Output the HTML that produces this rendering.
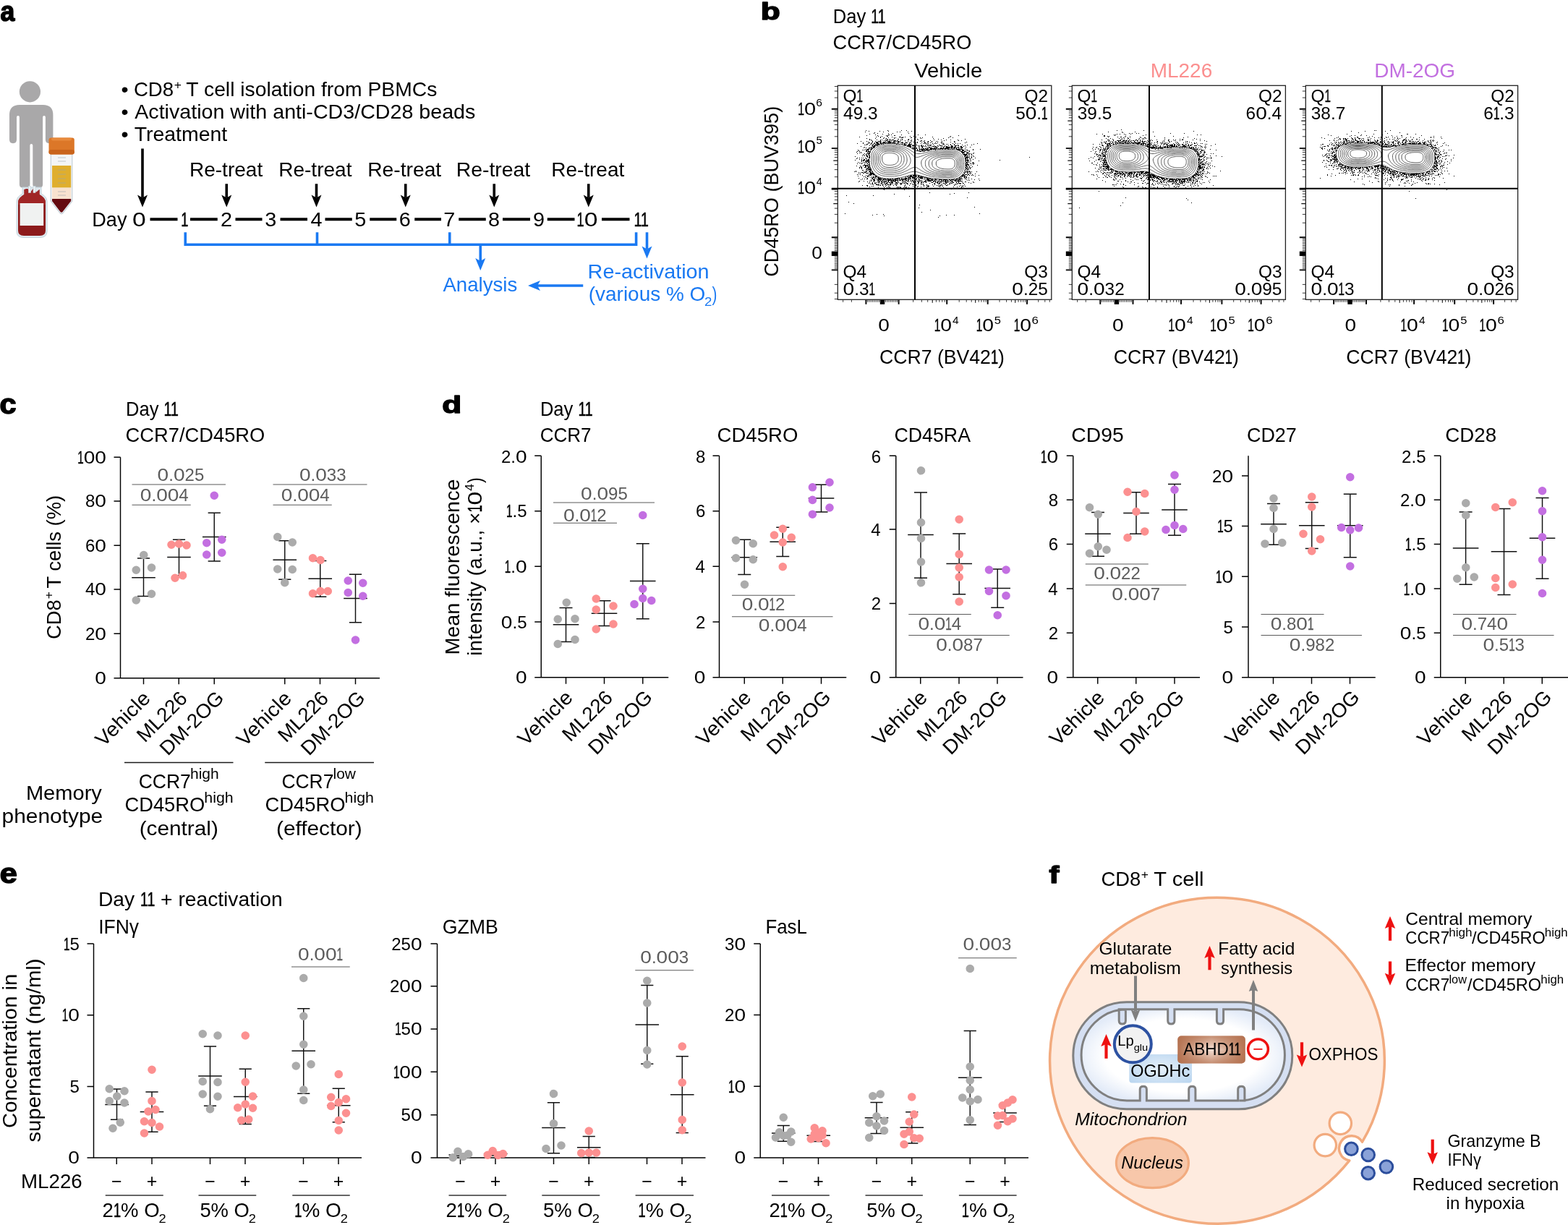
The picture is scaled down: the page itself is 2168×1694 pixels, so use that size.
<!DOCTYPE html>
<html lang="en"><head><meta charset="utf-8"><title>Figure</title>
<style>
html,body{margin:0;padding:0;background:#fff;}
body{width:2168px;height:1694px;overflow:hidden;}
svg{display:block;font-family:"Liberation Sans",sans-serif;}
text{white-space:pre;}
</style></head><body>
<svg width="2168" height="1694" viewBox="0 0 2168 1694">
<rect width="2168" height="1694" fill="#fff"/>
<g stroke="#000" stroke-width="1.5" stroke-linejoin="round">
<text font-size="38" x="0.56" y="28.8" font-weight="bold" textLength="19.82" lengthAdjust="spacingAndGlyphs">a</text>
<text font-size="34" x="1051.68" y="27.4" font-weight="bold" textLength="27.03" lengthAdjust="spacingAndGlyphs">b</text>
<text font-size="38" x="-0.42" y="572.3" font-weight="bold" textLength="23.03" lengthAdjust="spacingAndGlyphs">c</text>
<text font-size="34" x="611.39" y="571.4" font-weight="bold" textLength="26.91" lengthAdjust="spacingAndGlyphs">d</text>
<text font-size="38" x="-0.19" y="1221.4" font-weight="bold" textLength="24.07" lengthAdjust="spacingAndGlyphs">e</text>
<text font-size="34" x="1450.49" y="1221.4" font-weight="bold" textLength="13.83" lengthAdjust="spacingAndGlyphs">f</text>
</g>
<g>
<circle cx="41.4" cy="126.8" r="14.6" fill="#a9a8a9"/>
<path d="M13 159 Q13 145 27 145 L59.5 145 Q73.4 145 73.4 159 L73.4 193 Q73.4 198.2 68.2 198.2 Q62.9 198.2 62.9 193 L62.9 162 Q62.9 160 61 160 Q59.1 160 59.1 162 L59.1 255 Q59.1 259.6 54.5 259.6 L50 259.6 Q45.3 259.6 45.3 255 L45.3 201 Q45.3 199 43.3 199 Q41.4 199 41.4 201 L41.4 255 Q41.4 259.6 36.8 259.6 L31.5 259.6 Q26.9 259.6 26.9 255 L26.9 162 Q26.9 160 25 160 Q23 160 23 162 L23 193 Q23 198.2 18 198.2 Q13 198.2 13 193 Z" fill="#a9a8a9"/>
<path d="M31 259 L31 268 Q23 272 23 279 L23 320 Q23 328.5 33 328.5 L55 328.5 Q65 328.5 65 320 L65 279 Q65 272 57 268 L57 259 Z" fill="#dfe9ee" stroke="#c3d3dc" stroke-width="1"/>
<path d="M33.5 262 L33.5 269 Q25 273.5 25 280 L25 319 Q25 326 33 326 L55 326 Q63 326 63 319 L63 280 Q63 273.5 54.5 269 L54.5 262 L50 266 L46 261 L42 266 L38 261 Z" fill="#8c1a1b"/>
<path d="M33.5 262 L33.5 269 Q25 273.5 25 280 L25 283 L63 283 L63 280 Q63 273.5 54.5 269 L54.5 262 L50 266 L46 261 L42 266 L38 261 Z" fill="#a02626"/>
<rect x="39.5" y="257.5" width="3" height="9" fill="#eef3f5" stroke="#c3d3dc" stroke-width="0.7"/>
<rect x="46" y="257.5" width="3" height="9" fill="#eef3f5" stroke="#c3d3dc" stroke-width="0.7"/>
<rect x="27.6" y="281" width="32.6" height="31" fill="#f0f2f1"/>
<path d="M70.3 212 L70.3 278 L83 294.5 Q85 296.5 87 294.5 L99.8 278 L99.8 212 Z" fill="#f3f5f7" stroke="#c5d0d8" stroke-width="1.2"/>
<path d="M72 229 L98.2 229 L98.2 259.6 L72 259.6 Z" fill="#dfae2e"/>
<path d="M72 259.6 L98.2 259.6 L98.2 275 L72 275 Z" fill="#f8e2cf"/>
<path d="M72 275 L98.2 275 L98.2 278 L86.5 293 Q85 294.5 83.5 293 L72 278 Z" fill="#640a10"/>
<line x1="80" y1="218" x2="91" y2="218" stroke="#9aa6ad" stroke-width="0.6"/>
<line x1="80" y1="223" x2="91" y2="223" stroke="#9aa6ad" stroke-width="0.6"/>
<line x1="80" y1="235" x2="91" y2="235" stroke="#9aa6ad" stroke-width="0.6"/>
<line x1="80" y1="241" x2="91" y2="241" stroke="#9aa6ad" stroke-width="0.6"/>
<line x1="80" y1="247" x2="91" y2="247" stroke="#9aa6ad" stroke-width="0.6"/>
<line x1="80" y1="253" x2="91" y2="253" stroke="#9aa6ad" stroke-width="0.6"/>
<line x1="80" y1="265" x2="91" y2="265" stroke="#9aa6ad" stroke-width="0.6"/>
<line x1="80" y1="270" x2="91" y2="270" stroke="#9aa6ad" stroke-width="0.6"/>
<rect x="67.5" y="190.5" width="35.3" height="23" fill="#dc7728" rx="3"/>
<rect x="67.5" y="207" width="35.3" height="6.6" fill="#c9641c" rx="3"/>
<rect x="71" y="190.5" width="28" height="4" fill="#e88a3c" rx="2"/>
</g>
<text font-size="27.6" x="167.45" y="133" textLength="10.1" lengthAdjust="spacingAndGlyphs">•</text>
<text font-size="27.6" x="184.9" y="133" textLength="55.31" lengthAdjust="spacingAndGlyphs">CD8</text>
<text font-size="16" x="240.65" y="123" textLength="10.22" lengthAdjust="spacingAndGlyphs">+</text>
<text font-size="27.6" x="257.37" y="133" textLength="346.96" lengthAdjust="spacingAndGlyphs">T cell isolation from PBMCs</text>
<text font-size="27.6" x="167.45" y="163.75" textLength="10.1" lengthAdjust="spacingAndGlyphs">•</text>
<text font-size="27.6" x="186.24" y="163.75" textLength="471.09" lengthAdjust="spacingAndGlyphs">Activation with anti-CD3/CD28 beads</text>
<text font-size="27.6" x="167.45" y="194.5" textLength="10.1" lengthAdjust="spacingAndGlyphs">•</text>
<text font-size="27.6" x="185.67" y="194.5" textLength="128.54" lengthAdjust="spacingAndGlyphs">Treatment</text>
<text font-size="27.6" x="261.95" y="243.75" textLength="101.25" lengthAdjust="spacingAndGlyphs">Re-treat</text>
<text font-size="27.6" x="385.2" y="243.75" textLength="101.25" lengthAdjust="spacingAndGlyphs">Re-treat</text>
<text font-size="27.6" x="508.18" y="243.75" textLength="102.02" lengthAdjust="spacingAndGlyphs">Re-treat</text>
<text font-size="27.6" x="630.67" y="243.75" textLength="102.54" lengthAdjust="spacingAndGlyphs">Re-treat</text>
<text font-size="27.6" x="762.21" y="243.75" textLength="101" lengthAdjust="spacingAndGlyphs">Re-treat</text>
<line x1="197" y1="205.5" x2="197" y2="273.5" stroke="#000" stroke-width="3.6"/>
<path d="M197 286.5L190 269.5L197 273.5L204 269.5Z" fill="#000"/>
<line x1="313.25" y1="254.25" x2="313.25" y2="273.5" stroke="#000" stroke-width="3.6"/>
<path d="M313.25 286.5L306.25 269.5L313.25 273.5L320.25 269.5Z" fill="#000"/>
<line x1="437.5" y1="254.25" x2="437.5" y2="273.5" stroke="#000" stroke-width="3.6"/>
<path d="M437.5 286.5L430.5 269.5L437.5 273.5L444.5 269.5Z" fill="#000"/>
<line x1="560.75" y1="254.25" x2="560.75" y2="273.5" stroke="#000" stroke-width="3.6"/>
<path d="M560.75 286.5L553.75 269.5L560.75 273.5L567.75 269.5Z" fill="#000"/>
<line x1="683.25" y1="254.25" x2="683.25" y2="273.5" stroke="#000" stroke-width="3.6"/>
<path d="M683.25 286.5L676.25 269.5L683.25 273.5L690.25 269.5Z" fill="#000"/>
<line x1="813.75" y1="254.25" x2="813.75" y2="273.5" stroke="#000" stroke-width="3.6"/>
<path d="M813.75 286.5L806.75 269.5L813.75 273.5L820.75 269.5Z" fill="#000"/>
<text font-size="27.6" x="127.27" y="313.25"><tspan textLength="55.82" lengthAdjust="spacingAndGlyphs">Day </tspan><tspan textLength="18.73" lengthAdjust="spacingAndGlyphs">0</tspan></text>
<text font-size="27.6" x="250.19" y="313.25" textLength="10.13" lengthAdjust="spacingAndGlyphs" stroke="#000" stroke-width="0.58">1</text>
<text font-size="27.6" x="304.98" y="313.25" textLength="16.04" lengthAdjust="spacingAndGlyphs">2</text>
<text font-size="27.6" x="366.31" y="313.25" textLength="16.04" lengthAdjust="spacingAndGlyphs">3</text>
<text font-size="27.6" x="429.57" y="313.25" textLength="16.04" lengthAdjust="spacingAndGlyphs">4</text>
<text font-size="27.6" x="490.26" y="313.25" textLength="16.04" lengthAdjust="spacingAndGlyphs">5</text>
<text font-size="27.6" x="551.88" y="313.25" textLength="16.04" lengthAdjust="spacingAndGlyphs">6</text>
<text font-size="27.6" x="613.22" y="313.25" textLength="16.04" lengthAdjust="spacingAndGlyphs">7</text>
<text font-size="27.6" x="674.98" y="313.25" textLength="16.04" lengthAdjust="spacingAndGlyphs">8</text>
<text font-size="27.6" x="736.99" y="313.25" textLength="16.04" lengthAdjust="spacingAndGlyphs">9</text>
<text font-size="27.6" x="797.54" y="313.25"><tspan textLength="10.13" lengthAdjust="spacingAndGlyphs" stroke="#000" stroke-width="0.58">1</tspan><tspan textLength="18.73" lengthAdjust="spacingAndGlyphs">0</tspan></text>
<text font-size="27.6" x="876.62" y="313.25" textLength="20.26" lengthAdjust="spacingAndGlyphs" stroke="#000" stroke-width="0.58">11</text>
<line x1="207.5" y1="303.3" x2="245.5" y2="303.3" stroke="#000" stroke-width="4"/>
<line x1="263" y1="303.3" x2="300.75" y2="303.3" stroke="#000" stroke-width="4"/>
<line x1="325.5" y1="303.3" x2="362.5" y2="303.3" stroke="#000" stroke-width="4"/>
<line x1="387.5" y1="303.3" x2="425" y2="303.3" stroke="#000" stroke-width="4"/>
<line x1="449.5" y1="303.3" x2="486.75" y2="303.3" stroke="#000" stroke-width="4"/>
<line x1="511.25" y1="303.3" x2="548.25" y2="303.3" stroke="#000" stroke-width="4"/>
<line x1="573.25" y1="303.3" x2="610" y2="303.3" stroke="#000" stroke-width="4"/>
<line x1="634.25" y1="303.3" x2="671.75" y2="303.3" stroke="#000" stroke-width="4"/>
<line x1="695" y1="303.3" x2="733" y2="303.3" stroke="#000" stroke-width="4"/>
<line x1="756.75" y1="303.3" x2="794.5" y2="303.3" stroke="#000" stroke-width="4"/>
<line x1="832" y1="303.3" x2="870.5" y2="303.3" stroke="#000" stroke-width="4"/>
<path d="M256.25 321.25V338.3H879.6V321.25M438.5 321.25V338.3M621.75 321.25V338.3" fill="none" stroke="#1a79f2" stroke-width="3.6" stroke-linejoin="miter"/>
<line x1="664.25" y1="338" x2="664.25" y2="361" stroke="#1a79f2" stroke-width="3.6"/>
<path d="M664.25 374L657.25 357L664.25 361L671.25 357Z" fill="#1a79f2"/>
<line x1="894.5" y1="321.25" x2="894.5" y2="344.5" stroke="#1a79f2" stroke-width="3.6"/>
<path d="M894.5 357.5L887.5 340.5L894.5 344.5L901.5 340.5Z" fill="#1a79f2"/>
<line x1="806.25" y1="395" x2="743" y2="395" stroke="#1a79f2" stroke-width="3.6"/>
<path d="M730 395L747 388L743 395L747 402Z" fill="#1a79f2"/>
<text font-size="27.6" x="612.45" y="402.5" fill="#1a79f2" textLength="102.8" lengthAdjust="spacingAndGlyphs">Analysis</text>
<text font-size="27.6" x="812.64" y="385" fill="#1a79f2" textLength="167.98" lengthAdjust="spacingAndGlyphs">Re-activation</text>
<text font-size="27.6" x="813.77" y="416.25" fill="#1a79f2" textLength="161.57" lengthAdjust="spacingAndGlyphs">(various % O</text>
<text font-size="16" x="974.06" y="422.5" fill="#1a79f2" textLength="10.38" lengthAdjust="spacingAndGlyphs">2</text>
<text font-size="27.6" x="984.38" y="416.25" fill="#1a79f2" textLength="6.91" lengthAdjust="spacingAndGlyphs">)</text>
<text font-size="27.6" x="1151.7" y="32"><tspan textLength="52.63" lengthAdjust="spacingAndGlyphs">Day </tspan><tspan textLength="20.26" lengthAdjust="spacingAndGlyphs" stroke="#000" stroke-width="0.58">11</tspan></text>
<text font-size="27.6" x="1151.62" y="67.5" textLength="191.68" lengthAdjust="spacingAndGlyphs">CCR7/CD45RO</text>
<text font-size="27.6" x="-117.85" y="0" transform="translate(1076.3 265) rotate(-90)" textLength="236" lengthAdjust="spacingAndGlyphs">CD45RO (BUV395)</text>
<text font-size="27.6" x="1264.17" y="106.8" fill="#000" textLength="94.1" lengthAdjust="spacingAndGlyphs">Vehicle</text>
<path d="M1181 237h1M1182 216h1M1182 221h1M1183 236h1M1183 237h1M1184 210h1M1184 219h1M1184 229h1M1185 198h1M1185 209h1M1185 212h1M1185 218h1M1185 226h1M1185 241h1M1186 207h1M1186 224h1M1186 243h1M1187 208h1M1187 238h1M1187 240h1M1187 246h1M1187 251h1M1188 189h1M1188 209h1M1188 211h1M1188 218h1M1188 220h1M1188 225h1M1188 231h1M1188 232h1M1188 250h1M1189 229h1M1189 239h1M1189 241h1M1190 195h1M1190 202h1M1190 210h1M1190 211h1M1190 225h1M1190 230h1M1190 231h1M1190 248h1M1191 218h1M1191 220h1M1191 221h1M1191 222h1M1191 223h1M1191 226h1M1191 231h1M1191 232h1M1191 233h1M1191 238h1M1192 207h1M1192 215h1M1192 225h1M1192 235h1M1192 238h1M1192 242h1M1192 247h1M1192 256h1M1193 197h1M1193 198h1M1193 213h1M1193 218h1M1193 221h1M1193 222h1M1193 229h1M1193 235h1M1193 239h1M1194 204h1M1194 207h1M1194 214h1M1194 220h1M1194 221h1M1194 222h1M1194 224h1M1194 228h1M1194 237h1M1194 239h1M1194 244h1M1194 250h1M1195 200h1M1195 203h1M1195 212h1M1195 215h1M1195 220h1M1195 221h1M1195 225h1M1195 227h1M1195 228h1M1195 231h1M1195 238h1M1195 247h1M1196 182h1M1196 206h1M1196 218h1M1196 223h1M1196 228h1M1196 229h1M1196 230h1M1196 231h1M1196 237h1M1196 238h1M1196 244h1M1197 180h1M1197 200h1M1197 204h1M1197 208h1M1197 209h1M1197 213h1M1197 214h1M1197 219h1M1197 221h1M1197 222h1M1197 223h1M1197 224h1M1197 225h1M1197 228h1M1197 229h1M1197 230h1M1197 231h1M1197 233h1M1197 235h1M1197 237h1M1197 239h1M1197 242h1M1197 245h1M1198 187h1M1198 191h1M1198 195h1M1198 199h1M1198 206h1M1198 207h1M1198 208h1M1198 209h1M1198 212h1M1198 214h1M1198 215h1M1198 216h1M1198 219h1M1198 221h1M1198 223h1M1198 228h1M1198 233h1M1198 234h1M1198 236h1M1198 237h1M1198 239h1M1198 247h1M1198 256h1M1199 199h1M1199 206h1M1199 207h1M1199 210h1M1199 212h1M1199 215h1M1199 216h1M1199 217h1M1199 221h1M1199 222h1M1199 223h1M1199 225h1M1199 226h1M1199 228h1M1199 229h1M1199 230h1M1199 232h1M1199 233h1M1199 235h1M1199 239h1M1199 243h1M1199 244h1M1199 246h1M1199 247h1M1199 251h1M1199 256h1M1199 257h1M1200 196h1M1200 198h1M1200 206h1M1200 207h1M1200 208h1M1200 209h1M1200 210h1M1200 212h1M1200 213h1M1200 220h1M1200 221h1M1200 222h1M1200 223h1M1200 224h1M1200 227h1M1200 229h1M1200 231h1M1200 232h1M1200 234h1M1200 239h1M1200 242h1M1200 243h1M1201 181h1M1201 197h1M1201 204h1M1201 205h1M1201 206h1M1201 209h1M1201 211h1M1201 212h1M1201 214h1M1201 215h1M1201 217h1M1201 218h1M1201 220h1M1201 221h1M1201 222h1M1201 224h1M1201 225h1M1201 227h1M1201 229h1M1201 230h1M1201 231h1M1201 232h1M1201 233h1M1201 234h1M1201 235h1M1201 237h1M1201 241h1M1201 244h1M1201 253h1M1202 185h1M1202 192h1M1202 193h1M1202 197h1M1202 201h1M1202 204h1M1202 209h1M1202 210h1M1202 211h1M1202 212h1M1202 213h1M1202 215h1M1202 216h1M1202 217h1M1202 218h1M1202 223h1M1202 226h1M1202 227h1M1202 228h1M1202 229h1M1202 231h1M1202 233h1M1202 234h1M1202 236h1M1202 237h1M1202 239h1M1202 241h1M1202 242h1M1202 250h1M1202 252h1M1202 258h1M1203 199h1M1203 204h1M1203 206h1M1203 208h1M1203 210h1M1203 231h1M1203 232h1M1203 233h1M1203 234h1M1203 235h1M1203 236h1M1203 237h1M1203 238h1M1203 239h1M1203 240h1M1203 241h1M1203 242h1M1203 254h1M1204 193h1M1204 198h1M1204 203h1M1204 205h1M1204 206h1M1204 207h1M1204 233h1M1204 234h1M1204 235h1M1204 238h1M1204 239h1M1204 240h1M1204 241h1M1204 245h1M1204 248h1M1204 249h1M1204 250h1M1205 194h1M1205 197h1M1205 198h1M1205 200h1M1205 203h1M1205 204h1M1205 205h1M1205 206h1M1205 236h1M1205 237h1M1205 239h1M1205 240h1M1205 241h1M1205 243h1M1205 246h1M1205 254h1M1205 257h1M1205 260h1M1206 195h1M1206 196h1M1206 200h1M1206 201h1M1206 202h1M1206 205h1M1206 237h1M1206 238h1M1206 239h1M1206 240h1M1206 245h1M1206 246h1M1206 247h1M1206 252h1M1206 253h1M1206 254h1M1207 199h1M1207 202h1M1207 203h1M1207 204h1M1207 239h1M1207 240h1M1207 241h1M1207 244h1M1207 245h1M1207 247h1M1207 248h1M1207 250h1M1207 255h1M1207 257h1M1208 184h1M1208 198h1M1208 200h1M1208 201h1M1208 202h1M1208 203h1M1208 204h1M1208 240h1M1208 241h1M1208 242h1M1208 244h1M1208 245h1M1208 248h1M1208 249h1M1208 250h1M1209 183h1M1209 197h1M1209 198h1M1209 201h1M1209 202h1M1209 203h1M1209 241h1M1209 246h1M1209 247h1M1209 248h1M1209 249h1M1209 250h1M1209 252h1M1209 253h1M1210 186h1M1210 191h1M1210 195h1M1210 199h1M1210 200h1M1210 201h1M1210 242h1M1210 243h1M1210 244h1M1210 245h1M1210 253h1M1211 189h1M1211 196h1M1211 197h1M1211 199h1M1211 201h1M1211 243h1M1211 244h1M1211 246h1M1211 252h1M1211 254h1M1211 255h1M1212 193h1M1212 196h1M1212 197h1M1212 198h1M1212 199h1M1212 200h1M1212 201h1M1212 243h1M1212 244h1M1212 248h1M1212 255h1M1213 184h1M1213 187h1M1213 196h1M1213 197h1M1213 198h1M1213 199h1M1213 201h1M1213 245h1M1213 247h1M1213 249h1M1213 251h1M1213 255h1M1214 188h1M1214 195h1M1214 197h1M1214 198h1M1214 199h1M1214 200h1M1214 244h1M1214 245h1M1214 246h1M1214 247h1M1214 248h1M1214 249h1M1214 250h1M1214 252h1M1214 254h1M1214 255h1M1214 256h1M1214 259h1M1215 195h1M1215 199h1M1215 200h1M1215 245h1M1215 246h1M1215 247h1M1215 248h1M1215 250h1M1215 251h1M1215 252h1M1216 181h1M1216 195h1M1216 197h1M1216 199h1M1216 246h1M1216 247h1M1216 248h1M1216 249h1M1216 251h1M1216 254h1M1216 256h1M1217 189h1M1217 190h1M1217 193h1M1217 194h1M1217 195h1M1217 196h1M1217 197h1M1217 198h1M1217 245h1M1217 246h1M1217 247h1M1217 248h1M1217 249h1M1217 256h1M1218 196h1M1218 198h1M1218 199h1M1218 247h1M1218 250h1M1218 251h1M1218 253h1M1218 254h1M1219 188h1M1219 193h1M1219 198h1M1219 199h1M1219 246h1M1219 247h1M1219 248h1M1219 249h1M1219 251h1M1219 252h1M1219 253h1M1220 185h1M1220 197h1M1220 249h1M1220 251h1M1220 254h1M1220 255h1M1220 256h1M1221 182h1M1221 191h1M1221 196h1M1221 197h1M1221 198h1M1221 199h1M1221 247h1M1221 248h1M1221 249h1M1221 251h1M1221 257h1M1221 261h1M1222 190h1M1222 194h1M1222 196h1M1222 197h1M1222 247h1M1222 248h1M1222 251h1M1222 252h1M1222 254h1M1222 259h1M1222 261h1M1222 262h1M1223 196h1M1223 197h1M1223 198h1M1223 247h1M1223 249h1M1223 250h1M1223 251h1M1223 253h1M1223 260h1M1224 192h1M1224 194h1M1224 195h1M1224 197h1M1224 198h1M1224 247h1M1224 248h1M1224 251h1M1224 254h1M1224 255h1M1224 257h1M1225 187h1M1225 191h1M1225 194h1M1225 197h1M1225 248h1M1225 249h1M1225 250h1M1225 251h1M1225 253h1M1225 254h1M1225 256h1M1226 188h1M1226 192h1M1226 193h1M1226 194h1M1226 196h1M1226 198h1M1226 247h1M1226 252h1M1226 253h1M1226 259h1M1227 180h1M1227 187h1M1227 188h1M1227 193h1M1227 195h1M1227 197h1M1227 198h1M1227 247h1M1227 248h1M1227 249h1M1227 250h1M1227 252h1M1227 254h1M1227 255h1M1228 181h1M1228 184h1M1228 186h1M1228 190h1M1228 195h1M1228 196h1M1228 197h1M1228 198h1M1228 247h1M1228 248h1M1228 249h1M1228 250h1M1228 251h1M1228 255h1M1228 257h1M1228 259h1M1229 186h1M1229 193h1M1229 195h1M1229 196h1M1229 197h1M1229 198h1M1229 248h1M1229 249h1M1229 252h1M1229 258h1M1230 192h1M1230 194h1M1230 195h1M1230 196h1M1230 197h1M1230 198h1M1230 247h1M1230 248h1M1230 249h1M1230 252h1M1230 254h1M1230 255h1M1230 256h1M1230 259h1M1231 193h1M1231 196h1M1231 197h1M1231 198h1M1231 247h1M1231 248h1M1231 249h1M1231 251h1M1231 253h1M1231 254h1M1231 255h1M1231 260h1M1232 186h1M1232 194h1M1232 196h1M1232 198h1M1232 248h1M1232 249h1M1232 250h1M1232 251h1M1232 252h1M1232 254h1M1233 189h1M1233 193h1M1233 197h1M1233 198h1M1233 247h1M1233 249h1M1233 251h1M1233 252h1M1233 253h1M1234 184h1M1234 193h1M1234 197h1M1234 247h1M1234 248h1M1234 249h1M1234 250h1M1234 251h1M1234 252h1M1234 254h1M1234 260h1M1235 193h1M1235 195h1M1235 196h1M1235 197h1M1235 198h1M1235 248h1M1235 249h1M1235 250h1M1235 256h1M1235 260h1M1236 187h1M1236 190h1M1236 191h1M1236 194h1M1236 195h1M1236 197h1M1236 198h1M1236 248h1M1236 250h1M1237 187h1M1237 194h1M1237 195h1M1237 196h1M1237 197h1M1237 198h1M1237 247h1M1237 248h1M1237 249h1M1237 250h1M1237 251h1M1237 254h1M1238 190h1M1238 194h1M1238 198h1M1238 247h1M1238 248h1M1238 249h1M1238 250h1M1238 252h1M1238 253h1M1238 255h1M1239 195h1M1239 199h1M1239 247h1M1239 249h1M1239 252h1M1239 253h1M1239 255h1M1239 256h1M1240 182h1M1240 194h1M1240 197h1M1240 199h1M1240 246h1M1240 247h1M1240 248h1M1240 249h1M1240 252h1M1240 253h1M1240 254h1M1240 258h1M1240 259h1M1241 192h1M1241 194h1M1241 195h1M1241 196h1M1241 198h1M1241 246h1M1241 247h1M1241 249h1M1241 250h1M1241 251h1M1241 260h1M1241 261h1M1242 192h1M1242 195h1M1242 196h1M1242 197h1M1242 199h1M1242 246h1M1242 248h1M1242 252h1M1242 258h1M1242 259h1M1243 189h1M1243 196h1M1243 199h1M1243 246h1M1243 247h1M1243 249h1M1244 182h1M1244 189h1M1244 195h1M1244 199h1M1244 247h1M1244 248h1M1244 249h1M1244 253h1M1244 258h1M1244 259h1M1244 260h1M1245 189h1M1245 192h1M1245 194h1M1245 197h1M1245 249h1M1245 253h1M1245 254h1M1245 255h1M1245 259h1M1246 180h1M1246 186h1M1246 190h1M1246 197h1M1246 199h1M1246 246h1M1246 247h1M1246 248h1M1246 253h1M1246 254h1M1247 190h1M1247 192h1M1247 193h1M1247 196h1M1247 197h1M1247 199h1M1247 247h1M1247 248h1M1247 249h1M1247 251h1M1247 261h1M1248 189h1M1248 190h1M1248 197h1M1248 198h1M1248 200h1M1248 246h1M1248 248h1M1248 249h1M1248 250h1M1248 252h1M1248 253h1M1248 260h1M1249 200h1M1249 247h1M1249 248h1M1249 251h1M1249 259h1M1249 261h1M1250 198h1M1250 199h1M1250 200h1M1250 201h1M1250 246h1M1250 248h1M1250 250h1M1250 253h1M1250 257h1M1250 262h1M1251 189h1M1251 194h1M1251 198h1M1251 199h1M1251 200h1M1251 246h1M1251 247h1M1251 248h1M1251 251h1M1251 252h1M1251 253h1M1251 255h1M1251 256h1M1251 258h1M1251 259h1M1252 196h1M1252 197h1M1252 200h1M1252 201h1M1252 244h1M1252 245h1M1252 246h1M1252 247h1M1252 248h1M1252 249h1M1252 250h1M1253 180h1M1253 197h1M1253 199h1M1253 246h1M1253 247h1M1253 249h1M1253 252h1M1253 253h1M1253 258h1M1253 259h1M1253 260h1M1254 197h1M1254 201h1M1254 202h1M1254 244h1M1254 247h1M1254 250h1M1254 253h1M1254 254h1M1255 182h1M1255 193h1M1255 195h1M1255 200h1M1255 201h1M1255 202h1M1255 244h1M1255 245h1M1255 247h1M1255 249h1M1255 250h1M1255 254h1M1256 184h1M1256 192h1M1256 193h1M1256 199h1M1256 200h1M1256 201h1M1256 202h1M1256 243h1M1256 245h1M1256 246h1M1256 247h1M1256 248h1M1256 249h1M1256 251h1M1256 259h1M1256 261h1M1257 197h1M1257 198h1M1257 199h1M1257 200h1M1257 201h1M1257 202h1M1257 244h1M1257 245h1M1257 247h1M1257 256h1M1258 188h1M1258 196h1M1258 199h1M1258 200h1M1258 201h1M1258 202h1M1258 203h1M1258 242h1M1258 243h1M1258 244h1M1258 245h1M1258 246h1M1258 247h1M1258 254h1M1259 190h1M1259 194h1M1259 197h1M1259 199h1M1259 201h1M1259 202h1M1259 203h1M1259 242h1M1259 243h1M1259 244h1M1259 246h1M1259 248h1M1259 249h1M1259 250h1M1259 253h1M1260 181h1M1260 190h1M1260 193h1M1260 195h1M1260 199h1M1260 242h1M1260 243h1M1260 244h1M1260 251h1M1261 201h1M1261 204h1M1261 205h1M1261 244h1M1261 245h1M1261 246h1M1261 249h1M1261 254h1M1262 200h1M1262 201h1M1262 202h1M1262 204h1M1262 206h1M1262 242h1M1262 243h1M1262 244h1M1262 245h1M1262 246h1M1262 248h1M1262 249h1M1262 250h1M1262 251h1M1262 255h1M1262 257h1M1263 188h1M1263 196h1M1263 201h1M1263 204h1M1263 205h1M1263 242h1M1263 243h1M1263 245h1M1263 246h1M1263 251h1M1263 252h1M1263 254h1M1264 195h1M1264 199h1M1264 205h1M1264 206h1M1264 207h1M1264 243h1M1264 244h1M1264 245h1M1264 246h1M1264 248h1M1264 252h1M1264 254h1M1265 198h1M1265 200h1M1265 202h1M1265 206h1M1265 207h1M1265 242h1M1265 243h1M1265 244h1M1265 245h1M1265 246h1M1265 251h1M1265 256h1M1265 260h1M1266 189h1M1266 197h1M1266 199h1M1266 201h1M1266 203h1M1266 205h1M1266 242h1M1266 243h1M1266 244h1M1266 247h1M1266 248h1M1266 251h1M1266 255h1M1266 256h1M1267 200h1M1267 204h1M1267 205h1M1267 208h1M1267 242h1M1267 244h1M1267 246h1M1267 247h1M1267 249h1M1268 192h1M1268 196h1M1268 197h1M1268 206h1M1268 207h1M1268 208h1M1268 245h1M1268 250h1M1268 258h1M1269 186h1M1269 193h1M1269 201h1M1269 208h1M1269 242h1M1269 243h1M1269 244h1M1269 250h1M1269 251h1M1269 252h1M1269 253h1M1269 254h1M1269 257h1M1270 202h1M1270 204h1M1270 208h1M1270 242h1M1270 243h1M1270 244h1M1270 245h1M1270 246h1M1270 247h1M1270 248h1M1270 249h1M1270 251h1M1270 252h1M1271 201h1M1271 203h1M1271 205h1M1271 206h1M1271 207h1M1271 209h1M1271 243h1M1271 245h1M1271 248h1M1271 250h1M1272 190h1M1272 195h1M1272 206h1M1272 208h1M1272 209h1M1272 244h1M1272 245h1M1272 246h1M1272 249h1M1272 250h1M1273 191h1M1273 194h1M1273 198h1M1273 201h1M1273 206h1M1273 209h1M1273 243h1M1273 244h1M1273 245h1M1273 246h1M1273 247h1M1273 252h1M1273 253h1M1273 255h1M1273 258h1M1274 194h1M1274 196h1M1274 200h1M1274 201h1M1274 202h1M1274 203h1M1274 205h1M1274 206h1M1274 207h1M1274 208h1M1274 244h1M1274 245h1M1274 246h1M1274 249h1M1274 250h1M1274 251h1M1274 252h1M1274 254h1M1275 190h1M1275 202h1M1275 203h1M1275 204h1M1275 206h1M1275 207h1M1275 208h1M1275 244h1M1275 245h1M1275 246h1M1275 247h1M1275 260h1M1276 198h1M1276 201h1M1276 205h1M1276 206h1M1276 207h1M1276 208h1M1276 209h1M1276 244h1M1276 251h1M1276 252h1M1276 254h1M1276 255h1M1277 195h1M1277 202h1M1277 205h1M1277 206h1M1277 208h1M1277 245h1M1277 247h1M1277 256h1M1277 257h1M1278 194h1M1278 196h1M1278 197h1M1278 198h1M1278 206h1M1278 207h1M1278 208h1M1278 209h1M1278 245h1M1278 247h1M1278 250h1M1278 251h1M1279 186h1M1279 197h1M1279 201h1M1279 202h1M1279 205h1M1279 207h1M1279 245h1M1279 247h1M1279 249h1M1279 250h1M1279 251h1M1280 198h1M1280 199h1M1280 204h1M1280 205h1M1280 206h1M1280 207h1M1280 245h1M1280 249h1M1280 251h1M1280 252h1M1281 202h1M1281 206h1M1281 207h1M1281 245h1M1281 246h1M1281 247h1M1281 248h1M1281 250h1M1281 255h1M1281 256h1M1281 258h1M1281 259h1M1282 196h1M1282 198h1M1282 200h1M1282 204h1M1282 205h1M1282 206h1M1282 207h1M1282 208h1M1282 246h1M1282 247h1M1282 248h1M1282 249h1M1282 257h1M1283 195h1M1283 196h1M1283 198h1M1283 200h1M1283 203h1M1283 205h1M1283 206h1M1283 208h1M1283 246h1M1283 247h1M1283 248h1M1283 249h1M1283 250h1M1283 256h1M1283 257h1M1283 258h1M1283 260h1M1284 201h1M1284 203h1M1284 207h1M1284 208h1M1284 247h1M1284 248h1M1284 249h1M1284 250h1M1284 257h1M1284 261h1M1285 200h1M1285 203h1M1285 204h1M1285 206h1M1285 207h1M1285 246h1M1285 247h1M1285 249h1M1285 250h1M1285 253h1M1286 194h1M1286 197h1M1286 200h1M1286 201h1M1286 204h1M1286 205h1M1286 206h1M1286 247h1M1286 249h1M1286 250h1M1286 261h1M1287 200h1M1287 202h1M1287 204h1M1287 205h1M1287 206h1M1287 207h1M1287 247h1M1287 248h1M1287 249h1M1287 251h1M1288 195h1M1288 196h1M1288 204h1M1288 205h1M1288 206h1M1288 248h1M1288 249h1M1288 252h1M1289 189h1M1289 198h1M1289 202h1M1289 205h1M1289 247h1M1289 248h1M1289 249h1M1289 252h1M1289 255h1M1290 191h1M1290 199h1M1290 202h1M1290 205h1M1290 206h1M1290 248h1M1290 250h1M1290 251h1M1290 257h1M1291 193h1M1291 201h1M1291 203h1M1291 205h1M1291 206h1M1291 250h1M1291 253h1M1292 198h1M1292 202h1M1292 204h1M1292 205h1M1292 206h1M1292 247h1M1292 248h1M1292 249h1M1292 250h1M1292 253h1M1292 254h1M1292 255h1M1293 197h1M1293 202h1M1293 203h1M1293 205h1M1293 206h1M1293 207h1M1293 247h1M1293 248h1M1293 250h1M1293 251h1M1293 252h1M1294 195h1M1294 198h1M1294 203h1M1294 204h1M1294 205h1M1294 247h1M1294 248h1M1294 249h1M1295 202h1M1295 204h1M1295 206h1M1295 251h1M1295 252h1M1295 256h1M1296 195h1M1296 197h1M1296 201h1M1296 204h1M1296 206h1M1296 247h1M1296 249h1M1296 251h1M1296 252h1M1296 253h1M1297 192h1M1297 202h1M1297 205h1M1297 206h1M1297 250h1M1297 251h1M1297 253h1M1297 255h1M1297 257h1M1298 200h1M1298 206h1M1298 248h1M1298 249h1M1298 253h1M1299 200h1M1299 205h1M1299 206h1M1299 248h1M1299 250h1M1299 251h1M1299 252h1M1299 253h1M1299 254h1M1299 256h1M1299 257h1M1299 258h1M1300 201h1M1300 204h1M1300 205h1M1300 206h1M1300 248h1M1300 251h1M1300 256h1M1301 193h1M1301 196h1M1301 197h1M1301 201h1M1301 202h1M1301 204h1M1301 205h1M1301 248h1M1301 249h1M1301 250h1M1301 252h1M1301 255h1M1302 195h1M1302 198h1M1302 204h1M1302 205h1M1302 206h1M1302 248h1M1302 250h1M1302 251h1M1302 254h1M1302 256h1M1303 197h1M1303 200h1M1303 202h1M1303 205h1M1303 206h1M1303 249h1M1303 257h1M1304 191h1M1304 198h1M1304 199h1M1304 203h1M1304 204h1M1304 205h1M1304 248h1M1304 249h1M1304 250h1M1304 251h1M1304 253h1M1304 259h1M1305 194h1M1305 199h1M1305 203h1M1305 205h1M1305 248h1M1305 253h1M1306 201h1M1306 202h1M1306 205h1M1306 206h1M1306 248h1M1306 249h1M1306 250h1M1306 251h1M1306 254h1M1307 204h1M1307 205h1M1307 206h1M1307 248h1M1307 249h1M1307 250h1M1307 251h1M1307 252h1M1307 253h1M1307 255h1M1308 193h1M1308 199h1M1308 202h1M1308 203h1M1308 204h1M1308 205h1M1308 248h1M1308 250h1M1308 252h1M1308 253h1M1308 256h1M1309 202h1M1309 203h1M1309 204h1M1309 205h1M1309 248h1M1309 249h1M1309 250h1M1309 251h1M1309 252h1M1309 256h1M1310 199h1M1310 203h1M1310 204h1M1310 205h1M1310 206h1M1310 249h1M1310 251h1M1310 255h1M1311 190h1M1311 201h1M1311 203h1M1311 204h1M1311 205h1M1311 206h1M1311 249h1M1311 251h1M1312 203h1M1312 204h1M1312 206h1M1312 248h1M1312 251h1M1312 254h1M1312 260h1M1313 189h1M1313 203h1M1313 205h1M1313 248h1M1313 249h1M1313 253h1M1313 254h1M1314 188h1M1314 193h1M1314 196h1M1314 199h1M1314 200h1M1314 203h1M1314 206h1M1314 249h1M1314 250h1M1314 252h1M1315 201h1M1315 202h1M1315 203h1M1315 204h1M1315 205h1M1315 248h1M1315 249h1M1315 251h1M1315 253h1M1315 261h1M1316 201h1M1316 202h1M1316 203h1M1316 204h1M1316 206h1M1316 248h1M1316 250h1M1316 251h1M1316 253h1M1317 190h1M1317 198h1M1317 202h1M1317 203h1M1317 205h1M1317 206h1M1317 248h1M1317 249h1M1317 251h1M1317 252h1M1318 204h1M1318 206h1M1318 248h1M1318 252h1M1318 258h1M1319 195h1M1319 196h1M1319 199h1M1319 200h1M1319 203h1M1319 204h1M1319 205h1M1319 206h1M1319 247h1M1319 249h1M1319 255h1M1319 256h1M1320 196h1M1320 201h1M1320 202h1M1320 203h1M1320 204h1M1320 248h1M1320 249h1M1320 250h1M1321 198h1M1321 201h1M1321 202h1M1321 204h1M1321 248h1M1321 249h1M1321 250h1M1321 254h1M1321 255h1M1322 201h1M1322 204h1M1322 205h1M1322 206h1M1322 247h1M1322 248h1M1322 249h1M1322 251h1M1322 252h1M1323 204h1M1323 206h1M1323 207h1M1323 247h1M1323 250h1M1323 253h1M1323 254h1M1323 258h1M1324 193h1M1324 198h1M1324 200h1M1324 201h1M1324 203h1M1324 206h1M1324 207h1M1324 247h1M1324 248h1M1324 249h1M1324 250h1M1325 187h1M1325 194h1M1325 201h1M1325 203h1M1325 204h1M1325 205h1M1325 206h1M1325 207h1M1325 247h1M1325 249h1M1325 250h1M1325 251h1M1325 252h1M1325 253h1M1326 206h1M1326 207h1M1326 208h1M1326 245h1M1326 246h1M1326 247h1M1326 248h1M1326 250h1M1326 253h1M1326 257h1M1327 198h1M1327 203h1M1327 205h1M1327 206h1M1327 208h1M1327 245h1M1327 247h1M1327 248h1M1327 249h1M1327 250h1M1327 253h1M1327 254h1M1328 202h1M1328 203h1M1328 206h1M1328 208h1M1328 244h1M1328 246h1M1328 247h1M1328 250h1M1328 253h1M1328 256h1M1329 194h1M1329 202h1M1329 203h1M1329 204h1M1329 205h1M1329 206h1M1329 209h1M1329 210h1M1329 243h1M1329 245h1M1329 247h1M1329 250h1M1329 258h1M1329 259h1M1330 200h1M1330 203h1M1330 204h1M1330 206h1M1330 207h1M1330 208h1M1330 209h1M1330 210h1M1330 211h1M1330 242h1M1330 243h1M1330 244h1M1330 247h1M1330 250h1M1330 252h1M1330 257h1M1331 207h1M1331 208h1M1331 210h1M1331 211h1M1331 212h1M1331 213h1M1331 241h1M1331 242h1M1331 243h1M1331 253h1M1331 256h1M1331 258h1M1332 202h1M1332 207h1M1332 208h1M1332 210h1M1332 211h1M1332 213h1M1332 241h1M1332 242h1M1332 244h1M1332 253h1M1333 209h1M1333 210h1M1333 212h1M1333 213h1M1333 214h1M1333 216h1M1333 238h1M1333 239h1M1333 240h1M1333 242h1M1333 243h1M1333 244h1M1333 245h1M1333 255h1M1334 192h1M1334 197h1M1334 201h1M1334 205h1M1334 207h1M1334 209h1M1334 213h1M1334 214h1M1334 215h1M1334 216h1M1334 218h1M1334 219h1M1334 235h1M1334 237h1M1334 241h1M1334 243h1M1334 245h1M1334 246h1M1334 247h1M1334 251h1M1334 257h1M1335 203h1M1335 209h1M1335 213h1M1335 214h1M1335 215h1M1335 217h1M1335 218h1M1335 219h1M1335 220h1M1335 221h1M1335 222h1M1335 223h1M1335 225h1M1335 226h1M1335 227h1M1335 228h1M1335 229h1M1335 231h1M1335 232h1M1335 234h1M1335 237h1M1335 238h1M1335 241h1M1335 244h1M1335 251h1M1336 196h1M1336 207h1M1336 210h1M1336 212h1M1336 213h1M1336 214h1M1336 216h1M1336 217h1M1336 218h1M1336 221h1M1336 224h1M1336 225h1M1336 227h1M1336 228h1M1336 229h1M1336 230h1M1336 232h1M1336 233h1M1336 236h1M1336 241h1M1336 244h1M1336 245h1M1336 246h1M1336 248h1M1337 200h1M1337 207h1M1337 210h1M1337 211h1M1337 212h1M1337 214h1M1337 216h1M1337 217h1M1337 218h1M1337 219h1M1337 220h1M1337 221h1M1337 222h1M1337 223h1M1337 224h1M1337 225h1M1337 226h1M1337 227h1M1337 228h1M1337 230h1M1337 231h1M1337 233h1M1337 234h1M1337 236h1M1337 237h1M1337 238h1M1337 239h1M1337 242h1M1338 208h1M1338 211h1M1338 215h1M1338 217h1M1338 221h1M1338 222h1M1338 227h1M1338 232h1M1338 234h1M1338 236h1M1338 238h1M1338 240h1M1338 241h1M1338 249h1M1339 210h1M1339 212h1M1339 213h1M1339 217h1M1339 221h1M1339 223h1M1339 224h1M1339 227h1M1339 228h1M1339 229h1M1339 232h1M1339 234h1M1339 237h1M1339 241h1M1339 245h1M1339 247h1M1339 252h1M1340 208h1M1340 209h1M1340 212h1M1340 214h1M1340 216h1M1340 218h1M1340 230h1M1340 231h1M1340 236h1M1340 237h1M1340 239h1M1340 242h1M1340 249h1M1341 203h1M1341 219h1M1341 220h1M1341 222h1M1341 225h1M1341 232h1M1341 233h1M1341 237h1M1341 238h1M1341 240h1M1342 212h1M1342 222h1M1342 226h1M1342 228h1M1342 231h1M1342 239h1M1342 253h1M1343 200h1M1343 213h1M1343 214h1M1343 216h1M1343 217h1M1343 218h1M1343 237h1M1343 242h1M1343 247h1M1344 225h1M1344 230h1M1344 241h1M1345 206h1M1345 207h1M1345 212h1M1345 215h1M1345 220h1M1345 224h1M1345 225h1M1345 227h1M1345 242h1M1345 251h1M1346 199h1M1346 211h1M1346 216h1M1346 225h1M1346 226h1M1346 252h1M1347 248h1M1347 261h1M1348 218h1M1348 240h1M1348 243h1M1350 237h1M1351 198h1M1351 228h1M1353 222h1M1353 242h1M1353 247h1M1354 249h1M1355 206h1M1286 290h1M1319 297h1M1308 297h1M1173 279h1M1347 286h1M1339 266h1M1257 271h1M1271 283h1M1170 270h1M1221 296h1M1313 268h1M1319 267h1M1285 266h1M1168 295h1M1207 270h1M1354 295h1M1222 298h1M1270 287h1M1206 297h1M1299 298h1M1337 273h1M1236 268h1M1382 221h1M1423 217h1M1274 293h1M1297 300h1M1212 296h1M1180 281h1" fill="none" stroke="#000" stroke-width="1" shape-rendering="crispEdges"/>
<path d="M1224.9 198.5L1225.5 198.5L1226.5 198.4L1227.5 198.4L1228.5 198.4L1229.5 198.4L1230.5 198.4L1231.5 198.4L1232.5 198.5L1233.5 198.5L1234.4 198.5L1235.0 198.5L1236.0 198.6L1237.0 198.6L1238.0 198.7L1239.0 198.8L1240.0 198.9L1241.0 199.0L1241.5 199.0L1242.5 199.1L1243.5 199.3L1244.5 199.5L1245.0 199.5L1246.0 199.7L1247.0 199.9L1247.5 200.1L1248.5 200.3L1249.3 200.5L1250.0 200.7L1251.0 201.0L1251.5 201.2L1252.5 201.5L1253.0 201.7L1253.9 202.0L1254.5 202.3L1255.1 202.5L1256.0 202.9L1256.5 203.1L1257.3 203.5L1258.0 203.8L1258.5 204.1L1259.3 204.5L1260.0 204.9L1260.5 205.1L1261.2 205.5L1262.0 205.9L1262.5 206.2L1263.1 206.5L1264.0 206.9L1264.5 207.2L1265.3 207.5L1266.0 207.8L1266.6 208.0L1267.5 208.3L1268.3 208.5L1269.0 208.7L1270.0 208.8L1271.0 208.9L1272.0 209.0L1272.5 209.0L1273.5 209.0L1274.0 209.0L1275.0 208.9L1276.0 208.8L1277.0 208.7L1278.0 208.6L1278.9 208.5L1279.5 208.4L1280.5 208.3L1281.5 208.1L1282.3 208.0L1283.0 207.9L1284.0 207.8L1285.0 207.6L1285.9 207.5L1286.5 207.4L1287.5 207.3L1288.5 207.2L1289.5 207.0L1290.0 207.0L1291.0 206.9L1292.0 206.8L1293.0 206.7L1294.0 206.6L1295.0 206.5L1295.5 206.5L1296.5 206.4L1297.5 206.4L1298.5 206.3L1299.5 206.3L1300.5 206.2L1301.5 206.2L1302.5 206.2L1303.5 206.1L1304.5 206.1L1305.5 206.1L1306.5 206.1L1307.5 206.1L1308.5 206.1L1309.5 206.1L1310.5 206.1L1311.5 206.1L1312.5 206.1L1313.5 206.1L1314.5 206.1L1315.5 206.1L1316.5 206.2L1317.5 206.2L1318.5 206.4L1319.5 206.5L1320.0 206.6L1321.0 206.8L1322.0 207.0L1322.5 207.1L1323.5 207.4L1324.0 207.6L1325.0 208.0L1325.5 208.2L1326.2 208.5L1327.0 208.9L1327.5 209.2L1328.0 209.6L1328.6 210.0L1329.3 210.5L1329.8 211.0L1330.3 211.5L1330.8 212.0L1331.2 212.5L1331.6 213.0L1332.0 213.5L1332.5 214.3L1332.9 215.0L1333.1 215.5L1333.5 216.4L1333.7 217.0L1334.0 217.9L1334.2 218.5L1334.4 219.5L1334.5 220.1L1334.6 221.0L1334.7 222.0L1334.8 223.0L1334.9 224.0L1334.9 225.0L1334.9 226.0L1334.9 227.0L1334.9 228.0L1334.8 229.0L1334.8 230.0L1334.7 231.0L1334.6 232.0L1334.5 232.5L1334.3 233.5L1334.1 234.5L1334.0 235.0L1333.6 236.0L1333.5 236.5L1333.1 237.5L1332.8 238.0L1332.5 238.7L1332.0 239.5L1331.7 240.0L1331.4 240.5L1331.0 241.0L1330.5 241.6L1330.0 242.1L1329.5 242.6L1329.0 243.1L1328.5 243.5L1327.8 244.0L1327.1 244.5L1326.5 244.9L1326.0 245.1L1325.3 245.5L1324.5 245.8L1324.0 246.0L1323.0 246.4L1322.5 246.6L1321.5 246.8L1320.7 247.0L1320.0 247.1L1319.0 247.3L1318.0 247.4L1317.4 247.5L1316.5 247.6L1315.5 247.6L1314.5 247.7L1313.5 247.7L1312.5 247.7L1311.5 247.7L1310.5 247.7L1309.5 247.7L1308.5 247.7L1307.5 247.7L1306.5 247.7L1305.5 247.7L1304.5 247.6L1303.5 247.6L1302.5 247.6L1301.5 247.6L1300.5 247.5L1300.0 247.5L1299.0 247.4L1298.0 247.4L1297.0 247.3L1296.0 247.3L1295.0 247.2L1294.0 247.1L1293.1 247.0L1292.5 246.9L1291.5 246.8L1290.5 246.7L1289.5 246.6L1288.9 246.5L1288.0 246.4L1287.0 246.2L1286.0 246.1L1285.5 246.0L1284.5 245.8L1283.5 245.6L1283.0 245.5L1282.0 245.3L1281.0 245.1L1280.5 245.0L1279.5 244.7L1278.5 244.5L1278.0 244.4L1277.0 244.1L1276.5 244.0L1275.5 243.7L1274.6 243.5L1274.0 243.3L1273.0 243.1L1272.5 243.0L1271.5 242.7L1270.6 242.5L1270.0 242.4L1269.0 242.2L1268.2 242.0L1267.5 241.9L1266.5 241.8L1265.5 241.7L1264.5 241.6L1263.5 241.6L1262.5 241.7L1261.5 241.8L1260.5 241.9L1259.7 242.0L1259.0 242.1L1258.0 242.3L1257.3 242.5L1256.5 242.7L1255.5 243.0L1255.0 243.1L1254.0 243.4L1253.5 243.5L1252.5 243.8L1251.7 244.0L1251.0 244.2L1250.0 244.5L1249.5 244.6L1248.5 244.8L1247.9 245.0L1247.0 245.2L1246.0 245.4L1245.5 245.5L1244.5 245.7L1243.5 245.9L1242.8 246.0L1242.0 246.1L1241.0 246.3L1240.0 246.4L1239.0 246.5L1238.5 246.5L1237.5 246.6L1236.5 246.7L1235.5 246.7L1234.5 246.8L1233.5 246.8L1232.5 246.8L1231.5 246.9L1230.5 246.9L1229.5 246.9L1228.5 246.9L1227.5 246.8L1226.5 246.8L1225.5 246.8L1224.5 246.7L1223.5 246.6L1222.5 246.5L1222.0 246.5L1221.0 246.3L1220.0 246.1L1219.5 246.0L1218.5 245.8L1217.6 245.5L1217.0 245.3L1216.2 245.0L1215.5 244.7L1214.9 244.5L1214.0 244.1L1213.5 243.8L1212.9 243.5L1212.1 243.0L1211.5 242.6L1211.0 242.2L1210.5 241.9L1210.0 241.4L1209.5 241.0L1208.9 240.5L1208.4 240.0L1208.0 239.5L1207.5 238.9L1207.0 238.3L1206.5 237.6L1206.1 237.0L1205.8 236.5L1205.5 236.0L1205.0 235.2L1204.7 234.5L1204.4 234.0L1204.0 233.0L1203.8 232.5L1203.5 231.6L1203.3 231.0L1203.0 230.0L1202.9 229.5L1202.7 228.5L1202.5 227.6L1202.4 227.0L1202.2 226.0L1202.1 225.0L1202.0 224.0L1202.0 223.5L1201.9 222.5L1201.9 221.5L1201.9 220.5L1201.8 219.5L1201.8 218.5L1201.9 217.5L1201.9 216.5L1201.9 215.5L1202.0 214.9L1202.1 214.0L1202.3 213.0L1202.5 212.0L1202.6 211.5L1203.0 210.5L1203.2 210.0L1203.5 209.2L1203.9 208.5L1204.1 208.0L1204.5 207.4L1205.0 206.7L1205.5 206.1L1206.0 205.5L1206.4 205.0L1207.0 204.5L1207.5 204.0L1208.0 203.6L1208.5 203.2L1209.0 202.9L1209.6 202.5L1210.4 202.0L1211.0 201.7L1211.5 201.4L1212.5 201.0L1213.0 200.8L1213.7 200.5L1214.5 200.2L1215.2 200.0L1216.0 199.8L1217.0 199.5L1217.5 199.4L1218.5 199.2L1219.5 199.0L1220.0 198.9L1221.0 198.8L1222.0 198.7L1223.0 198.6L1224.0 198.5L1224.9 198.5ZM1221.3 201.0L1222.0 200.9L1223.0 200.8L1224.0 200.7L1225.0 200.7L1226.0 200.6L1227.0 200.6L1228.0 200.6L1229.0 200.6L1230.0 200.6L1231.0 200.6L1232.0 200.6L1233.0 200.6L1234.0 200.7L1235.0 200.7L1236.0 200.7L1237.0 200.8L1238.0 200.9L1239.0 201.0L1239.5 201.0L1240.5 201.1L1241.5 201.3L1242.5 201.4L1243.0 201.5L1244.0 201.7L1245.0 201.9L1245.5 202.0L1246.5 202.3L1247.4 202.5L1248.0 202.7L1249.0 203.0L1249.5 203.1L1250.5 203.5L1251.0 203.7L1251.8 204.0L1252.5 204.3L1253.0 204.5L1254.0 205.0L1254.5 205.3L1255.0 205.5L1255.9 206.0L1256.5 206.4L1257.0 206.6L1257.6 207.0L1258.4 207.5L1259.0 207.9L1259.5 208.2L1260.0 208.6L1260.7 209.0L1261.5 209.5L1262.0 209.8L1262.5 210.2L1263.1 210.5L1264.0 211.0L1264.5 211.3L1265.0 211.5L1266.0 211.9L1266.5 212.0L1267.5 212.3L1268.5 212.5L1269.0 212.6L1270.0 212.6L1271.0 212.6L1272.0 212.5L1272.5 212.5L1273.5 212.4L1274.5 212.2L1275.5 212.0L1276.0 211.9L1277.0 211.7L1278.0 211.5L1278.5 211.4L1279.5 211.2L1280.4 211.0L1281.0 210.9L1282.0 210.7L1282.8 210.5L1283.5 210.4L1284.5 210.2L1285.4 210.0L1286.0 209.9L1287.0 209.7L1288.0 209.6L1288.5 209.5L1289.5 209.3L1290.5 209.2L1291.5 209.1L1292.1 209.0L1293.0 208.9L1294.0 208.8L1295.0 208.7L1296.0 208.6L1297.0 208.5L1297.6 208.5L1298.5 208.4L1299.5 208.4L1300.5 208.3L1301.5 208.3L1302.5 208.2L1303.5 208.2L1304.5 208.2L1305.5 208.2L1306.5 208.2L1307.5 208.1L1308.5 208.1L1309.5 208.1L1310.5 208.1L1311.5 208.1L1312.5 208.1L1313.5 208.1L1314.5 208.2L1315.5 208.2L1316.5 208.3L1317.5 208.3L1318.5 208.5L1319.0 208.6L1320.0 208.7L1321.0 209.0L1321.5 209.1L1322.5 209.4L1323.0 209.6L1324.0 210.0L1324.5 210.2L1325.1 210.5L1325.9 211.0L1326.5 211.4L1327.0 211.7L1327.5 212.1L1328.0 212.6L1328.5 213.1L1329.0 213.6L1329.5 214.2L1330.0 214.9L1330.4 215.5L1330.6 216.0L1331.0 216.8L1331.3 217.5L1331.5 218.0L1331.8 219.0L1332.0 219.8L1332.1 220.5L1332.3 221.5L1332.4 222.5L1332.5 223.5L1332.5 224.5L1332.5 225.1L1332.5 226.0L1332.5 227.0L1332.5 227.5L1332.5 228.5L1332.4 229.5L1332.3 230.5L1332.2 231.5L1332.0 232.5L1331.9 233.0L1331.7 234.0L1331.5 234.7L1331.2 235.5L1331.0 236.1L1330.6 237.0L1330.3 237.5L1330.0 238.0L1329.5 238.8L1329.0 239.5L1328.6 240.0L1328.1 240.5L1327.6 241.0L1327.0 241.5L1326.5 241.9L1326.0 242.3L1325.5 242.6L1324.8 243.0L1324.0 243.4L1323.5 243.7L1322.7 244.0L1322.0 244.2L1321.1 244.5L1320.5 244.7L1319.5 244.9L1318.9 245.0L1318.0 245.1L1317.0 245.3L1316.0 245.3L1315.0 245.4L1314.0 245.4L1313.0 245.5L1312.0 245.5L1311.0 245.5L1310.0 245.5L1309.0 245.4L1308.0 245.4L1307.0 245.4L1306.0 245.4L1305.0 245.4L1304.0 245.4L1303.0 245.3L1302.0 245.3L1301.0 245.3L1300.0 245.2L1299.0 245.1L1298.0 245.1L1297.1 245.0L1296.5 245.0L1295.5 244.9L1294.5 244.8L1293.5 244.7L1292.5 244.5L1292.0 244.5L1291.0 244.3L1290.0 244.2L1289.0 244.0L1288.5 243.9L1287.5 243.8L1286.5 243.6L1286.0 243.5L1285.0 243.2L1284.0 243.0L1283.5 242.9L1282.5 242.6L1282.0 242.5L1281.0 242.2L1280.3 242.0L1279.5 241.7L1278.7 241.5L1278.0 241.3L1277.2 241.0L1276.5 240.7L1275.8 240.5L1275.0 240.2L1274.5 240.0L1273.5 239.6L1273.0 239.4L1272.0 239.1L1271.5 238.9L1270.5 238.5L1270.0 238.3L1269.0 238.0L1268.5 237.9L1267.5 237.6L1267.0 237.5L1266.0 237.3L1265.0 237.2L1264.0 237.2L1263.0 237.2L1262.0 237.3L1261.0 237.5L1260.5 237.6L1259.5 237.8L1258.8 238.0L1258.0 238.2L1257.2 238.5L1256.5 238.7L1255.7 239.0L1255.0 239.2L1254.3 239.5L1253.5 239.8L1252.9 240.0L1252.0 240.3L1251.4 240.5L1250.5 240.8L1249.9 241.0L1249.0 241.3L1248.3 241.5L1247.5 241.7L1246.5 242.0L1246.0 242.1L1245.0 242.4L1244.4 242.5L1243.5 242.7L1242.5 242.9L1241.8 243.0L1241.0 243.1L1240.0 243.3L1239.0 243.4L1238.0 243.5L1237.5 243.5L1236.5 243.6L1235.5 243.7L1234.5 243.7L1233.5 243.8L1232.5 243.8L1231.5 243.8L1230.5 243.8L1229.5 243.8L1228.5 243.8L1227.5 243.8L1226.5 243.8L1225.5 243.7L1224.5 243.7L1223.5 243.5L1223.0 243.5L1222.0 243.3L1221.0 243.1L1220.3 243.0L1219.5 242.8L1218.5 242.5L1218.0 242.3L1217.1 242.0L1216.5 241.7L1216.0 241.5L1215.0 241.0L1214.5 240.7L1214.0 240.4L1213.4 240.0L1212.7 239.5L1212.1 239.0L1211.5 238.5L1211.0 238.0L1210.5 237.5L1210.0 237.0L1209.6 236.5L1209.2 236.0L1208.9 235.5L1208.5 235.0L1208.0 234.1L1207.6 233.5L1207.4 233.0L1207.0 232.2L1206.7 231.5L1206.5 230.9L1206.2 230.0L1206.0 229.4L1205.7 228.5L1205.5 227.5L1205.4 227.0L1205.2 226.0L1205.1 225.0L1205.0 224.2L1204.9 223.5L1204.9 222.5L1204.8 221.5L1204.8 220.5L1204.8 219.5L1204.8 218.5L1204.8 217.5L1204.8 216.5L1204.9 215.5L1205.0 214.5L1205.1 214.0L1205.3 213.0L1205.5 212.2L1205.7 211.5L1206.0 210.8L1206.3 210.0L1206.6 209.5L1207.0 208.8L1207.5 208.1L1207.9 207.5L1208.4 207.0L1208.8 206.5L1209.3 206.0L1209.9 205.5L1210.5 205.0L1211.0 204.7L1211.5 204.3L1212.0 204.0L1212.9 203.5L1213.5 203.2L1214.0 203.0L1215.0 202.6L1215.5 202.4L1216.5 202.0L1217.0 201.9L1218.0 201.6L1218.5 201.5L1219.5 201.3L1220.5 201.1L1221.3 201.0ZM1225.6 202.5L1226.5 202.5L1227.5 202.4L1228.5 202.4L1229.5 202.4L1230.5 202.4L1231.5 202.4L1232.5 202.5L1233.5 202.5L1234.0 202.5L1235.0 202.6L1236.0 202.6L1237.0 202.7L1238.0 202.8L1239.0 202.9L1239.8 203.0L1240.5 203.1L1241.5 203.3L1242.5 203.4L1243.0 203.5L1244.0 203.8L1245.0 204.0L1245.5 204.1L1246.5 204.4L1247.0 204.6L1248.0 204.9L1248.5 205.1L1249.5 205.5L1250.0 205.7L1250.6 206.0L1251.5 206.4L1252.0 206.7L1252.5 207.0L1253.4 207.5L1254.0 207.9L1254.5 208.2L1255.0 208.6L1255.6 209.0L1256.3 209.5L1256.9 210.0L1257.5 210.5L1258.0 210.9L1258.5 211.4L1259.0 211.8L1259.5 212.3L1260.0 212.8L1260.5 213.2L1261.0 213.7L1261.5 214.2L1262.0 214.6L1262.5 215.1L1263.0 215.5L1263.7 216.0L1264.4 216.5L1265.0 216.8L1265.5 217.1L1266.5 217.4L1267.4 217.5L1268.0 217.5L1268.5 217.5L1269.5 217.3L1270.5 217.1L1271.0 216.9L1272.0 216.6L1272.5 216.4L1273.5 216.1L1274.0 215.9L1275.0 215.5L1275.5 215.3L1276.4 215.0L1277.0 214.8L1277.7 214.5L1278.5 214.2L1279.2 214.0L1280.0 213.7L1280.7 213.5L1281.5 213.3L1282.4 213.0L1283.0 212.8L1284.0 212.6L1284.5 212.4L1285.5 212.2L1286.3 212.0L1287.0 211.9L1288.0 211.7L1288.8 211.5L1289.5 211.4L1290.5 211.2L1291.5 211.0L1292.0 211.0L1293.0 210.8L1294.0 210.7L1295.0 210.6L1295.9 210.5L1296.5 210.4L1297.5 210.4L1298.5 210.3L1299.5 210.2L1300.5 210.2L1301.5 210.1L1302.5 210.1L1303.5 210.0L1304.0 210.0L1305.0 210.0L1306.0 209.9L1307.0 209.9L1308.0 209.9L1309.0 209.9L1310.0 209.9L1311.0 209.9L1312.0 209.9L1313.0 209.9L1314.0 209.9L1315.0 210.0L1315.7 210.0L1316.5 210.1L1317.5 210.2L1318.5 210.3L1319.4 210.5L1320.0 210.6L1321.0 210.9L1321.5 211.1L1322.5 211.4L1323.0 211.7L1323.7 212.0L1324.5 212.5L1325.0 212.8L1325.5 213.2L1326.0 213.5L1326.5 214.0L1327.0 214.5L1327.5 215.1L1328.0 215.7L1328.5 216.5L1328.8 217.0L1329.0 217.5L1329.4 218.5L1329.6 219.0L1329.9 220.0L1330.0 220.5L1330.2 221.5L1330.3 222.5L1330.4 223.5L1330.4 224.5L1330.5 225.5L1330.5 226.5L1330.5 227.5L1330.4 228.5L1330.4 229.5L1330.3 230.5L1330.1 231.5L1330.0 232.1L1329.8 233.0L1329.5 234.0L1329.3 234.5L1329.0 235.3L1328.7 236.0L1328.4 236.5L1328.0 237.2L1327.5 237.9L1327.0 238.5L1326.6 239.0L1326.1 239.5L1325.5 240.0L1325.0 240.4L1324.5 240.7L1324.0 241.0L1323.2 241.5L1322.5 241.8L1322.0 242.1L1321.0 242.4L1320.5 242.6L1319.5 242.8L1318.8 243.0L1318.0 243.1L1317.0 243.3L1316.0 243.4L1315.0 243.5L1314.0 243.5L1313.5 243.5L1312.5 243.5L1311.5 243.5L1310.5 243.5L1309.5 243.5L1308.5 243.5L1308.0 243.5L1307.0 243.5L1306.0 243.5L1305.0 243.4L1304.0 243.4L1303.0 243.4L1302.0 243.3L1301.0 243.3L1300.0 243.2L1299.0 243.1L1298.0 243.1L1297.3 243.0L1296.5 242.9L1295.5 242.8L1294.5 242.7L1293.5 242.6L1293.0 242.5L1292.0 242.3L1291.0 242.2L1290.1 242.0L1289.5 241.9L1288.5 241.7L1287.7 241.5L1287.0 241.3L1286.0 241.1L1285.5 240.9L1284.5 240.6L1284.0 240.5L1283.0 240.2L1282.5 240.0L1281.5 239.6L1281.0 239.4L1280.0 239.0L1279.5 238.8L1278.8 238.5L1278.0 238.1L1277.5 237.9L1276.7 237.5L1276.0 237.1L1275.5 236.8L1274.9 236.5L1274.1 236.0L1273.5 235.6L1273.0 235.3L1272.5 235.0L1271.8 234.5L1271.0 234.0L1270.5 233.6L1270.0 233.3L1269.5 233.0L1268.7 232.5L1268.0 232.1L1267.5 231.9L1266.5 231.5L1266.0 231.4L1265.0 231.3L1264.0 231.3L1263.2 231.5L1262.5 231.7L1261.7 232.0L1261.0 232.3L1260.5 232.5L1259.5 233.0L1259.0 233.3L1258.5 233.5L1257.6 234.0L1257.0 234.3L1256.5 234.6L1255.8 235.0L1255.0 235.4L1254.5 235.7L1253.8 236.0L1253.0 236.4L1252.5 236.6L1251.7 237.0L1251.0 237.3L1250.5 237.5L1249.5 237.9L1249.0 238.1L1248.0 238.5L1247.5 238.7L1246.6 239.0L1246.0 239.2L1245.0 239.5L1244.5 239.6L1243.5 239.9L1242.9 240.0L1242.0 240.2L1241.0 240.4L1240.4 240.5L1239.5 240.6L1238.5 240.8L1237.5 240.9L1236.5 241.0L1236.0 241.0L1235.0 241.1L1234.0 241.1L1233.0 241.2L1232.0 241.2L1231.0 241.2L1230.0 241.2L1229.0 241.2L1228.0 241.2L1227.0 241.2L1226.0 241.1L1225.0 241.1L1224.4 241.0L1223.5 240.9L1222.5 240.7L1221.5 240.5L1221.0 240.4L1220.0 240.1L1219.5 240.0L1218.5 239.6L1218.0 239.4L1217.1 239.0L1216.5 238.7L1216.0 238.4L1215.3 238.0L1214.6 237.5L1214.0 237.0L1213.5 236.6L1213.0 236.2L1212.5 235.7L1212.0 235.1L1211.5 234.5L1211.1 234.0L1210.8 233.5L1210.5 233.0L1210.0 232.2L1209.6 231.5L1209.4 231.0L1209.0 230.1L1208.8 229.5L1208.5 228.7L1208.3 228.0L1208.0 227.0L1207.9 226.5L1207.7 225.5L1207.6 224.5L1207.5 223.8L1207.4 223.0L1207.4 222.0L1207.3 221.0L1207.3 220.0L1207.3 219.0L1207.3 218.0L1207.3 217.0L1207.4 216.0L1207.5 215.0L1207.5 214.5L1207.7 213.5L1208.0 212.6L1208.2 212.0L1208.5 211.3L1208.9 210.5L1209.2 210.0L1209.5 209.5L1210.0 208.8L1210.5 208.2L1211.0 207.6L1211.5 207.2L1212.0 206.7L1212.5 206.4L1213.0 206.0L1213.8 205.5L1214.5 205.1L1215.0 204.8L1215.7 204.5L1216.5 204.2L1217.0 204.0L1218.0 203.7L1218.6 203.5L1219.5 203.3L1220.5 203.1L1221.0 203.0L1222.0 202.8L1223.0 202.7L1224.0 202.6L1225.0 202.5L1225.6 202.5ZM1222.7 204.5L1223.5 204.4L1224.5 204.3L1225.5 204.2L1226.5 204.2L1227.5 204.2L1228.5 204.2L1229.5 204.1L1230.5 204.2L1231.5 204.2L1232.5 204.2L1233.5 204.2L1234.5 204.3L1235.5 204.3L1236.5 204.4L1237.4 204.5L1238.0 204.6L1239.0 204.7L1240.0 204.8L1240.9 205.0L1241.5 205.1L1242.5 205.3L1243.1 205.5L1244.0 205.7L1244.9 206.0L1245.5 206.2L1246.3 206.5L1247.0 206.8L1247.6 207.0L1248.5 207.4L1249.0 207.7L1249.6 208.0L1250.5 208.5L1251.0 208.8L1251.5 209.2L1252.0 209.5L1252.6 210.0L1253.2 210.5L1253.8 211.0L1254.3 211.5L1254.8 212.0L1255.2 212.5L1255.6 213.0L1256.0 213.5L1256.5 214.2L1257.0 215.0L1257.2 215.5L1257.5 216.0L1257.9 217.0L1258.1 217.5L1258.5 218.5L1258.6 219.0L1258.9 220.0L1259.0 220.9L1259.1 221.5L1259.1 222.5L1259.0 223.4L1258.9 224.0L1258.6 225.0L1258.5 225.5L1258.0 226.5L1257.8 227.0L1257.5 227.5L1257.0 228.3L1256.5 229.0L1256.1 229.5L1255.7 230.0L1255.2 230.5L1254.7 231.0L1254.1 231.5L1253.5 232.0L1253.0 232.4L1252.5 232.8L1252.0 233.2L1251.5 233.5L1250.7 234.0L1250.0 234.4L1249.5 234.7L1248.9 235.0L1248.0 235.5L1247.5 235.7L1246.8 236.0L1246.0 236.3L1245.5 236.5L1244.5 236.9L1244.0 237.0L1243.0 237.3L1242.3 237.5L1241.5 237.7L1240.5 237.9L1240.0 238.0L1239.0 238.2L1238.0 238.3L1237.0 238.5L1236.5 238.5L1235.5 238.6L1234.5 238.7L1233.5 238.7L1232.5 238.8L1231.5 238.8L1230.5 238.8L1229.5 238.8L1228.5 238.8L1227.5 238.8L1226.5 238.7L1225.5 238.7L1224.5 238.6L1224.0 238.5L1223.0 238.3L1222.0 238.1L1221.5 238.0L1220.5 237.7L1220.0 237.5L1219.0 237.1L1218.5 236.9L1217.8 236.5L1217.0 236.1L1216.5 235.7L1216.0 235.4L1215.5 235.0L1215.0 234.5L1214.4 234.0L1214.0 233.5L1213.5 232.9L1213.0 232.3L1212.5 231.6L1212.2 231.0L1211.9 230.5L1211.5 229.7L1211.2 229.0L1211.0 228.5L1210.7 227.5L1210.5 227.0L1210.3 226.0L1210.1 225.0L1210.0 224.5L1209.8 223.5L1209.7 222.5L1209.7 221.5L1209.6 220.5L1209.6 219.5L1209.6 218.5L1209.6 217.5L1209.6 216.5L1209.7 215.5L1209.9 214.5L1210.0 214.0L1210.3 213.0L1210.5 212.5L1211.0 211.5L1211.2 211.0L1211.5 210.5L1212.0 209.9L1212.5 209.3L1213.0 208.7L1213.5 208.3L1214.0 207.9L1214.5 207.5L1215.2 207.0L1216.0 206.6L1216.5 206.3L1217.2 206.0L1218.0 205.7L1218.5 205.5L1219.5 205.2L1220.1 205.0L1221.0 204.8L1222.0 204.6L1222.7 204.5ZM1298.7 212.0L1299.5 211.9L1300.5 211.9L1301.5 211.8L1302.5 211.7L1303.5 211.7L1304.5 211.7L1305.5 211.6L1306.5 211.6L1307.5 211.6L1308.5 211.6L1309.5 211.6L1310.5 211.6L1311.5 211.6L1312.5 211.6L1313.5 211.6L1314.5 211.6L1315.5 211.7L1316.5 211.8L1317.5 211.9L1318.2 212.0L1319.0 212.2L1320.0 212.4L1320.5 212.6L1321.5 213.0L1322.0 213.2L1322.6 213.5L1323.4 214.0L1324.0 214.4L1324.5 214.8L1325.0 215.2L1325.5 215.7L1326.0 216.3L1326.5 217.0L1326.8 217.5L1327.1 218.0L1327.5 218.9L1327.7 219.5L1328.0 220.4L1328.1 221.0L1328.3 222.0L1328.5 223.0L1328.5 223.6L1328.5 224.5L1328.6 225.5L1328.6 226.5L1328.5 227.5L1328.5 228.5L1328.5 229.0L1328.4 230.0L1328.2 231.0L1328.0 232.0L1327.9 232.5L1327.6 233.5L1327.4 234.0L1327.0 234.9L1326.7 235.5L1326.4 236.0L1326.0 236.5L1325.5 237.2L1325.0 237.7L1324.5 238.2L1324.0 238.6L1323.5 239.0L1322.8 239.5L1322.0 239.9L1321.5 240.2L1320.7 240.5L1320.0 240.8L1319.2 241.0L1318.5 241.2L1317.5 241.4L1316.5 241.5L1316.0 241.6L1315.0 241.6L1314.0 241.7L1313.0 241.7L1312.0 241.7L1311.0 241.7L1310.0 241.7L1309.0 241.7L1308.0 241.7L1307.0 241.7L1306.0 241.7L1305.0 241.6L1304.0 241.6L1303.0 241.5L1302.2 241.5L1301.5 241.5L1300.5 241.4L1299.5 241.3L1298.5 241.2L1297.5 241.1L1296.5 241.0L1296.0 240.9L1295.0 240.8L1294.0 240.6L1293.2 240.5L1292.5 240.4L1291.5 240.2L1290.7 240.0L1290.0 239.8L1289.0 239.6L1288.5 239.5L1287.5 239.2L1287.0 239.0L1286.0 238.7L1285.5 238.5L1284.5 238.1L1284.0 237.9L1283.1 237.5L1282.5 237.2L1282.0 236.9L1281.2 236.5L1280.5 236.1L1280.0 235.8L1279.5 235.4L1278.9 235.0L1278.3 234.5L1277.7 234.0L1277.2 233.5L1276.7 233.0L1276.3 232.5L1275.9 232.0L1275.5 231.4L1275.0 230.6L1274.7 230.0L1274.5 229.4L1274.2 228.5L1274.0 227.6L1273.9 227.0L1273.8 226.0L1273.8 225.0L1273.8 224.0L1274.0 223.0L1274.1 222.5L1274.5 221.7L1274.9 221.0L1275.3 220.5L1275.7 220.0L1276.1 219.5L1276.7 219.0L1277.3 218.5L1278.0 218.0L1278.5 217.6L1279.0 217.3L1279.5 217.0L1280.5 216.5L1281.0 216.2L1281.5 216.0L1282.5 215.5L1283.0 215.3L1283.9 215.0L1284.5 214.8L1285.3 214.5L1286.0 214.3L1287.0 214.0L1287.5 213.9L1288.5 213.6L1289.0 213.5L1290.0 213.3L1291.0 213.0L1291.5 213.0L1292.5 212.8L1293.5 212.6L1294.3 212.5L1295.0 212.4L1296.0 212.3L1297.0 212.2L1298.0 212.1L1298.7 212.0ZM1224.7 206.0L1225.5 205.9L1226.5 205.9L1227.5 205.9L1228.5 205.8L1229.5 205.8L1230.5 205.8L1231.5 205.9L1232.5 205.9L1233.5 205.9L1234.5 206.0L1235.0 206.0L1236.0 206.1L1237.0 206.2L1238.0 206.3L1239.0 206.5L1239.5 206.6L1240.5 206.8L1241.4 207.0L1242.0 207.1L1243.0 207.4L1243.5 207.6L1244.5 208.0L1245.0 208.2L1245.8 208.5L1246.5 208.9L1247.0 209.1L1247.7 209.5L1248.4 210.0L1249.0 210.4L1249.5 210.8L1250.0 211.2L1250.5 211.7L1251.0 212.2L1251.5 212.8L1252.0 213.4L1252.4 214.0L1252.7 214.5L1253.0 215.2L1253.3 216.0L1253.5 216.5L1253.8 217.5L1253.9 218.5L1254.0 219.0L1254.1 220.0L1254.1 221.0L1254.1 222.0L1254.0 223.0L1253.9 223.5L1253.7 224.5L1253.5 225.1L1253.1 226.0L1252.9 226.5L1252.5 227.3L1252.1 228.0L1251.7 228.5L1251.3 229.0L1250.9 229.5L1250.4 230.0L1249.9 230.5L1249.4 231.0L1248.7 231.5L1248.0 232.0L1247.5 232.4L1247.0 232.7L1246.5 233.0L1245.5 233.5L1245.0 233.7L1244.4 234.0L1243.5 234.4L1243.0 234.6L1242.0 234.9L1241.5 235.1L1240.5 235.3L1239.9 235.5L1239.0 235.7L1238.0 235.9L1237.2 236.0L1236.5 236.1L1235.5 236.2L1234.5 236.3L1233.5 236.4L1232.5 236.4L1231.5 236.4L1230.5 236.4L1229.5 236.4L1228.5 236.4L1227.5 236.4L1226.5 236.3L1225.5 236.3L1224.5 236.1L1223.7 236.0L1223.0 235.9L1222.0 235.6L1221.5 235.4L1220.5 235.1L1220.0 234.8L1219.3 234.5L1218.5 234.0L1218.0 233.7L1217.5 233.4L1217.0 233.0L1216.5 232.5L1216.0 232.0L1215.5 231.5L1215.0 230.8L1214.5 230.1L1214.1 229.5L1213.9 229.0L1213.5 228.3L1213.2 227.5L1213.0 227.0L1212.7 226.0L1212.5 225.3L1212.3 224.5L1212.2 223.5L1212.0 222.5L1212.0 222.0L1211.9 221.0L1211.9 220.0L1211.9 219.0L1211.9 218.0L1211.9 217.0L1212.0 216.0L1212.1 215.5L1212.3 214.5L1212.5 213.7L1212.8 213.0L1213.0 212.5L1213.5 211.6L1213.9 211.0L1214.3 210.5L1214.8 210.0L1215.3 209.5L1215.9 209.0L1216.5 208.6L1217.0 208.3L1217.5 208.0L1218.5 207.5L1219.0 207.3L1219.8 207.0L1220.5 206.8L1221.5 206.5L1222.0 206.4L1223.0 206.2L1224.0 206.1L1224.7 206.0ZM1301.3 213.5L1302.0 213.5L1303.0 213.4L1304.0 213.3L1305.0 213.3L1306.0 213.3L1307.0 213.2L1308.0 213.2L1309.0 213.2L1310.0 213.2L1311.0 213.2L1312.0 213.2L1313.0 213.2L1314.0 213.2L1315.0 213.3L1316.0 213.4L1317.0 213.5L1317.5 213.6L1318.5 213.8L1319.1 214.0L1320.0 214.3L1320.5 214.5L1321.5 215.0L1322.0 215.3L1322.5 215.6L1323.0 216.0L1323.6 216.5L1324.1 217.0L1324.5 217.5L1325.0 218.3L1325.4 219.0L1325.7 219.5L1326.0 220.4L1326.2 221.0L1326.4 222.0L1326.5 222.6L1326.6 223.5L1326.7 224.5L1326.7 225.5L1326.7 226.5L1326.7 227.5L1326.6 228.5L1326.5 229.5L1326.5 230.0L1326.3 231.0L1326.0 232.0L1325.9 232.5L1325.5 233.4L1325.2 234.0L1325.0 234.5L1324.5 235.2L1324.0 235.9L1323.5 236.4L1323.0 236.9L1322.5 237.3L1322.0 237.7L1321.5 238.0L1320.5 238.5L1320.0 238.7L1319.3 239.0L1318.5 239.3L1317.5 239.5L1317.0 239.6L1316.0 239.7L1315.0 239.8L1314.0 239.9L1313.0 239.9L1312.0 239.9L1311.0 239.9L1310.0 239.9L1309.0 239.9L1308.0 239.9L1307.0 239.9L1306.0 239.9L1305.0 239.8L1304.0 239.8L1303.0 239.7L1302.0 239.7L1301.0 239.6L1300.1 239.5L1299.5 239.4L1298.5 239.3L1297.5 239.2L1296.5 239.0L1296.0 239.0L1295.0 238.8L1294.0 238.6L1293.5 238.5L1292.5 238.3L1291.5 238.0L1291.0 237.9L1290.0 237.6L1289.5 237.4L1288.5 237.0L1288.0 236.8L1287.2 236.5L1286.5 236.2L1286.0 235.9L1285.2 235.5L1284.5 235.1L1284.0 234.7L1283.5 234.3L1283.0 234.0L1282.5 233.5L1282.0 233.0L1281.5 232.5L1281.0 231.8L1280.5 231.0L1280.3 230.5L1280.0 229.9L1279.7 229.0L1279.5 228.0L1279.5 227.5L1279.4 226.5L1279.4 225.5L1279.4 224.5L1279.5 223.7L1279.7 223.0L1280.0 222.0L1280.3 221.5L1280.6 221.0L1281.0 220.4L1281.5 219.9L1282.0 219.4L1282.5 218.9L1283.1 218.5L1283.8 218.0L1284.5 217.6L1285.0 217.3L1285.6 217.0L1286.5 216.6L1287.0 216.4L1288.0 216.0L1288.5 215.8L1289.5 215.5L1290.0 215.4L1291.0 215.1L1291.5 215.0L1292.5 214.7L1293.5 214.5L1294.0 214.4L1295.0 214.2L1296.0 214.1L1296.5 214.0L1297.5 213.9L1298.5 213.8L1299.5 213.7L1300.5 213.6L1301.3 213.5ZM1223.4 208.0L1224.0 207.9L1225.0 207.8L1226.0 207.7L1227.0 207.6L1228.0 207.6L1229.0 207.6L1230.0 207.6L1231.0 207.6L1232.0 207.6L1233.0 207.7L1234.0 207.7L1235.0 207.8L1236.0 207.9L1236.7 208.0L1237.5 208.1L1238.5 208.3L1239.4 208.5L1240.0 208.7L1241.0 208.9L1241.5 209.1L1242.5 209.5L1243.0 209.7L1243.7 210.0L1244.5 210.4L1245.0 210.7L1245.5 211.0L1246.2 211.5L1246.8 212.0L1247.3 212.5L1247.8 213.0L1248.2 213.5L1248.6 214.0L1249.0 214.7L1249.4 215.5L1249.5 216.0L1249.8 217.0L1250.0 218.0L1250.0 218.5L1250.1 219.5L1250.1 220.5L1250.1 221.5L1250.0 222.2L1249.9 223.0L1249.6 224.0L1249.5 224.5L1249.0 225.5L1248.8 226.0L1248.5 226.5L1248.0 227.3L1247.5 228.0L1247.0 228.5L1246.5 229.0L1246.0 229.5L1245.5 229.9L1245.0 230.3L1244.5 230.6L1243.9 231.0L1243.0 231.5L1242.5 231.7L1241.9 232.0L1241.0 232.4L1240.5 232.5L1239.5 232.9L1239.0 233.0L1238.0 233.2L1237.0 233.4L1236.5 233.5L1235.5 233.7L1234.5 233.8L1233.5 233.9L1232.5 233.9L1231.5 233.9L1230.5 234.0L1229.5 233.9L1228.5 233.9L1227.5 233.9L1226.5 233.8L1225.5 233.7L1224.5 233.6L1224.0 233.5L1223.0 233.2L1222.3 233.0L1221.5 232.7L1221.0 232.5L1220.2 232.0L1219.5 231.6L1219.0 231.2L1218.5 230.8L1218.0 230.3L1217.5 229.8L1217.0 229.2L1216.5 228.5L1216.2 228.0L1215.9 227.5L1215.5 226.5L1215.3 226.0L1215.0 225.1L1214.8 224.5L1214.6 223.5L1214.5 222.7L1214.4 222.0L1214.3 221.0L1214.3 220.0L1214.3 219.0L1214.3 218.0L1214.3 217.0L1214.4 216.0L1214.5 215.5L1214.8 214.5L1215.0 213.8L1215.4 213.0L1215.7 212.5L1216.0 212.0L1216.5 211.4L1217.0 210.9L1217.5 210.5L1218.2 210.0L1219.0 209.5L1219.5 209.2L1220.0 209.0L1221.0 208.6L1221.5 208.5L1222.5 208.2L1223.4 208.0ZM1306.1 215.0L1307.0 215.0L1308.0 215.0L1309.0 214.9L1310.0 214.9L1311.0 214.9L1312.0 214.9L1313.0 214.9L1314.0 215.0L1314.7 215.0L1315.5 215.1L1316.5 215.2L1317.5 215.4L1318.0 215.6L1319.0 215.9L1319.5 216.1L1320.3 216.5L1321.0 216.9L1321.5 217.3L1322.0 217.8L1322.5 218.3L1323.0 218.9L1323.4 219.5L1323.6 220.0L1324.0 220.8L1324.2 221.5L1324.5 222.5L1324.5 223.0L1324.6 224.0L1324.7 225.0L1324.7 226.0L1324.7 227.0L1324.7 228.0L1324.6 229.0L1324.5 229.6L1324.3 230.5L1324.0 231.5L1323.9 232.0L1323.5 232.8L1323.1 233.5L1322.8 234.0L1322.4 234.5L1322.0 235.0L1321.4 235.5L1320.8 236.0L1320.0 236.5L1319.5 236.8L1319.0 237.0L1318.0 237.4L1317.5 237.5L1316.5 237.7L1315.5 237.9L1314.5 238.0L1314.0 238.0L1313.0 238.0L1312.0 238.1L1311.0 238.1L1310.0 238.1L1309.0 238.0L1308.0 238.0L1307.0 238.0L1306.5 238.0L1305.5 237.9L1304.5 237.9L1303.5 237.8L1302.5 237.8L1301.5 237.7L1300.5 237.6L1300.0 237.5L1299.0 237.4L1298.0 237.2L1297.0 237.0L1296.5 236.9L1295.5 236.7L1294.7 236.5L1294.0 236.3L1293.0 236.0L1292.5 235.8L1291.6 235.5L1291.0 235.3L1290.4 235.0L1289.5 234.5L1289.0 234.3L1288.5 234.0L1287.8 233.5L1287.2 233.0L1286.7 232.5L1286.2 232.0L1285.8 231.5L1285.4 231.0L1285.0 230.2L1284.7 229.5L1284.5 228.8L1284.3 228.0L1284.2 227.0L1284.2 226.0L1284.2 225.0L1284.3 224.0L1284.5 223.2L1284.8 222.5L1285.0 222.0L1285.5 221.2L1286.0 220.6L1286.5 220.1L1287.0 219.7L1287.5 219.3L1288.0 219.0L1288.8 218.5L1289.5 218.1L1290.0 217.9L1290.9 217.5L1291.5 217.3L1292.3 217.0L1293.0 216.8L1294.0 216.5L1294.5 216.4L1295.5 216.2L1296.3 216.0L1297.0 215.9L1298.0 215.7L1299.0 215.6L1299.5 215.5L1300.5 215.4L1301.5 215.3L1302.5 215.2L1303.5 215.1L1304.5 215.1L1305.5 215.0L1306.1 215.0ZM1225.8 209.5L1226.5 209.4L1227.5 209.4L1228.5 209.4L1229.5 209.4L1230.5 209.4L1231.5 209.4L1232.5 209.4L1233.5 209.5L1234.0 209.5L1235.0 209.6L1236.0 209.8L1237.0 209.9L1237.5 210.0L1238.5 210.3L1239.2 210.5L1240.0 210.8L1240.6 211.0L1241.5 211.4L1242.0 211.7L1242.6 212.0L1243.3 212.5L1243.9 213.0L1244.4 213.5L1244.8 214.0L1245.2 214.5L1245.5 215.0L1246.0 216.0L1246.1 216.5L1246.3 217.5L1246.4 218.5L1246.5 219.5L1246.5 220.5L1246.4 221.5L1246.2 222.5L1246.0 223.3L1245.8 224.0L1245.5 224.6L1245.0 225.5L1244.7 226.0L1244.3 226.5L1243.9 227.0L1243.4 227.5L1242.8 228.0L1242.2 228.5L1241.5 229.0L1241.0 229.2L1240.5 229.5L1239.5 230.0L1239.0 230.2L1238.0 230.5L1237.5 230.6L1236.5 230.9L1236.0 231.0L1235.0 231.2L1234.0 231.3L1233.0 231.4L1232.0 231.4L1231.0 231.5L1230.0 231.5L1229.0 231.5L1228.0 231.4L1227.0 231.4L1226.0 231.3L1225.0 231.1L1224.5 231.0L1223.5 230.7L1223.0 230.5L1222.0 230.0L1221.5 229.8L1221.0 229.4L1220.4 229.0L1219.9 228.5L1219.4 228.0L1219.0 227.5L1218.5 226.8L1218.0 226.0L1217.8 225.5L1217.5 224.7L1217.3 224.0L1217.0 223.0L1216.9 222.5L1216.8 221.5L1216.7 220.5L1216.7 219.5L1216.7 218.5L1216.7 217.5L1216.8 216.5L1217.0 215.5L1217.1 215.0L1217.5 214.1L1217.8 213.5L1218.2 213.0L1218.6 212.5L1219.1 212.0L1219.8 211.5L1220.5 211.0L1221.0 210.8L1221.6 210.5L1222.5 210.2L1223.0 210.0L1224.0 209.8L1225.0 209.6L1225.8 209.5ZM1302.8 217.0L1303.5 216.9L1304.5 216.9L1305.5 216.8L1306.5 216.8L1307.5 216.7L1308.5 216.7L1309.5 216.7L1310.5 216.7L1311.5 216.7L1312.5 216.7L1313.5 216.7L1314.5 216.7L1315.5 216.9L1316.3 217.0L1317.0 217.2L1318.0 217.5L1318.5 217.7L1319.0 218.0L1319.8 218.5L1320.4 219.0L1320.9 219.5L1321.3 220.0L1321.6 220.5L1322.0 221.3L1322.2 222.0L1322.5 223.0L1322.6 223.5L1322.7 224.5L1322.7 225.5L1322.7 226.5L1322.7 227.5L1322.6 228.5L1322.5 229.2L1322.3 230.0L1322.0 231.0L1321.8 231.5L1321.5 232.1L1321.0 232.9L1320.5 233.5L1320.0 234.0L1319.5 234.4L1319.0 234.7L1318.5 235.0L1317.5 235.4L1317.0 235.6L1316.0 235.9L1315.1 236.0L1314.5 236.1L1313.5 236.1L1312.5 236.2L1311.5 236.2L1310.5 236.2L1309.5 236.1L1308.5 236.1L1307.5 236.1L1306.5 236.1L1305.5 236.0L1305.0 236.0L1304.0 235.9L1303.0 235.8L1302.0 235.7L1301.0 235.6L1300.5 235.5L1299.5 235.3L1298.5 235.1L1298.0 235.0L1297.0 234.7L1296.2 234.5L1295.5 234.3L1294.8 234.0L1294.0 233.7L1293.5 233.4L1292.7 233.0L1292.0 232.5L1291.5 232.2L1291.0 231.7L1290.5 231.2L1290.0 230.6L1289.6 230.0L1289.3 229.5L1289.0 228.5L1288.9 228.0L1288.8 227.0L1288.7 226.0L1288.8 225.0L1288.9 224.0L1289.0 223.5L1289.5 222.5L1289.8 222.0L1290.2 221.5L1290.7 221.0L1291.2 220.5L1292.0 220.0L1292.5 219.7L1293.0 219.4L1293.9 219.0L1294.5 218.8L1295.2 218.5L1296.0 218.2L1296.9 218.0L1297.5 217.8L1298.5 217.6L1299.1 217.5L1300.0 217.4L1301.0 217.2L1302.0 217.1L1302.8 217.0ZM1224.6 212.0L1225.5 211.8L1226.5 211.7L1227.5 211.6L1228.5 211.6L1229.5 211.5L1230.5 211.6L1231.5 211.6L1232.5 211.6L1233.5 211.7L1234.5 211.9L1235.3 212.0L1236.0 212.2L1237.0 212.4L1237.5 212.6L1238.4 213.0L1239.0 213.3L1239.5 213.6L1240.0 214.0L1240.6 214.5L1241.1 215.0L1241.5 215.7L1241.9 216.5L1242.0 217.0L1242.2 218.0L1242.2 219.0L1242.2 220.0L1242.1 221.0L1242.0 221.8L1241.8 222.5L1241.5 223.2L1241.1 224.0L1240.7 224.5L1240.3 225.0L1239.8 225.5L1239.2 226.0L1238.5 226.5L1238.0 226.8L1237.5 227.1L1236.5 227.5L1236.0 227.6L1235.0 227.9L1234.5 228.0L1233.5 228.2L1232.5 228.3L1231.5 228.4L1230.5 228.4L1229.5 228.4L1228.5 228.4L1227.5 228.3L1226.5 228.2L1225.6 228.0L1225.0 227.8L1224.2 227.5L1223.5 227.2L1223.0 226.9L1222.5 226.5L1222.0 226.0L1221.5 225.5L1221.0 224.7L1220.6 224.0L1220.4 223.5L1220.0 222.5L1219.9 222.0L1219.8 221.0L1219.7 220.0L1219.6 219.0L1219.6 218.0L1219.7 217.0L1219.9 216.0L1220.1 215.5L1220.5 214.8L1221.0 214.1L1221.5 213.6L1222.0 213.2L1222.5 212.9L1223.2 212.5L1224.0 212.2L1224.6 212.0ZM1306.2 219.0L1307.0 219.0L1308.0 218.9L1309.0 218.9L1310.0 218.9L1311.0 218.9L1312.0 218.9L1313.0 218.9L1314.0 218.9L1314.7 219.0L1315.5 219.2L1316.5 219.5L1317.0 219.7L1317.6 220.0L1318.3 220.5L1318.8 221.0L1319.2 221.5L1319.5 222.1L1319.9 223.0L1320.0 223.5L1320.1 224.5L1320.2 225.5L1320.2 226.5L1320.2 227.5L1320.0 228.5L1319.9 229.0L1319.6 230.0L1319.4 230.5L1319.0 231.1L1318.5 231.7L1318.0 232.2L1317.5 232.6L1316.7 233.0L1316.0 233.3L1315.3 233.5L1314.5 233.6L1313.5 233.7L1312.5 233.8L1311.5 233.8L1310.5 233.8L1309.5 233.8L1308.5 233.7L1307.5 233.7L1306.5 233.6L1305.5 233.6L1304.9 233.5L1304.0 233.4L1303.0 233.2L1302.0 233.1L1301.5 232.9L1300.5 232.7L1299.9 232.5L1299.0 232.2L1298.5 232.0L1297.5 231.5L1297.0 231.2L1296.5 230.9L1296.0 230.4L1295.5 229.9L1295.0 229.2L1294.6 228.5L1294.5 228.0L1294.3 227.0L1294.3 226.0L1294.3 225.0L1294.5 224.0L1294.7 223.5L1295.0 223.0L1295.5 222.4L1296.0 221.9L1296.5 221.5L1297.4 221.0L1298.0 220.7L1298.5 220.5L1299.5 220.1L1300.0 220.0L1301.0 219.7L1302.0 219.5L1302.5 219.4L1303.5 219.3L1304.5 219.2L1305.5 219.1L1306.2 219.0Z" fill="none" stroke="#454545" stroke-width="0.9"/>
<path d="M1262.6 414.3v3.5M1158.3 308.2h-4.5M1274.4 414.3v3.5M1158.3 296.4h-4.5M1282.7 414.3v3.5M1158.3 288.1h-4.5M1294.4 414.3v3.5M1158.3 276.4h-4.5M1298.9 414.3v3.5M1158.3 271.9h-4.5M1302.7 414.3v3.5M1158.3 268.1h-4.5M1306.2 414.3v3.5M1158.3 264.6h-4.5M1326.2 414.3v3.5M1158.3 244.6h-4.5M1336.2 414.3v3.5M1158.3 234.6h-4.5M1343.2 414.3v3.5M1158.3 227.6h-4.5M1353.2 414.3v3.5M1158.3 217.6h-4.5M1356.9 414.3v3.5M1158.3 213.9h-4.5M1360.2 414.3v3.5M1158.3 210.6h-4.5M1363.1 414.3v3.5M1158.3 207.7h-4.5M1382.0 414.3v3.5M1158.3 188.8h-4.5M1391.6 414.3v3.5M1158.3 179.2h-4.5M1398.4 414.3v3.5M1158.3 172.4h-4.5M1408.0 414.3v3.5M1158.3 162.8h-4.5M1411.6 414.3v3.5M1158.3 159.2h-4.5M1414.7 414.3v3.5M1158.3 156.1h-4.5M1417.5 414.3v3.5M1158.3 153.3h-4.5M1435.7 414.3v3.5M1158.3 135.1h-4.5M1444.8 414.3v3.5M1158.3 126.0h-4.5M1451.3 414.3v3.5M1158.3 119.5h-4.5M1177.4 414.3v3.5M1158.3 393.4h-4.5M1165.6 414.3v3.5M1158.3 405.2h-4.5M1158.3 413.5h-4.5M1199.7 414.3v3.5M1158.3 371.1h-4.5M1201.9 414.3v3.5M1158.3 368.9h-4.5M1204.2 414.3v3.5M1158.3 366.6h-4.5M1206.4 414.3v3.5M1158.3 364.4h-4.5M1208.7 414.3v3.5M1158.3 362.1h-4.5M1211.0 414.3v3.5M1158.3 359.8h-4.5M1213.2 414.3v3.5M1158.3 357.6h-4.5M1215.5 414.3v3.5M1158.3 355.3h-4.5M1217.7 414.3v3.5M1158.3 353.1h-4.5M1222.3 414.3v3.5M1158.3 348.5h-4.5M1224.5 414.3v3.5M1158.3 346.3h-4.5M1226.8 414.3v3.5M1158.3 344.0h-4.5M1229.0 414.3v3.5M1158.3 341.8h-4.5M1231.3 414.3v3.5M1158.3 339.5h-4.5M1233.6 414.3v3.5M1158.3 337.2h-4.5M1235.8 414.3v3.5M1158.3 335.0h-4.5M1238.1 414.3v3.5M1158.3 332.7h-4.5M1240.3 414.3v3.5M1158.3 330.5h-4.5" fill="none" stroke="#222" stroke-width="0.9"/>
<path d="M1289.2 414.3v4.5M1158.3 281.6h-6M1348.7 414.3v4.5M1158.3 222.1h-6M1403.7 414.3v4.5M1158.3 167.1h-6" fill="none" stroke="#111" stroke-width="1.1"/>
<path d="M1242.6 414.3v6.5M1158.3 328.2h-8.5M1309.2 414.3v6.5M1158.3 261.6h-8.5M1365.7 414.3v6.5M1158.3 205.1h-8.5M1420.0 414.3v6.5M1158.3 150.8h-8.5M1197.4 414.3v6.5M1158.3 373.4h-8.5" fill="none" stroke="#000" stroke-width="1.9"/>
<rect x="1216.8" y="414.3" width="6.4" height="6.5" fill="#000"/>
<rect x="1149.8" y="347.6" width="8.5" height="6.4" fill="#000"/>
<rect x="1158.3" y="118.3" width="295.5" height="296" fill="none" stroke="#222" stroke-width="1.3"/>
<line x1="1265" y1="118.3" x2="1265" y2="414.3" stroke="#000" stroke-width="2"/>
<line x1="1149.8" y1="260.7" x2="1453.8" y2="260.7" stroke="#000" stroke-width="2"/>
<text font-size="23" x="1165.55" y="140.9"><tspan textLength="18.96" lengthAdjust="spacingAndGlyphs">Q</tspan><tspan textLength="8.44" lengthAdjust="spacingAndGlyphs" stroke="#000" stroke-width="0.48">1</tspan></text>
<text font-size="23" x="1166.14" y="165.3" textLength="47.45" lengthAdjust="spacingAndGlyphs">49.3</text>
<text font-size="23" x="1416.5" y="140.9" textLength="32.52" lengthAdjust="spacingAndGlyphs">Q2</text>
<text font-size="23" x="1404.16" y="165.3"><tspan textLength="13.56" lengthAdjust="spacingAndGlyphs">5</tspan><tspan textLength="15.61" lengthAdjust="spacingAndGlyphs">0</tspan><tspan textLength="6.77" lengthAdjust="spacingAndGlyphs">.</tspan><tspan textLength="8.44" lengthAdjust="spacingAndGlyphs" stroke="#000" stroke-width="0.48">1</tspan></text>
<text font-size="23" x="1165.55" y="383.7" textLength="32.52" lengthAdjust="spacingAndGlyphs">Q4</text>
<text font-size="23" x="1165.6" y="407.9"><tspan textLength="15.61" lengthAdjust="spacingAndGlyphs">0</tspan><tspan textLength="20.33" lengthAdjust="spacingAndGlyphs">.3</tspan><tspan textLength="8.44" lengthAdjust="spacingAndGlyphs" stroke="#000" stroke-width="0.48">1</tspan></text>
<text font-size="23" x="1416.35" y="383.7" textLength="32.52" lengthAdjust="spacingAndGlyphs">Q3</text>
<text font-size="23" x="1399.33" y="407.9"><tspan textLength="15.61" lengthAdjust="spacingAndGlyphs">0</tspan><tspan textLength="33.89" lengthAdjust="spacingAndGlyphs">.25</tspan></text>
<text font-size="23" x="1214.2" y="457.5" textLength="15.61" lengthAdjust="spacingAndGlyphs">0</text>
<text font-size="23" x="1291.63" y="457.5"><tspan textLength="8.52" lengthAdjust="spacingAndGlyphs" stroke="#000" stroke-width="0.48">1</tspan><tspan textLength="15.75" lengthAdjust="spacingAndGlyphs">0</tspan></text>
<text font-size="15" x="1317.14" y="447.5" textLength="8.61" lengthAdjust="spacingAndGlyphs">4</text>
<text font-size="23" x="1349.63" y="457.5"><tspan textLength="8.52" lengthAdjust="spacingAndGlyphs" stroke="#000" stroke-width="0.48">1</tspan><tspan textLength="15.75" lengthAdjust="spacingAndGlyphs">0</tspan></text>
<text font-size="15" x="1374.84" y="447.5" textLength="9.15" lengthAdjust="spacingAndGlyphs">5</text>
<text font-size="23" x="1401.63" y="457.5"><tspan textLength="8.52" lengthAdjust="spacingAndGlyphs" stroke="#000" stroke-width="0.48">1</tspan><tspan textLength="15.75" lengthAdjust="spacingAndGlyphs">0</tspan></text>
<text font-size="15" x="1426.64" y="447.5" textLength="9.4" lengthAdjust="spacingAndGlyphs">6</text>
<text font-size="27.6" x="1215.95" y="503.25"><tspan textLength="154" lengthAdjust="spacingAndGlyphs">CCR7 (BV42</tspan><tspan textLength="10.13" lengthAdjust="spacingAndGlyphs" stroke="#000" stroke-width="0.58">1</tspan><tspan textLength="8.87" lengthAdjust="spacingAndGlyphs">)</tspan></text>
<text font-size="23" x="1103.21" y="158.7"><tspan textLength="8.72" lengthAdjust="spacingAndGlyphs" stroke="#000" stroke-width="0.48">1</tspan><tspan textLength="16.11" lengthAdjust="spacingAndGlyphs">0</tspan></text>
<text font-size="15" x="1128.31" y="146.5" textLength="8.68" lengthAdjust="spacingAndGlyphs">6</text>
<text font-size="23" x="1103.21" y="211.2"><tspan textLength="8.72" lengthAdjust="spacingAndGlyphs" stroke="#000" stroke-width="0.48">1</tspan><tspan textLength="16.11" lengthAdjust="spacingAndGlyphs">0</tspan></text>
<text font-size="15" x="1128.49" y="199" textLength="8.45" lengthAdjust="spacingAndGlyphs">5</text>
<text font-size="23" x="1103.21" y="268"><tspan textLength="8.72" lengthAdjust="spacingAndGlyphs" stroke="#000" stroke-width="0.48">1</tspan><tspan textLength="16.11" lengthAdjust="spacingAndGlyphs">0</tspan></text>
<text font-size="15" x="1128.77" y="255.8" textLength="7.95" lengthAdjust="spacingAndGlyphs">4</text>
<text font-size="23" x="1122.17" y="358.3" textLength="14.66" lengthAdjust="spacingAndGlyphs">0</text>
<text font-size="27.6" x="1590.71" y="106.8" fill="#fb8f8f" textLength="85.52" lengthAdjust="spacingAndGlyphs">ML226</text>
<path d="M1505 219h1M1505 237h1M1506 222h1M1508 209h1M1508 217h1M1509 225h1M1509 241h1M1510 205h1M1510 225h1M1511 199h1M1511 203h1M1511 207h1M1511 218h1M1511 241h1M1512 227h1M1512 242h1M1513 212h1M1513 216h1M1513 223h1M1514 206h1M1514 210h1M1514 232h1M1515 204h1M1515 209h1M1515 212h1M1515 221h1M1515 227h1M1515 237h1M1516 185h1M1516 203h1M1516 213h1M1516 214h1M1516 228h1M1516 241h1M1516 247h1M1517 213h1M1517 216h1M1517 225h1M1517 236h1M1517 243h1M1518 205h1M1518 215h1M1518 220h1M1518 237h1M1519 206h1M1519 213h1M1519 215h1M1519 217h1M1519 219h1M1519 220h1M1519 221h1M1519 233h1M1519 234h1M1519 245h1M1520 199h1M1520 202h1M1520 208h1M1520 210h1M1520 214h1M1520 218h1M1520 220h1M1520 227h1M1520 229h1M1520 231h1M1521 203h1M1521 206h1M1521 207h1M1521 208h1M1521 214h1M1521 215h1M1521 216h1M1521 218h1M1521 223h1M1521 232h1M1521 236h1M1522 196h1M1522 204h1M1522 206h1M1522 214h1M1522 220h1M1522 222h1M1522 230h1M1522 231h1M1522 238h1M1523 193h1M1523 197h1M1523 198h1M1523 200h1M1523 211h1M1523 212h1M1523 216h1M1523 218h1M1523 219h1M1523 227h1M1523 233h1M1523 235h1M1524 185h1M1524 200h1M1524 201h1M1524 207h1M1524 209h1M1524 210h1M1524 212h1M1524 213h1M1524 215h1M1524 218h1M1524 221h1M1524 224h1M1524 229h1M1524 240h1M1524 249h1M1525 201h1M1525 203h1M1525 205h1M1525 207h1M1525 211h1M1525 213h1M1525 215h1M1525 216h1M1525 221h1M1525 222h1M1525 225h1M1525 226h1M1525 227h1M1525 229h1M1525 230h1M1525 233h1M1525 236h1M1525 239h1M1525 240h1M1525 245h1M1526 187h1M1526 188h1M1526 196h1M1526 205h1M1526 206h1M1526 208h1M1526 210h1M1526 213h1M1526 214h1M1526 215h1M1526 216h1M1526 219h1M1526 220h1M1526 221h1M1526 223h1M1526 224h1M1526 225h1M1526 227h1M1526 228h1M1526 229h1M1526 230h1M1526 232h1M1526 233h1M1526 234h1M1526 238h1M1527 187h1M1527 188h1M1527 196h1M1527 206h1M1527 207h1M1527 208h1M1527 211h1M1527 214h1M1527 215h1M1527 216h1M1527 218h1M1527 219h1M1527 221h1M1527 222h1M1527 223h1M1527 224h1M1527 225h1M1527 227h1M1527 230h1M1527 235h1M1527 238h1M1527 242h1M1528 197h1M1528 198h1M1528 204h1M1528 205h1M1528 206h1M1528 209h1M1528 210h1M1528 212h1M1528 215h1M1528 216h1M1528 217h1M1528 220h1M1528 221h1M1528 222h1M1528 224h1M1528 226h1M1528 227h1M1528 228h1M1528 230h1M1528 231h1M1528 233h1M1528 235h1M1528 239h1M1528 244h1M1528 251h1M1529 191h1M1529 195h1M1529 196h1M1529 198h1M1529 202h1M1529 203h1M1529 207h1M1529 208h1M1529 210h1M1529 213h1M1529 218h1M1529 221h1M1529 222h1M1529 223h1M1529 224h1M1529 225h1M1529 227h1M1529 229h1M1529 230h1M1529 232h1M1529 233h1M1529 235h1M1529 243h1M1530 199h1M1530 201h1M1530 205h1M1530 206h1M1530 209h1M1530 224h1M1530 225h1M1530 226h1M1530 227h1M1530 229h1M1530 230h1M1530 231h1M1530 232h1M1530 233h1M1530 238h1M1530 240h1M1530 241h1M1530 245h1M1531 188h1M1531 193h1M1531 198h1M1531 199h1M1531 200h1M1531 201h1M1531 202h1M1531 203h1M1531 204h1M1531 206h1M1531 227h1M1531 228h1M1531 229h1M1531 230h1M1531 231h1M1531 232h1M1531 234h1M1531 238h1M1531 245h1M1532 182h1M1532 189h1M1532 193h1M1532 195h1M1532 198h1M1532 200h1M1532 201h1M1532 202h1M1532 204h1M1532 205h1M1532 228h1M1532 229h1M1532 230h1M1532 231h1M1532 232h1M1532 233h1M1532 234h1M1532 235h1M1532 242h1M1533 188h1M1533 193h1M1533 194h1M1533 198h1M1533 199h1M1533 204h1M1533 230h1M1533 231h1M1533 233h1M1533 235h1M1533 238h1M1533 239h1M1533 241h1M1533 243h1M1534 195h1M1534 197h1M1534 198h1M1534 199h1M1534 200h1M1534 201h1M1534 202h1M1534 234h1M1534 244h1M1535 191h1M1535 196h1M1535 199h1M1535 201h1M1535 202h1M1535 233h1M1535 234h1M1535 238h1M1535 239h1M1536 198h1M1536 201h1M1536 233h1M1536 234h1M1536 236h1M1536 237h1M1536 239h1M1536 245h1M1537 195h1M1537 198h1M1537 233h1M1537 234h1M1537 235h1M1537 236h1M1537 238h1M1537 242h1M1538 192h1M1538 196h1M1538 197h1M1538 200h1M1538 234h1M1538 237h1M1538 238h1M1538 255h1M1539 193h1M1539 194h1M1539 198h1M1539 199h1M1539 200h1M1539 234h1M1539 235h1M1539 236h1M1539 247h1M1539 248h1M1539 255h1M1540 186h1M1540 196h1M1540 199h1M1540 240h1M1540 242h1M1540 244h1M1540 249h1M1540 257h1M1541 187h1M1541 236h1M1541 239h1M1541 240h1M1541 241h1M1541 243h1M1541 245h1M1541 248h1M1541 255h1M1542 186h1M1542 195h1M1542 196h1M1542 197h1M1542 198h1M1542 199h1M1542 236h1M1542 237h1M1542 239h1M1542 240h1M1542 242h1M1542 246h1M1543 196h1M1543 199h1M1543 236h1M1543 237h1M1543 238h1M1543 240h1M1543 241h1M1543 243h1M1543 247h1M1543 255h1M1544 180h1M1544 185h1M1544 194h1M1544 197h1M1544 198h1M1544 236h1M1544 237h1M1544 240h1M1544 253h1M1545 189h1M1545 194h1M1545 197h1M1545 198h1M1545 237h1M1545 238h1M1545 239h1M1545 240h1M1545 242h1M1545 244h1M1545 250h1M1546 194h1M1546 195h1M1546 196h1M1546 198h1M1546 239h1M1546 242h1M1546 243h1M1546 250h1M1547 191h1M1547 194h1M1547 196h1M1547 198h1M1547 237h1M1547 238h1M1547 240h1M1547 242h1M1548 185h1M1548 194h1M1548 196h1M1548 197h1M1548 198h1M1548 238h1M1548 239h1M1548 240h1M1548 248h1M1549 189h1M1549 193h1M1549 194h1M1549 196h1M1549 198h1M1549 237h1M1549 239h1M1549 240h1M1549 241h1M1549 243h1M1549 244h1M1549 245h1M1549 254h1M1550 179h1M1550 189h1M1550 192h1M1550 196h1M1550 198h1M1550 237h1M1550 239h1M1550 240h1M1550 251h1M1551 182h1M1551 191h1M1551 195h1M1551 196h1M1551 198h1M1551 237h1M1551 238h1M1551 241h1M1551 242h1M1551 245h1M1552 183h1M1552 193h1M1552 195h1M1552 197h1M1552 198h1M1552 237h1M1552 238h1M1552 239h1M1552 240h1M1552 241h1M1552 247h1M1552 258h1M1553 190h1M1553 194h1M1553 195h1M1553 197h1M1553 198h1M1553 239h1M1553 240h1M1553 254h1M1553 255h1M1553 259h1M1554 185h1M1554 191h1M1554 193h1M1554 194h1M1554 195h1M1554 197h1M1554 240h1M1554 241h1M1554 242h1M1554 243h1M1554 244h1M1555 189h1M1555 196h1M1555 197h1M1555 238h1M1555 240h1M1555 242h1M1555 244h1M1556 186h1M1556 188h1M1556 194h1M1556 195h1M1556 196h1M1556 197h1M1556 198h1M1556 238h1M1556 240h1M1556 242h1M1556 246h1M1556 249h1M1556 250h1M1556 256h1M1557 194h1M1557 195h1M1557 197h1M1557 238h1M1557 239h1M1558 193h1M1558 197h1M1558 198h1M1558 239h1M1558 244h1M1559 190h1M1559 191h1M1559 195h1M1559 196h1M1559 198h1M1559 238h1M1559 240h1M1559 241h1M1559 242h1M1559 243h1M1559 251h1M1560 191h1M1560 194h1M1560 195h1M1560 197h1M1560 198h1M1560 239h1M1560 240h1M1560 242h1M1561 184h1M1561 193h1M1561 196h1M1561 238h1M1561 239h1M1561 240h1M1561 241h1M1561 243h1M1562 188h1M1562 190h1M1562 193h1M1562 195h1M1562 197h1M1562 198h1M1562 238h1M1562 239h1M1562 240h1M1562 241h1M1562 243h1M1562 253h1M1563 185h1M1563 195h1M1563 238h1M1563 239h1M1563 242h1M1563 244h1M1563 245h1M1563 248h1M1563 251h1M1564 194h1M1564 196h1M1564 197h1M1564 237h1M1564 238h1M1564 239h1M1564 240h1M1564 241h1M1564 243h1M1564 251h1M1565 184h1M1565 197h1M1565 238h1M1565 239h1M1565 240h1M1565 245h1M1566 194h1M1566 197h1M1566 198h1M1566 249h1M1567 194h1M1567 197h1M1567 198h1M1567 238h1M1567 240h1M1567 241h1M1567 242h1M1567 243h1M1567 244h1M1567 245h1M1568 195h1M1568 196h1M1568 198h1M1568 237h1M1568 238h1M1568 239h1M1568 240h1M1568 243h1M1568 252h1M1568 255h1M1569 182h1M1569 194h1M1569 196h1M1569 197h1M1569 238h1M1569 247h1M1570 193h1M1570 197h1M1570 198h1M1570 238h1M1570 242h1M1570 243h1M1571 184h1M1571 193h1M1571 197h1M1571 198h1M1571 240h1M1571 241h1M1571 242h1M1571 243h1M1571 244h1M1571 248h1M1572 194h1M1572 195h1M1572 197h1M1572 198h1M1572 199h1M1572 237h1M1572 238h1M1572 240h1M1572 241h1M1572 243h1M1572 245h1M1573 194h1M1573 197h1M1573 198h1M1573 199h1M1573 238h1M1573 240h1M1573 244h1M1573 248h1M1573 253h1M1573 258h1M1574 184h1M1574 192h1M1574 196h1M1574 197h1M1574 198h1M1574 199h1M1574 237h1M1574 238h1M1574 257h1M1575 191h1M1575 196h1M1575 197h1M1575 198h1M1575 238h1M1575 239h1M1575 240h1M1575 241h1M1575 242h1M1576 189h1M1576 193h1M1576 194h1M1576 196h1M1576 197h1M1576 237h1M1576 241h1M1576 242h1M1576 246h1M1577 190h1M1577 195h1M1577 198h1M1577 199h1M1577 200h1M1577 237h1M1577 238h1M1577 239h1M1577 240h1M1577 246h1M1578 198h1M1578 199h1M1578 200h1M1578 237h1M1578 238h1M1578 239h1M1578 240h1M1578 243h1M1578 246h1M1578 247h1M1578 249h1M1579 192h1M1579 194h1M1579 195h1M1579 196h1M1579 198h1M1579 200h1M1579 237h1M1579 238h1M1579 239h1M1579 245h1M1579 253h1M1579 258h1M1580 187h1M1580 191h1M1580 195h1M1580 196h1M1580 197h1M1580 198h1M1580 199h1M1580 200h1M1580 201h1M1580 237h1M1580 238h1M1580 240h1M1580 241h1M1580 250h1M1580 253h1M1580 259h1M1581 180h1M1581 192h1M1581 197h1M1581 198h1M1581 199h1M1581 237h1M1581 239h1M1581 242h1M1581 243h1M1581 244h1M1581 250h1M1582 190h1M1582 195h1M1582 196h1M1582 198h1M1582 239h1M1582 240h1M1582 242h1M1582 249h1M1583 190h1M1583 195h1M1583 198h1M1583 200h1M1583 202h1M1583 238h1M1583 239h1M1583 241h1M1583 252h1M1583 259h1M1584 186h1M1584 191h1M1584 198h1M1584 199h1M1584 200h1M1584 237h1M1584 238h1M1584 239h1M1584 240h1M1584 242h1M1584 243h1M1584 247h1M1584 259h1M1585 196h1M1585 201h1M1585 202h1M1585 237h1M1585 238h1M1585 239h1M1585 242h1M1585 245h1M1585 246h1M1585 254h1M1586 194h1M1586 197h1M1586 199h1M1586 200h1M1586 201h1M1586 202h1M1586 203h1M1586 237h1M1586 238h1M1586 239h1M1586 241h1M1586 242h1M1586 244h1M1586 248h1M1586 253h1M1587 195h1M1587 199h1M1587 200h1M1587 202h1M1587 203h1M1587 238h1M1587 239h1M1587 241h1M1587 242h1M1587 244h1M1587 245h1M1587 246h1M1587 247h1M1587 248h1M1587 253h1M1588 186h1M1588 202h1M1588 203h1M1588 239h1M1588 240h1M1589 192h1M1589 194h1M1589 196h1M1589 198h1M1589 199h1M1589 200h1M1589 202h1M1589 203h1M1589 239h1M1589 240h1M1589 241h1M1589 248h1M1589 256h1M1590 194h1M1590 196h1M1590 198h1M1590 199h1M1590 201h1M1590 203h1M1590 241h1M1590 242h1M1590 243h1M1590 244h1M1590 245h1M1590 248h1M1590 249h1M1591 193h1M1591 199h1M1591 201h1M1591 203h1M1591 204h1M1591 240h1M1591 241h1M1591 242h1M1591 243h1M1591 244h1M1591 245h1M1591 258h1M1592 197h1M1592 199h1M1592 203h1M1592 204h1M1592 205h1M1592 241h1M1592 243h1M1592 245h1M1592 246h1M1592 248h1M1592 255h1M1593 194h1M1593 201h1M1593 203h1M1593 204h1M1593 205h1M1593 240h1M1593 241h1M1593 242h1M1593 243h1M1593 245h1M1593 247h1M1593 248h1M1593 249h1M1593 253h1M1593 254h1M1594 182h1M1594 201h1M1594 202h1M1594 203h1M1594 204h1M1594 241h1M1594 242h1M1594 243h1M1594 244h1M1594 245h1M1594 248h1M1594 250h1M1594 255h1M1594 259h1M1595 199h1M1595 201h1M1595 203h1M1595 204h1M1595 241h1M1595 242h1M1595 243h1M1595 244h1M1595 245h1M1595 246h1M1595 249h1M1595 251h1M1595 256h1M1596 188h1M1596 197h1M1596 200h1M1596 203h1M1596 204h1M1596 242h1M1596 243h1M1596 244h1M1596 246h1M1596 249h1M1596 259h1M1597 200h1M1597 201h1M1597 203h1M1597 205h1M1597 206h1M1597 243h1M1597 244h1M1597 245h1M1597 254h1M1598 202h1M1598 203h1M1598 204h1M1598 205h1M1598 243h1M1598 245h1M1598 250h1M1598 251h1M1599 193h1M1599 196h1M1599 200h1M1599 202h1M1599 204h1M1599 244h1M1599 245h1M1599 246h1M1599 247h1M1600 195h1M1600 196h1M1600 198h1M1600 203h1M1600 205h1M1600 244h1M1600 245h1M1600 246h1M1600 249h1M1600 250h1M1600 251h1M1600 253h1M1600 258h1M1600 259h1M1601 201h1M1601 204h1M1601 205h1M1601 206h1M1601 243h1M1601 244h1M1601 246h1M1601 247h1M1601 254h1M1602 203h1M1602 204h1M1602 244h1M1602 246h1M1602 247h1M1602 248h1M1602 252h1M1603 203h1M1603 205h1M1603 244h1M1603 245h1M1603 248h1M1603 253h1M1604 197h1M1604 201h1M1604 202h1M1604 203h1M1604 204h1M1604 205h1M1604 245h1M1604 248h1M1604 250h1M1604 251h1M1605 199h1M1605 203h1M1605 204h1M1605 205h1M1605 245h1M1605 246h1M1605 249h1M1605 251h1M1605 252h1M1605 254h1M1606 197h1M1606 198h1M1606 204h1M1606 205h1M1606 245h1M1606 246h1M1606 247h1M1606 251h1M1606 252h1M1607 195h1M1607 197h1M1607 203h1M1607 204h1M1607 205h1M1607 246h1M1607 247h1M1607 248h1M1607 254h1M1608 200h1M1608 202h1M1608 204h1M1608 246h1M1608 247h1M1608 249h1M1608 250h1M1608 251h1M1608 257h1M1609 194h1M1609 195h1M1609 197h1M1609 198h1M1609 199h1M1609 203h1M1609 246h1M1609 247h1M1609 249h1M1609 252h1M1609 255h1M1610 190h1M1610 192h1M1610 199h1M1610 202h1M1610 203h1M1610 204h1M1610 247h1M1610 248h1M1610 249h1M1610 251h1M1610 259h1M1611 197h1M1611 198h1M1611 202h1M1611 203h1M1611 204h1M1611 248h1M1611 255h1M1612 199h1M1612 246h1M1612 247h1M1612 252h1M1612 256h1M1613 197h1M1613 199h1M1613 200h1M1613 201h1M1613 202h1M1613 203h1M1613 204h1M1613 247h1M1613 248h1M1613 250h1M1613 252h1M1613 254h1M1614 199h1M1614 201h1M1614 202h1M1614 203h1M1614 204h1M1614 247h1M1614 250h1M1615 193h1M1615 194h1M1615 198h1M1615 201h1M1615 203h1M1615 249h1M1615 251h1M1615 255h1M1616 193h1M1616 195h1M1616 196h1M1616 201h1M1616 203h1M1616 204h1M1616 248h1M1616 249h1M1616 250h1M1616 251h1M1616 256h1M1616 258h1M1617 196h1M1617 199h1M1617 201h1M1617 202h1M1617 247h1M1617 248h1M1617 249h1M1617 251h1M1618 184h1M1618 200h1M1618 201h1M1618 203h1M1618 204h1M1618 247h1M1618 248h1M1618 250h1M1618 251h1M1619 195h1M1619 200h1M1619 201h1M1619 202h1M1619 203h1M1619 204h1M1619 247h1M1619 248h1M1619 251h1M1620 199h1M1620 200h1M1620 201h1M1620 202h1M1620 247h1M1620 248h1M1620 249h1M1620 250h1M1620 251h1M1620 254h1M1621 200h1M1621 201h1M1621 202h1M1621 203h1M1621 247h1M1621 248h1M1621 249h1M1621 251h1M1621 253h1M1621 254h1M1622 188h1M1622 193h1M1622 198h1M1622 202h1M1622 203h1M1622 248h1M1622 249h1M1622 250h1M1622 251h1M1622 253h1M1623 199h1M1623 200h1M1623 201h1M1623 202h1M1623 247h1M1623 248h1M1623 251h1M1623 252h1M1623 257h1M1623 258h1M1624 194h1M1624 199h1M1624 200h1M1624 201h1M1624 202h1M1624 203h1M1624 248h1M1624 250h1M1624 253h1M1625 193h1M1625 196h1M1625 203h1M1625 248h1M1625 249h1M1625 250h1M1625 251h1M1625 253h1M1625 255h1M1625 259h1M1626 198h1M1626 201h1M1626 202h1M1626 203h1M1626 247h1M1626 248h1M1626 249h1M1626 251h1M1626 252h1M1626 253h1M1626 255h1M1626 258h1M1627 196h1M1627 200h1M1627 202h1M1627 203h1M1627 247h1M1627 249h1M1627 250h1M1628 197h1M1628 199h1M1628 203h1M1628 247h1M1628 249h1M1628 253h1M1628 254h1M1628 255h1M1628 257h1M1629 198h1M1629 200h1M1629 201h1M1629 203h1M1629 247h1M1629 248h1M1629 254h1M1629 258h1M1630 199h1M1630 201h1M1630 203h1M1630 247h1M1630 248h1M1630 249h1M1630 250h1M1630 251h1M1630 252h1M1630 255h1M1630 257h1M1631 192h1M1631 194h1M1631 200h1M1631 203h1M1631 204h1M1631 248h1M1631 249h1M1631 251h1M1631 253h1M1631 255h1M1632 202h1M1632 247h1M1632 248h1M1632 250h1M1632 252h1M1632 253h1M1633 203h1M1633 249h1M1633 250h1M1633 251h1M1633 253h1M1634 193h1M1634 199h1M1634 200h1M1634 202h1M1634 203h1M1634 204h1M1634 247h1M1634 248h1M1634 250h1M1634 251h1M1634 252h1M1634 253h1M1634 255h1M1635 192h1M1635 193h1M1635 199h1M1635 200h1M1635 202h1M1635 247h1M1635 248h1M1635 250h1M1635 252h1M1635 253h1M1636 190h1M1636 197h1M1636 200h1M1636 201h1M1636 202h1M1636 203h1M1636 247h1M1636 248h1M1636 250h1M1636 251h1M1636 256h1M1637 184h1M1637 201h1M1637 202h1M1637 204h1M1637 247h1M1637 248h1M1637 249h1M1637 250h1M1637 251h1M1637 252h1M1637 256h1M1638 200h1M1638 201h1M1638 202h1M1638 203h1M1638 247h1M1638 248h1M1638 249h1M1638 250h1M1638 251h1M1638 254h1M1639 195h1M1639 197h1M1639 199h1M1639 202h1M1639 203h1M1639 247h1M1639 259h1M1640 200h1M1640 202h1M1640 204h1M1640 246h1M1640 247h1M1640 251h1M1641 195h1M1641 196h1M1641 198h1M1641 204h1M1641 247h1M1641 248h1M1641 249h1M1641 252h1M1642 189h1M1642 201h1M1642 202h1M1642 204h1M1642 247h1M1642 249h1M1642 250h1M1642 257h1M1643 199h1M1643 200h1M1643 201h1M1643 204h1M1643 246h1M1643 248h1M1643 251h1M1643 252h1M1644 196h1M1644 202h1M1644 203h1M1644 204h1M1644 245h1M1644 246h1M1644 248h1M1644 249h1M1645 201h1M1645 204h1M1645 205h1M1645 246h1M1645 247h1M1645 248h1M1645 249h1M1645 251h1M1646 200h1M1646 201h1M1646 204h1M1646 205h1M1646 246h1M1646 248h1M1646 249h1M1646 253h1M1646 255h1M1646 256h1M1647 197h1M1647 200h1M1647 203h1M1647 204h1M1647 205h1M1647 245h1M1647 246h1M1647 248h1M1647 250h1M1647 258h1M1648 199h1M1648 203h1M1648 205h1M1648 243h1M1648 244h1M1648 252h1M1648 254h1M1648 260h1M1649 193h1M1649 204h1M1649 206h1M1649 243h1M1649 244h1M1649 245h1M1649 246h1M1649 248h1M1649 249h1M1649 251h1M1649 252h1M1649 253h1M1650 181h1M1650 203h1M1650 204h1M1650 205h1M1650 206h1M1650 242h1M1650 243h1M1650 244h1M1650 245h1M1650 247h1M1650 249h1M1650 250h1M1650 257h1M1651 191h1M1651 197h1M1651 198h1M1651 201h1M1651 205h1M1651 206h1M1651 207h1M1651 208h1M1651 241h1M1651 242h1M1651 245h1M1651 246h1M1651 254h1M1652 198h1M1652 201h1M1652 207h1M1652 209h1M1652 241h1M1652 242h1M1652 243h1M1652 245h1M1652 247h1M1652 249h1M1652 252h1M1652 253h1M1652 256h1M1653 201h1M1653 203h1M1653 204h1M1653 205h1M1653 206h1M1653 207h1M1653 208h1M1653 209h1M1653 239h1M1653 240h1M1653 241h1M1653 243h1M1653 247h1M1653 251h1M1654 192h1M1654 197h1M1654 201h1M1654 207h1M1654 209h1M1654 239h1M1654 240h1M1654 241h1M1654 243h1M1654 248h1M1654 250h1M1655 186h1M1655 199h1M1655 205h1M1655 206h1M1655 207h1M1655 209h1M1655 210h1M1655 211h1M1655 212h1M1655 213h1M1655 236h1M1655 237h1M1655 238h1M1655 240h1M1655 241h1M1655 247h1M1655 249h1M1655 250h1M1655 251h1M1655 254h1M1656 209h1M1656 211h1M1656 213h1M1656 214h1M1656 216h1M1656 231h1M1656 233h1M1656 234h1M1656 236h1M1656 237h1M1656 238h1M1656 239h1M1656 241h1M1656 242h1M1656 243h1M1656 245h1M1656 256h1M1656 257h1M1657 201h1M1657 204h1M1657 207h1M1657 211h1M1657 212h1M1657 213h1M1657 214h1M1657 215h1M1657 219h1M1657 220h1M1657 221h1M1657 222h1M1657 224h1M1657 225h1M1657 227h1M1657 229h1M1657 230h1M1657 231h1M1657 233h1M1657 235h1M1657 239h1M1657 241h1M1657 242h1M1657 246h1M1657 247h1M1658 206h1M1658 213h1M1658 215h1M1658 216h1M1658 217h1M1658 218h1M1658 219h1M1658 220h1M1658 221h1M1658 223h1M1658 225h1M1658 227h1M1658 228h1M1658 229h1M1658 230h1M1658 231h1M1658 232h1M1658 233h1M1658 234h1M1658 236h1M1658 238h1M1658 241h1M1658 245h1M1658 251h1M1658 260h1M1659 192h1M1659 194h1M1659 201h1M1659 209h1M1659 210h1M1659 212h1M1659 215h1M1659 216h1M1659 221h1M1659 223h1M1659 225h1M1659 226h1M1659 228h1M1659 229h1M1659 230h1M1659 231h1M1659 232h1M1659 233h1M1659 238h1M1659 240h1M1659 242h1M1659 243h1M1659 253h1M1660 186h1M1660 198h1M1660 202h1M1660 204h1M1660 206h1M1660 209h1M1660 211h1M1660 216h1M1660 217h1M1660 220h1M1660 221h1M1660 224h1M1660 225h1M1660 228h1M1660 230h1M1660 231h1M1660 232h1M1660 233h1M1660 236h1M1660 237h1M1660 238h1M1660 240h1M1660 245h1M1660 247h1M1661 202h1M1661 207h1M1661 208h1M1661 210h1M1661 215h1M1661 216h1M1661 220h1M1661 223h1M1661 225h1M1661 227h1M1661 231h1M1661 233h1M1661 241h1M1661 243h1M1661 244h1M1661 254h1M1662 198h1M1662 203h1M1662 207h1M1662 208h1M1662 213h1M1662 215h1M1662 216h1M1662 223h1M1662 224h1M1662 226h1M1662 227h1M1662 228h1M1662 230h1M1662 231h1M1662 232h1M1662 235h1M1662 236h1M1662 239h1M1662 240h1M1662 242h1M1662 245h1M1662 248h1M1663 214h1M1663 219h1M1663 222h1M1663 226h1M1663 227h1M1663 230h1M1663 233h1M1663 234h1M1663 235h1M1663 237h1M1663 239h1M1663 252h1M1664 207h1M1664 208h1M1664 210h1M1664 212h1M1664 213h1M1664 214h1M1664 215h1M1664 217h1M1664 220h1M1664 222h1M1664 225h1M1664 227h1M1664 228h1M1664 231h1M1664 233h1M1664 234h1M1664 235h1M1664 240h1M1665 194h1M1665 203h1M1665 209h1M1665 210h1M1665 211h1M1665 217h1M1665 221h1M1665 227h1M1665 230h1M1665 231h1M1665 237h1M1665 252h1M1666 199h1M1666 201h1M1666 203h1M1666 205h1M1666 210h1M1666 216h1M1666 225h1M1666 228h1M1666 243h1M1667 203h1M1667 224h1M1667 226h1M1667 240h1M1667 244h1M1668 195h1M1668 199h1M1668 213h1M1668 218h1M1668 220h1M1668 223h1M1668 232h1M1668 233h1M1668 259h1M1669 218h1M1669 226h1M1669 231h1M1669 237h1M1669 239h1M1669 245h1M1670 227h1M1670 229h1M1670 233h1M1670 238h1M1671 218h1M1671 225h1M1671 227h1M1671 250h1M1672 230h1M1672 239h1M1672 252h1M1673 206h1M1673 215h1M1673 225h1M1673 228h1M1673 232h1M1673 248h1M1674 201h1M1674 212h1M1674 217h1M1674 218h1M1674 219h1M1675 222h1M1676 229h1M1677 212h1M1677 243h1M1677 256h1M1679 230h1M1679 243h1M1680 199h1M1681 207h1M1681 215h1M1681 243h1M1689 216h1M1519 264h1M1549 284h1M1492 287h1M1556 273h1M1647 280h1M1552 280h1M1640 274h1M1642 276h1M1687 236h1" fill="none" stroke="#000" stroke-width="1" shape-rendering="crispEdges"/>
<path d="M1551.4 198.0L1552.0 198.0L1553.0 197.9L1554.0 197.9L1555.0 197.9L1556.0 197.9L1557.0 197.9L1558.0 197.9L1559.0 197.9L1560.0 197.9L1561.0 197.9L1562.0 197.9L1563.0 198.0L1563.8 198.0L1564.5 198.0L1565.5 198.1L1566.5 198.2L1567.5 198.2L1568.5 198.3L1569.5 198.5L1570.0 198.5L1571.0 198.7L1572.0 198.8L1573.0 199.0L1573.5 199.1L1574.5 199.3L1575.5 199.5L1576.0 199.6L1577.0 199.8L1577.6 200.0L1578.5 200.2L1579.4 200.5L1580.0 200.7L1580.9 201.0L1581.5 201.2L1582.3 201.5L1583.0 201.7L1583.7 202.0L1584.5 202.3L1585.0 202.5L1586.0 202.9L1586.5 203.2L1587.3 203.5L1588.0 203.8L1588.6 204.0L1589.5 204.3L1590.0 204.5L1591.0 204.8L1591.5 205.0L1592.5 205.3L1593.5 205.5L1594.0 205.6L1595.0 205.7L1596.0 205.8L1597.0 205.8L1598.0 205.8L1599.0 205.8L1600.0 205.7L1601.0 205.7L1602.0 205.6L1602.6 205.5L1603.5 205.4L1604.5 205.3L1605.5 205.1L1606.5 205.0L1607.0 204.9L1608.0 204.8L1609.0 204.7L1610.0 204.6L1610.7 204.5L1611.5 204.4L1612.5 204.3L1613.5 204.2L1614.5 204.1L1615.5 204.0L1616.0 204.0L1617.0 203.9L1618.0 203.9L1619.0 203.8L1620.0 203.8L1621.0 203.7L1622.0 203.7L1623.0 203.6L1624.0 203.6L1625.0 203.6L1626.0 203.6L1627.0 203.6L1628.0 203.6L1629.0 203.6L1630.0 203.6L1631.0 203.6L1632.0 203.6L1633.0 203.6L1634.0 203.6L1635.0 203.6L1636.0 203.7L1637.0 203.7L1638.0 203.8L1639.0 203.9L1639.5 204.0L1640.5 204.1L1641.5 204.3L1642.3 204.5L1643.0 204.7L1644.0 204.9L1644.5 205.1L1645.5 205.4L1646.0 205.6L1647.0 206.0L1647.5 206.2L1648.0 206.5L1648.9 207.0L1649.5 207.3L1650.0 207.7L1650.5 208.0L1651.1 208.5L1651.7 209.0L1652.2 209.5L1652.7 210.0L1653.1 210.5L1653.5 211.0L1654.0 211.6L1654.5 212.4L1654.8 213.0L1655.1 213.5L1655.5 214.5L1655.7 215.0L1656.0 216.0L1656.1 216.5L1656.4 217.5L1656.5 218.3L1656.6 219.0L1656.7 220.0L1656.8 221.0L1656.8 222.0L1656.8 223.0L1656.8 224.0L1656.8 225.0L1656.8 226.0L1656.7 227.0L1656.7 228.0L1656.6 229.0L1656.5 229.6L1656.4 230.5L1656.2 231.5L1656.0 232.3L1655.8 233.0L1655.5 234.0L1655.4 234.5L1655.0 235.4L1654.7 236.0L1654.5 236.5L1654.0 237.4L1653.7 238.0L1653.3 238.5L1653.0 239.0L1652.5 239.6L1652.0 240.2L1651.5 240.8L1651.0 241.3L1650.5 241.7L1650.0 242.1L1649.5 242.5L1648.8 243.0L1648.0 243.5L1647.5 243.8L1647.0 244.1L1646.1 244.5L1645.5 244.8L1645.0 245.0L1644.0 245.4L1643.5 245.5L1642.5 245.8L1641.8 246.0L1641.0 246.2L1640.0 246.4L1639.2 246.5L1638.5 246.6L1637.5 246.7L1636.5 246.8L1635.5 246.9L1634.5 246.9L1633.5 246.9L1632.5 247.0L1631.5 247.0L1630.5 247.0L1629.5 247.0L1628.5 247.0L1627.5 246.9L1626.5 246.9L1625.5 246.9L1624.5 246.9L1623.5 246.9L1622.5 246.8L1621.5 246.8L1620.5 246.8L1619.5 246.7L1618.5 246.6L1617.5 246.6L1616.9 246.5L1616.0 246.4L1615.0 246.3L1614.0 246.2L1613.0 246.1L1612.4 246.0L1611.5 245.9L1610.5 245.7L1609.5 245.5L1609.0 245.5L1608.0 245.3L1607.0 245.1L1606.5 244.9L1605.5 244.7L1604.7 244.5L1604.0 244.3L1603.0 244.0L1602.5 243.9L1601.5 243.6L1601.0 243.4L1600.0 243.1L1599.5 242.9L1598.5 242.5L1598.0 242.3L1597.3 242.0L1596.5 241.7L1596.0 241.4L1595.0 241.0L1594.5 240.8L1593.9 240.5L1593.0 240.1L1592.5 239.8L1591.8 239.5L1591.0 239.1L1590.5 238.9L1589.5 238.5L1589.0 238.3L1588.2 238.0L1587.5 237.7L1586.7 237.5L1586.0 237.3L1585.0 237.1L1584.5 237.0L1583.5 236.8L1582.5 236.7L1581.5 236.7L1580.5 236.6L1579.5 236.6L1578.5 236.6L1577.5 236.7L1576.5 236.7L1575.5 236.8L1574.5 236.9L1573.5 236.9L1572.7 237.0L1572.0 237.1L1571.0 237.1L1570.0 237.2L1569.0 237.3L1568.0 237.3L1567.0 237.4L1566.0 237.4L1565.0 237.5L1564.0 237.5L1563.0 237.5L1562.5 237.5L1561.5 237.5L1560.5 237.5L1559.5 237.5L1558.5 237.5L1557.6 237.5L1557.0 237.5L1556.0 237.5L1555.0 237.5L1554.0 237.4L1553.0 237.4L1552.0 237.3L1551.0 237.3L1550.0 237.2L1549.0 237.1L1548.5 237.0L1547.5 236.8L1546.5 236.7L1545.7 236.5L1545.0 236.4L1544.0 236.1L1543.5 236.0L1542.5 235.6L1542.0 235.5L1541.0 235.1L1540.5 234.9L1539.6 234.5L1539.0 234.2L1538.5 233.9L1537.7 233.5L1537.0 233.1L1536.5 232.7L1536.0 232.4L1535.5 232.0L1534.9 231.5L1534.4 231.0L1533.9 230.5L1533.4 230.0L1532.9 229.5L1532.5 228.9L1532.0 228.3L1531.5 227.5L1531.2 227.0L1530.9 226.5L1530.5 225.6L1530.2 225.0L1530.0 224.4L1529.7 223.5L1529.5 222.8L1529.3 222.0L1529.1 221.0L1529.0 220.4L1528.9 219.5L1528.8 218.5L1528.7 217.5L1528.7 216.5L1528.7 215.5L1528.7 214.5L1528.7 213.5L1528.8 212.5L1528.9 211.5L1529.0 210.9L1529.2 210.0L1529.5 209.0L1529.7 208.5L1530.0 207.8L1530.4 207.0L1530.7 206.5L1531.1 206.0L1531.5 205.5L1532.0 204.9L1532.5 204.4L1533.0 203.9L1533.5 203.5L1534.1 203.0L1534.8 202.5L1535.5 202.0L1536.0 201.8L1536.5 201.5L1537.5 201.0L1538.0 200.8L1538.6 200.5L1539.5 200.2L1540.0 200.0L1541.0 199.7L1541.5 199.5L1542.5 199.2L1543.5 199.0L1544.0 198.9L1545.0 198.7L1546.0 198.5L1546.5 198.5L1547.5 198.3L1548.5 198.2L1549.5 198.1L1550.5 198.1L1551.4 198.0ZM1549.7 200.0L1550.5 199.9L1551.5 199.9L1552.5 199.8L1553.5 199.8L1554.5 199.7L1555.5 199.7L1556.5 199.7L1557.5 199.7L1558.5 199.7L1559.5 199.7L1560.5 199.7L1561.5 199.8L1562.5 199.8L1563.5 199.8L1564.5 199.9L1565.5 200.0L1566.0 200.0L1567.0 200.1L1568.0 200.2L1569.0 200.3L1570.0 200.5L1570.5 200.6L1571.5 200.7L1572.5 200.9L1573.0 201.0L1574.0 201.2L1575.0 201.5L1575.5 201.6L1576.5 201.9L1577.0 202.1L1578.0 202.4L1578.5 202.6L1579.5 202.9L1580.0 203.1L1580.9 203.5L1581.5 203.8L1582.0 204.0L1583.0 204.5L1583.5 204.7L1584.1 205.0L1585.0 205.5L1585.5 205.7L1586.0 206.0L1587.0 206.5L1587.5 206.8L1588.0 207.0L1589.0 207.5L1589.5 207.7L1590.3 208.0L1591.0 208.3L1591.9 208.5L1592.5 208.7L1593.5 208.8L1594.5 208.9L1595.5 209.0L1596.5 209.0L1597.5 208.9L1598.5 208.8L1599.5 208.7L1600.5 208.5L1601.0 208.4L1602.0 208.3L1603.0 208.1L1603.5 208.0L1604.5 207.8L1605.5 207.6L1606.2 207.5L1607.0 207.4L1608.0 207.2L1609.0 207.0L1609.5 207.0L1610.5 206.8L1611.5 206.7L1612.5 206.5L1613.0 206.5L1614.0 206.4L1615.0 206.2L1616.0 206.2L1617.0 206.1L1617.9 206.0L1618.5 206.0L1619.5 205.9L1620.5 205.8L1621.5 205.8L1622.5 205.7L1623.5 205.7L1624.5 205.7L1625.5 205.7L1626.5 205.6L1627.5 205.6L1628.5 205.6L1629.5 205.6L1630.5 205.6L1631.5 205.6L1632.5 205.6L1633.5 205.6L1634.5 205.7L1635.5 205.7L1636.5 205.8L1637.5 205.9L1638.5 206.0L1639.0 206.1L1640.0 206.2L1641.0 206.4L1641.5 206.5L1642.5 206.8L1643.2 207.0L1644.0 207.3L1644.6 207.5L1645.5 207.9L1646.0 208.1L1646.7 208.5L1647.5 209.0L1648.0 209.3L1648.5 209.6L1649.0 210.0L1649.5 210.5L1650.1 211.0L1650.5 211.5L1651.0 212.0L1651.5 212.7L1652.0 213.5L1652.3 214.0L1652.6 214.5L1653.0 215.5L1653.2 216.0L1653.5 217.0L1653.6 217.5L1653.8 218.5L1654.0 219.5L1654.0 220.0L1654.1 221.0L1654.1 222.0L1654.1 223.0L1654.1 224.0L1654.1 225.0L1654.1 226.0L1654.0 227.0L1654.0 227.7L1653.9 228.5L1653.8 229.5L1653.6 230.5L1653.5 231.0L1653.3 232.0L1653.0 232.9L1652.8 233.5L1652.5 234.2L1652.1 235.0L1651.9 235.5L1651.5 236.2L1651.0 237.0L1650.6 237.5L1650.2 238.0L1649.8 238.5L1649.4 239.0L1648.8 239.5L1648.3 240.0L1647.6 240.5L1647.0 241.0L1646.5 241.3L1646.0 241.6L1645.2 242.0L1644.5 242.4L1644.0 242.6L1643.0 243.0L1642.5 243.1L1641.5 243.4L1641.0 243.6L1640.0 243.8L1639.0 244.0L1638.5 244.1L1637.5 244.2L1636.5 244.3L1635.5 244.4L1634.5 244.5L1633.7 244.5L1633.0 244.5L1632.0 244.5L1631.0 244.5L1630.0 244.5L1629.0 244.5L1628.0 244.5L1627.0 244.5L1626.4 244.5L1625.5 244.5L1624.5 244.5L1623.5 244.4L1622.5 244.4L1621.5 244.3L1620.5 244.3L1619.5 244.2L1618.5 244.1L1617.5 244.0L1617.0 244.0L1616.0 243.9L1615.0 243.8L1614.0 243.6L1613.2 243.5L1612.5 243.4L1611.5 243.2L1610.5 243.0L1610.0 242.9L1609.0 242.7L1608.1 242.5L1607.5 242.3L1606.5 242.1L1606.0 241.9L1605.0 241.6L1604.5 241.5L1603.5 241.1L1603.0 240.9L1602.0 240.5L1601.5 240.3L1600.7 240.0L1600.0 239.7L1599.5 239.4L1598.6 239.0L1598.0 238.7L1597.5 238.4L1596.7 238.0L1596.0 237.6L1595.5 237.3L1595.0 237.0L1594.1 236.5L1593.5 236.1L1593.0 235.8L1592.4 235.5L1591.5 235.0L1591.0 234.8L1590.4 234.5L1589.5 234.1L1589.0 233.9L1588.0 233.6L1587.5 233.4L1586.5 233.2L1585.5 233.1L1584.5 233.0L1584.0 233.0L1583.0 233.0L1582.5 233.0L1581.5 233.1L1580.5 233.2L1579.5 233.3L1578.5 233.4L1578.0 233.5L1577.0 233.6L1576.0 233.8L1575.0 233.9L1574.5 234.0L1573.5 234.2L1572.5 234.3L1571.5 234.4L1570.7 234.5L1570.0 234.6L1569.0 234.7L1568.0 234.8L1567.0 234.9L1566.0 234.9L1565.0 235.0L1564.5 235.0L1563.5 235.0L1562.5 235.1L1561.5 235.1L1560.5 235.1L1559.5 235.1L1558.5 235.1L1557.5 235.1L1556.5 235.1L1555.5 235.1L1554.5 235.0L1553.7 235.0L1553.0 235.0L1552.0 234.9L1551.0 234.8L1550.0 234.7L1549.0 234.6L1548.5 234.5L1547.5 234.3L1546.5 234.1L1546.0 234.0L1545.0 233.7L1544.3 233.5L1543.5 233.2L1542.9 233.0L1542.0 232.6L1541.5 232.4L1540.7 232.0L1540.0 231.6L1539.5 231.3L1539.0 231.0L1538.3 230.5L1537.6 230.0L1537.0 229.5L1536.5 229.0L1536.0 228.5L1535.6 228.0L1535.2 227.5L1534.8 227.0L1534.5 226.5L1534.0 225.7L1533.6 225.0L1533.4 224.5L1533.0 223.6L1532.8 223.0L1532.5 222.1L1532.3 221.5L1532.1 220.5L1532.0 219.8L1531.9 219.0L1531.8 218.0L1531.7 217.0L1531.7 216.0L1531.7 215.0L1531.7 214.0L1531.8 213.0L1531.9 212.0L1532.0 211.4L1532.2 210.5L1532.5 209.6L1532.7 209.0L1533.0 208.4L1533.5 207.5L1533.9 207.0L1534.2 206.5L1534.7 206.0L1535.1 205.5L1535.7 205.0L1536.3 204.5L1536.9 204.0L1537.5 203.6L1538.0 203.3L1538.6 203.0L1539.5 202.5L1540.0 202.3L1540.7 202.0L1541.5 201.7L1542.1 201.5L1543.0 201.2L1543.8 201.0L1544.5 200.8L1545.5 200.6L1546.1 200.5L1547.0 200.3L1548.0 200.2L1549.0 200.1L1549.7 200.0ZM1551.0 201.5L1551.5 201.5L1552.5 201.4L1553.5 201.3L1554.5 201.3L1555.5 201.3L1556.5 201.3L1557.5 201.3L1558.5 201.3L1559.5 201.3L1560.5 201.3L1561.5 201.3L1562.5 201.4L1563.5 201.4L1564.4 201.5L1565.0 201.5L1566.0 201.6L1567.0 201.7L1568.0 201.9L1568.9 202.0L1569.5 202.1L1570.5 202.3L1571.5 202.5L1572.0 202.6L1573.0 202.8L1573.6 203.0L1574.5 203.3L1575.2 203.5L1576.0 203.8L1576.6 204.0L1577.5 204.3L1578.0 204.6L1579.0 205.0L1579.5 205.3L1580.0 205.5L1580.9 206.0L1581.5 206.3L1582.0 206.6L1582.6 207.0L1583.3 207.5L1584.0 208.0L1584.5 208.3L1585.0 208.7L1585.5 209.0L1586.2 209.5L1586.9 210.0L1587.5 210.4L1588.0 210.8L1588.5 211.1L1589.3 211.5L1590.0 211.9L1590.5 212.1L1591.5 212.4L1592.2 212.5L1593.0 212.6L1594.0 212.6L1595.0 212.5L1595.5 212.5L1596.5 212.3L1597.5 212.1L1598.0 212.0L1599.0 211.7L1599.7 211.5L1600.5 211.3L1601.5 211.0L1602.0 210.9L1603.0 210.6L1603.5 210.5L1604.5 210.2L1605.2 210.0L1606.0 209.8L1607.0 209.6L1607.5 209.5L1608.5 209.2L1609.5 209.0L1610.0 208.9L1611.0 208.8L1612.0 208.6L1612.5 208.5L1613.5 208.4L1614.5 208.2L1615.5 208.1L1616.3 208.0L1617.0 207.9L1618.0 207.8L1619.0 207.8L1620.0 207.7L1621.0 207.6L1622.0 207.6L1623.0 207.5L1623.7 207.5L1624.5 207.5L1625.5 207.4L1626.5 207.4L1627.5 207.4L1628.5 207.4L1629.5 207.4L1630.5 207.4L1631.5 207.4L1632.5 207.4L1633.5 207.4L1634.5 207.5L1635.2 207.5L1636.0 207.6L1637.0 207.6L1638.0 207.8L1639.0 207.9L1639.5 208.0L1640.5 208.2L1641.5 208.5L1642.0 208.7L1643.0 209.0L1643.5 209.2L1644.2 209.5L1645.0 209.9L1645.5 210.2L1646.0 210.5L1646.7 211.0L1647.4 211.5L1647.9 212.0L1648.4 212.5L1648.9 213.0L1649.3 213.5L1649.6 214.0L1650.0 214.6L1650.5 215.5L1650.7 216.0L1651.0 216.9L1651.2 217.5L1651.4 218.5L1651.5 219.0L1651.7 220.0L1651.8 221.0L1651.8 222.0L1651.8 223.0L1651.8 224.0L1651.8 225.0L1651.8 226.0L1651.7 227.0L1651.6 228.0L1651.5 229.0L1651.4 229.5L1651.2 230.5L1651.0 231.3L1650.8 232.0L1650.5 232.8L1650.2 233.5L1650.0 234.0L1649.5 234.9L1649.1 235.5L1648.8 236.0L1648.4 236.5L1647.9 237.0L1647.5 237.5L1647.0 238.0L1646.4 238.5L1645.7 239.0L1645.0 239.5L1644.5 239.8L1644.0 240.1L1643.1 240.5L1642.5 240.8L1641.9 241.0L1641.0 241.3L1640.3 241.5L1639.5 241.7L1638.5 241.9L1638.0 242.0L1637.0 242.1L1636.0 242.3L1635.0 242.3L1634.0 242.4L1633.0 242.4L1632.0 242.4L1631.0 242.4L1630.0 242.4L1629.0 242.4L1628.0 242.4L1627.0 242.4L1626.0 242.4L1625.0 242.4L1624.0 242.3L1623.0 242.3L1622.0 242.2L1621.0 242.2L1620.0 242.1L1619.0 242.0L1618.5 242.0L1617.5 241.9L1616.5 241.7L1615.5 241.6L1614.9 241.5L1614.0 241.4L1613.0 241.2L1612.1 241.0L1611.5 240.9L1610.5 240.6L1610.0 240.5L1609.0 240.2L1608.2 240.0L1607.5 239.8L1606.7 239.5L1606.0 239.3L1605.3 239.0L1604.5 238.6L1604.0 238.4L1603.1 238.0L1602.5 237.7L1602.0 237.5L1601.2 237.0L1600.5 236.6L1600.0 236.3L1599.5 236.0L1598.8 235.5L1598.1 235.0L1597.5 234.6L1597.0 234.2L1596.5 233.8L1596.0 233.4L1595.5 233.0L1594.9 232.5L1594.3 232.0L1593.6 231.5L1593.0 231.0L1592.5 230.7L1592.0 230.3L1591.5 230.0L1590.5 229.5L1590.0 229.3L1589.2 229.0L1588.5 228.8L1587.5 228.7L1586.5 228.7L1585.5 228.8L1584.5 229.0L1584.0 229.1L1583.0 229.3L1582.2 229.5L1581.5 229.7L1580.5 229.9L1580.0 230.1L1579.0 230.3L1578.4 230.5L1577.5 230.7L1576.5 231.0L1576.0 231.1L1575.0 231.4L1574.4 231.5L1573.5 231.7L1572.5 231.9L1571.9 232.0L1571.0 232.2L1570.0 232.3L1569.0 232.4L1568.5 232.5L1567.5 232.6L1566.5 232.7L1565.5 232.8L1564.5 232.9L1563.5 232.9L1562.5 233.0L1561.7 233.0L1561.0 233.0L1560.0 233.0L1559.0 233.0L1558.0 233.0L1557.0 233.0L1556.3 233.0L1555.5 233.0L1554.5 233.0L1553.5 232.9L1552.5 232.8L1551.5 232.8L1550.5 232.6L1549.5 232.5L1549.0 232.4L1548.0 232.2L1547.0 232.0L1546.5 231.9L1545.5 231.6L1545.0 231.4L1544.0 231.0L1543.5 230.8L1542.9 230.5L1542.0 230.1L1541.5 229.8L1541.0 229.5L1540.3 229.0L1539.7 228.5L1539.1 228.0L1538.6 227.5L1538.1 227.0L1537.7 226.5L1537.3 226.0L1536.9 225.5L1536.5 224.8L1536.0 224.0L1535.8 223.5L1535.5 222.8L1535.2 222.0L1535.0 221.3L1534.8 220.5L1534.6 219.5L1534.5 218.7L1534.4 218.0L1534.4 217.0L1534.3 216.0L1534.3 215.0L1534.3 214.0L1534.4 213.0L1534.5 212.2L1534.6 211.5L1534.9 210.5L1535.1 210.0L1535.5 209.1L1535.8 208.5L1536.1 208.0L1536.5 207.5L1537.0 206.9L1537.5 206.4L1538.0 205.9L1538.5 205.5L1539.2 205.0L1540.0 204.5L1540.5 204.2L1541.0 204.0L1542.0 203.5L1542.5 203.3L1543.3 203.0L1544.0 202.8L1545.0 202.5L1545.5 202.4L1546.5 202.1L1547.2 202.0L1548.0 201.9L1549.0 201.7L1550.0 201.6L1551.0 201.5ZM1551.0 203.0L1552.0 202.9L1553.0 202.8L1554.0 202.8L1555.0 202.8L1556.0 202.8L1557.0 202.8L1558.0 202.8L1559.0 202.8L1560.0 202.8L1561.0 202.8L1562.0 202.8L1563.0 202.9L1564.0 203.0L1564.5 203.0L1565.5 203.1L1566.5 203.2L1567.5 203.4L1568.3 203.5L1569.0 203.6L1570.0 203.8L1570.8 204.0L1571.5 204.2L1572.5 204.5L1573.0 204.6L1574.0 205.0L1574.5 205.2L1575.4 205.5L1576.0 205.8L1576.5 206.0L1577.4 206.5L1578.0 206.8L1578.5 207.1L1579.1 207.5L1579.8 208.0L1580.4 208.5L1581.0 209.0L1581.5 209.4L1582.0 209.9L1582.5 210.4L1583.0 211.0L1583.4 211.5L1583.8 212.0L1584.2 212.5L1584.5 213.0L1585.0 213.8L1585.4 214.5L1585.7 215.0L1586.0 215.6L1586.5 216.5L1586.7 217.0L1587.0 217.7L1587.2 218.5L1587.3 219.5L1587.0 220.5L1586.8 221.0L1586.4 221.5L1586.0 222.1L1585.5 222.6L1585.0 223.1L1584.5 223.6L1584.0 224.0L1583.4 224.5L1582.7 225.0L1582.0 225.5L1581.5 225.8L1581.0 226.1L1580.3 226.5L1579.5 226.9L1579.0 227.2L1578.3 227.5L1577.5 227.8L1577.0 228.1L1576.0 228.5L1575.5 228.6L1574.5 229.0L1574.0 229.1L1573.0 229.4L1572.5 229.6L1571.5 229.8L1570.7 230.0L1570.0 230.2L1569.0 230.3L1568.0 230.5L1567.5 230.6L1566.5 230.7L1565.5 230.8L1564.5 230.9L1563.5 231.0L1563.0 231.0L1562.0 231.1L1561.0 231.1L1560.0 231.1L1559.0 231.1L1558.0 231.1L1557.0 231.1L1556.0 231.1L1555.0 231.1L1554.0 231.0L1553.5 231.0L1552.5 230.9L1551.5 230.8L1550.5 230.7L1549.5 230.5L1549.0 230.4L1548.0 230.2L1547.4 230.0L1546.5 229.7L1545.9 229.5L1545.0 229.1L1544.5 228.9L1543.7 228.5L1543.0 228.1L1542.5 227.8L1542.0 227.4L1541.5 227.0L1540.9 226.5L1540.4 226.0L1539.9 225.5L1539.5 225.0L1539.0 224.3L1538.5 223.5L1538.3 223.0L1538.0 222.5L1537.6 221.5L1537.5 221.0L1537.2 220.0L1537.0 219.0L1536.9 218.5L1536.8 217.5L1536.8 216.5L1536.8 215.5L1536.8 214.5L1536.8 213.5L1536.9 212.5L1537.0 212.0L1537.3 211.0L1537.5 210.3L1537.9 209.5L1538.2 209.0L1538.5 208.5L1539.0 207.9L1539.5 207.4L1540.0 206.9L1540.5 206.5L1541.2 206.0L1542.0 205.5L1542.5 205.3L1543.0 205.0L1544.0 204.6L1544.5 204.4L1545.5 204.1L1546.0 203.9L1547.0 203.7L1547.7 203.5L1548.5 203.3L1549.5 203.2L1550.5 203.1L1551.0 203.0ZM1618.9 209.5L1619.5 209.4L1620.5 209.4L1621.5 209.3L1622.5 209.2L1623.5 209.2L1624.5 209.1L1625.5 209.1L1626.5 209.1L1627.5 209.1L1628.5 209.1L1629.5 209.1L1630.5 209.1L1631.5 209.1L1632.5 209.1L1633.5 209.1L1634.5 209.1L1635.5 209.2L1636.5 209.3L1637.5 209.4L1638.0 209.5L1639.0 209.7L1640.0 209.9L1640.5 210.1L1641.5 210.4L1642.0 210.6L1642.9 211.0L1643.5 211.3L1644.0 211.6L1644.7 212.0L1645.4 212.5L1646.0 213.0L1646.5 213.5L1647.0 214.0L1647.4 214.5L1647.7 215.0L1648.0 215.5L1648.5 216.4L1648.7 217.0L1649.0 217.7L1649.2 218.5L1649.4 219.5L1649.5 220.0L1649.6 221.0L1649.7 222.0L1649.7 223.0L1649.7 224.0L1649.7 225.0L1649.6 226.0L1649.6 227.0L1649.5 227.6L1649.4 228.5L1649.2 229.5L1649.0 230.3L1648.8 231.0L1648.5 231.8L1648.2 232.5L1648.0 233.0L1647.5 233.9L1647.1 234.5L1646.7 235.0L1646.3 235.5L1645.8 236.0L1645.3 236.5L1644.7 237.0L1644.1 237.5L1643.5 237.9L1643.0 238.2L1642.4 238.5L1641.5 238.9L1641.0 239.1L1640.0 239.5L1639.5 239.6L1638.5 239.9L1637.8 240.0L1637.0 240.1L1636.0 240.3L1635.0 240.4L1634.0 240.4L1633.0 240.5L1632.0 240.5L1631.0 240.5L1630.0 240.5L1629.0 240.5L1628.0 240.5L1627.0 240.5L1626.0 240.4L1625.0 240.4L1624.0 240.4L1623.0 240.3L1622.0 240.2L1621.0 240.2L1620.0 240.1L1619.2 240.0L1618.5 239.9L1617.5 239.8L1616.5 239.6L1615.7 239.5L1615.0 239.4L1614.0 239.2L1613.2 239.0L1612.5 238.8L1611.5 238.6L1611.0 238.4L1610.0 238.1L1609.5 238.0L1608.5 237.6L1608.0 237.4L1607.1 237.0L1606.5 236.7L1606.0 236.5L1605.1 236.0L1604.5 235.7L1604.0 235.4L1603.4 235.0L1602.7 234.5L1602.0 234.0L1601.5 233.6L1601.0 233.1L1600.5 232.7L1600.0 232.2L1599.5 231.6L1599.0 231.1L1598.5 230.5L1598.2 230.0L1597.8 229.5L1597.5 229.0L1597.0 228.2L1596.6 227.5L1596.3 227.0L1596.0 226.4L1595.6 225.5L1595.4 225.0L1595.0 224.0L1594.8 223.5L1594.5 222.5L1594.4 222.0L1594.3 221.0L1594.4 220.0L1594.6 219.5L1595.0 218.8L1595.5 218.2L1596.0 217.7L1596.5 217.2L1597.0 216.8L1597.5 216.4L1598.1 216.0L1598.9 215.5L1599.5 215.1L1600.0 214.8L1600.6 214.5L1601.5 214.0L1602.0 213.8L1602.6 213.5L1603.5 213.1L1604.0 212.9L1605.0 212.5L1605.5 212.3L1606.4 212.0L1607.0 211.8L1608.0 211.5L1608.5 211.4L1609.5 211.1L1610.0 211.0L1611.0 210.7L1612.0 210.5L1612.5 210.4L1613.5 210.2L1614.5 210.1L1615.0 210.0L1616.0 209.8L1617.0 209.7L1618.0 209.6L1618.9 209.5ZM1550.9 204.5L1551.5 204.4L1552.5 204.3L1553.5 204.3L1554.5 204.2L1555.5 204.2L1556.5 204.2L1557.5 204.2L1558.5 204.2L1559.5 204.2L1560.5 204.2L1561.5 204.3L1562.5 204.3L1563.5 204.4L1564.5 204.5L1565.0 204.6L1566.0 204.7L1567.0 204.8L1567.9 205.0L1568.5 205.1L1569.5 205.4L1570.0 205.5L1571.0 205.8L1571.6 206.0L1572.5 206.3L1573.0 206.5L1574.0 207.0L1574.5 207.2L1575.0 207.5L1575.8 208.0L1576.5 208.5L1577.0 208.9L1577.5 209.3L1578.0 209.8L1578.5 210.3L1579.0 210.9L1579.4 211.5L1579.7 212.0L1580.0 212.5L1580.4 213.5L1580.6 214.0L1580.9 215.0L1581.0 215.7L1581.1 216.5L1581.2 217.5L1581.2 218.5L1581.0 219.5L1580.8 220.0L1580.5 220.8L1580.1 221.5L1579.8 222.0L1579.4 222.5L1579.0 223.0L1578.5 223.5L1578.0 224.0L1577.4 224.5L1576.7 225.0L1576.0 225.4L1575.5 225.7L1575.0 226.0L1574.0 226.5L1573.5 226.7L1572.9 227.0L1572.0 227.3L1571.5 227.5L1570.5 227.8L1569.8 228.0L1569.0 228.2L1568.0 228.4L1567.5 228.5L1566.5 228.7L1565.5 228.8L1564.5 229.0L1564.0 229.0L1563.0 229.1L1562.0 229.1L1561.0 229.2L1560.0 229.2L1559.0 229.2L1558.0 229.2L1557.0 229.2L1556.0 229.2L1555.0 229.2L1554.0 229.1L1553.0 229.0L1552.5 229.0L1551.5 228.9L1550.5 228.7L1549.6 228.5L1549.0 228.4L1548.0 228.1L1547.5 227.9L1546.5 227.5L1546.0 227.3L1545.4 227.0L1544.6 226.5L1544.0 226.1L1543.5 225.8L1543.0 225.3L1542.5 224.9L1542.0 224.3L1541.5 223.7L1541.0 223.0L1540.7 222.5L1540.4 222.0L1540.0 221.0L1539.8 220.5L1539.5 219.5L1539.4 219.0L1539.3 218.0L1539.2 217.0L1539.1 216.0L1539.1 215.0L1539.2 214.0L1539.2 213.0L1539.4 212.0L1539.6 211.5L1540.0 210.5L1540.2 210.0L1540.5 209.5L1541.0 208.9L1541.5 208.3L1542.0 207.9L1542.5 207.5L1543.2 207.0L1544.0 206.5L1544.5 206.3L1545.1 206.0L1546.0 205.6L1546.5 205.5L1547.5 205.2L1548.1 205.0L1549.0 204.8L1550.0 204.6L1550.9 204.5ZM1621.3 211.0L1622.0 210.9L1623.0 210.9L1624.0 210.8L1625.0 210.8L1626.0 210.8L1627.0 210.7L1628.0 210.7L1629.0 210.7L1630.0 210.7L1631.0 210.7L1632.0 210.7L1633.0 210.7L1634.0 210.8L1635.0 210.8L1636.0 210.9L1636.6 211.0L1637.5 211.1L1638.5 211.4L1639.1 211.5L1640.0 211.8L1640.6 212.0L1641.5 212.4L1642.0 212.6L1642.7 213.0L1643.4 213.5L1644.0 213.9L1644.5 214.4L1645.0 214.9L1645.5 215.5L1645.8 216.0L1646.1 216.5L1646.5 217.2L1646.8 218.0L1647.0 218.5L1647.2 219.5L1647.4 220.5L1647.5 221.4L1647.5 222.0L1647.6 223.0L1647.6 224.0L1647.5 225.0L1647.5 226.0L1647.5 226.5L1647.4 227.5L1647.2 228.5L1647.0 229.4L1646.8 230.0L1646.5 230.9L1646.2 231.5L1646.0 232.0L1645.5 232.9L1645.1 233.5L1644.7 234.0L1644.2 234.5L1643.7 235.0L1643.1 235.5L1642.5 236.0L1642.0 236.3L1641.5 236.6L1640.7 237.0L1640.0 237.3L1639.4 237.5L1638.5 237.8L1637.6 238.0L1637.0 238.1L1636.0 238.3L1635.0 238.4L1634.0 238.5L1633.5 238.5L1632.5 238.5L1631.5 238.6L1630.5 238.6L1629.5 238.6L1628.5 238.5L1627.5 238.5L1626.5 238.5L1626.0 238.5L1625.0 238.5L1624.0 238.4L1623.0 238.3L1622.0 238.3L1621.0 238.2L1620.0 238.1L1619.5 238.0L1618.5 237.9L1617.5 237.7L1616.5 237.5L1616.0 237.4L1615.0 237.2L1614.2 237.0L1613.5 236.8L1612.5 236.5L1612.0 236.3L1611.1 236.0L1610.5 235.8L1609.9 235.5L1609.0 235.1L1608.5 234.8L1607.9 234.5L1607.1 234.0L1606.5 233.6L1606.0 233.2L1605.5 232.8L1605.0 232.4L1604.5 231.9L1604.0 231.4L1603.5 230.8L1603.0 230.1L1602.6 229.5L1602.4 229.0L1602.0 228.3L1601.7 227.5L1601.5 226.9L1601.2 226.0L1601.1 225.0L1601.0 224.5L1600.9 223.5L1600.9 222.5L1600.9 221.5L1601.0 220.7L1601.2 220.0L1601.5 219.2L1601.9 218.5L1602.2 218.0L1602.7 217.5L1603.1 217.0L1603.7 216.5L1604.3 216.0L1605.0 215.5L1605.5 215.2L1606.0 214.9L1606.8 214.5L1607.5 214.1L1608.0 213.9L1609.0 213.5L1609.5 213.3L1610.4 213.0L1611.0 212.8L1612.0 212.5L1612.5 212.4L1613.5 212.2L1614.2 212.0L1615.0 211.8L1616.0 211.7L1616.9 211.5L1617.5 211.4L1618.5 211.3L1619.5 211.2L1620.5 211.1L1621.3 211.0ZM1551.5 206.0L1552.0 205.9L1553.0 205.8L1554.0 205.8L1555.0 205.7L1556.0 205.7L1557.0 205.7L1558.0 205.7L1559.0 205.7L1560.0 205.7L1561.0 205.8L1562.0 205.8L1563.0 205.9L1564.0 206.0L1564.5 206.1L1565.5 206.2L1566.5 206.4L1567.0 206.5L1568.0 206.7L1568.9 207.0L1569.5 207.2L1570.3 207.5L1571.0 207.8L1571.5 208.0L1572.4 208.5L1573.0 208.9L1573.5 209.2L1574.0 209.6L1574.5 210.0L1575.0 210.5L1575.5 211.1L1576.0 211.9L1576.3 212.5L1576.5 213.0L1576.8 214.0L1577.0 215.0L1577.1 215.5L1577.1 216.5L1577.1 217.5L1577.0 218.4L1576.9 219.0L1576.5 220.0L1576.3 220.5L1576.0 221.0L1575.5 221.7L1575.0 222.3L1574.5 222.8L1574.0 223.2L1573.5 223.6L1573.0 224.0L1572.1 224.5L1571.5 224.8L1571.0 225.1L1570.0 225.5L1569.5 225.7L1568.6 226.0L1568.0 226.2L1567.0 226.4L1566.5 226.5L1565.5 226.7L1564.5 226.9L1563.7 227.0L1563.0 227.1L1562.0 227.2L1561.0 227.2L1560.0 227.2L1559.0 227.3L1558.0 227.3L1557.0 227.2L1556.0 227.2L1555.0 227.2L1554.0 227.1L1553.0 227.0L1552.5 227.0L1551.5 226.8L1550.5 226.6L1550.0 226.5L1549.0 226.2L1548.5 226.0L1547.5 225.6L1547.0 225.3L1546.5 225.0L1545.7 224.5L1545.1 224.0L1544.5 223.5L1544.1 223.0L1543.7 222.5L1543.3 222.0L1543.0 221.5L1542.5 220.5L1542.3 220.0L1542.0 219.0L1541.9 218.5L1541.7 217.5L1541.7 216.5L1541.6 215.5L1541.6 214.5L1541.7 213.5L1541.9 212.5L1542.0 212.0L1542.4 211.0L1542.7 210.5L1543.0 210.0L1543.5 209.4L1544.0 208.9L1544.5 208.5L1545.3 208.0L1546.0 207.6L1546.5 207.4L1547.3 207.0L1548.0 206.8L1548.9 206.5L1549.5 206.4L1550.5 206.2L1551.5 206.0ZM1625.6 212.5L1626.5 212.5L1627.5 212.4L1628.5 212.4L1629.5 212.4L1630.5 212.4L1631.5 212.4L1632.5 212.4L1633.5 212.5L1634.1 212.5L1635.0 212.6L1636.0 212.7L1637.0 212.9L1637.5 213.0L1638.5 213.3L1639.2 213.5L1640.0 213.8L1640.5 214.1L1641.2 214.5L1642.0 215.0L1642.5 215.4L1643.0 215.9L1643.5 216.5L1643.8 217.0L1644.1 217.5L1644.5 218.2L1644.8 219.0L1645.0 219.8L1645.1 220.5L1645.3 221.5L1645.3 222.5L1645.3 223.5L1645.3 224.5L1645.3 225.5L1645.2 226.5L1645.1 227.5L1645.0 228.0L1644.7 229.0L1644.5 229.7L1644.2 230.5L1643.9 231.0L1643.5 231.7L1643.0 232.4L1642.5 233.0L1642.0 233.5L1641.5 233.9L1641.0 234.3L1640.5 234.6L1639.8 235.0L1639.0 235.3L1638.5 235.5L1637.5 235.9L1637.0 236.0L1636.0 236.2L1635.0 236.3L1634.0 236.4L1633.1 236.5L1632.5 236.5L1631.5 236.5L1630.5 236.5L1629.5 236.5L1628.5 236.5L1627.5 236.5L1627.0 236.5L1626.0 236.5L1625.0 236.4L1624.0 236.3L1623.0 236.3L1622.0 236.2L1621.0 236.0L1620.5 236.0L1619.5 235.8L1618.5 235.6L1617.8 235.5L1617.0 235.3L1616.0 235.1L1615.5 234.9L1614.5 234.6L1614.0 234.4L1613.0 234.0L1612.5 233.8L1612.0 233.5L1611.0 233.0L1610.5 232.7L1610.0 232.3L1609.5 231.9L1609.0 231.5L1608.4 231.0L1608.0 230.5L1607.5 229.9L1607.0 229.2L1606.6 228.5L1606.4 228.0L1606.0 227.0L1605.9 226.5L1605.7 225.5L1605.6 224.5L1605.6 223.5L1605.6 222.5L1605.6 221.5L1605.9 220.5L1606.0 220.0L1606.5 219.1L1606.9 218.5L1607.3 218.0L1607.8 217.5L1608.3 217.0L1609.0 216.5L1609.5 216.2L1610.0 215.9L1610.7 215.5L1611.5 215.1L1612.0 214.9L1613.0 214.5L1613.5 214.4L1614.5 214.0L1615.0 213.9L1616.0 213.7L1616.7 213.5L1617.5 213.3L1618.5 213.2L1619.5 213.0L1620.0 212.9L1621.0 212.8L1622.0 212.7L1623.0 212.6L1624.0 212.6L1625.0 212.5L1625.6 212.5ZM1552.1 207.5L1553.0 207.4L1554.0 207.3L1555.0 207.2L1556.0 207.2L1557.0 207.2L1558.0 207.2L1559.0 207.2L1560.0 207.2L1561.0 207.3L1562.0 207.4L1563.0 207.5L1563.5 207.5L1564.5 207.7L1565.5 207.9L1566.0 208.0L1567.0 208.3L1567.7 208.5L1568.5 208.8L1569.0 209.0L1569.9 209.5L1570.5 209.9L1571.0 210.2L1571.5 210.7L1572.0 211.2L1572.5 211.8L1572.9 212.5L1573.1 213.0L1573.4 214.0L1573.5 214.6L1573.6 215.5L1573.6 216.5L1573.5 217.5L1573.4 218.0L1573.2 219.0L1572.9 219.5L1572.5 220.3L1572.0 221.0L1571.5 221.5L1571.0 222.0L1570.5 222.4L1570.0 222.7L1569.5 223.0L1568.6 223.5L1568.0 223.8L1567.4 224.0L1566.5 224.3L1565.8 224.5L1565.0 224.7L1564.0 224.9L1563.2 225.0L1562.5 225.1L1561.5 225.2L1560.5 225.2L1559.5 225.3L1558.5 225.3L1557.5 225.3L1556.5 225.3L1555.5 225.2L1554.5 225.2L1553.5 225.1L1553.0 225.0L1552.0 224.8L1551.0 224.6L1550.5 224.4L1549.5 224.1L1549.0 223.8L1548.4 223.5L1547.6 223.0L1547.0 222.5L1546.5 222.1L1546.0 221.5L1545.6 221.0L1545.3 220.5L1545.0 219.9L1544.6 219.0L1544.5 218.5L1544.3 217.5L1544.2 216.5L1544.1 215.5L1544.1 214.5L1544.2 213.5L1544.4 212.5L1544.6 212.0L1545.0 211.3L1545.5 210.6L1546.0 210.0L1546.5 209.6L1547.0 209.3L1547.5 209.0L1548.4 208.5L1549.0 208.3L1549.8 208.0L1550.5 207.8L1551.5 207.6L1552.1 207.5ZM1622.6 214.5L1623.5 214.4L1624.5 214.3L1625.5 214.3L1626.5 214.2L1627.5 214.2L1628.5 214.2L1629.5 214.2L1630.5 214.2L1631.5 214.2L1632.5 214.2L1633.5 214.2L1634.5 214.3L1635.5 214.4L1636.0 214.5L1637.0 214.8L1637.7 215.0L1638.5 215.3L1639.0 215.6L1639.8 216.0L1640.4 216.5L1641.0 217.0L1641.4 217.5L1641.8 218.0L1642.1 218.5L1642.5 219.4L1642.7 220.0L1642.9 221.0L1643.0 221.5L1643.1 222.5L1643.1 223.5L1643.1 224.5L1643.0 225.5L1643.0 226.0L1642.8 227.0L1642.6 228.0L1642.5 228.5L1642.1 229.5L1641.8 230.0L1641.5 230.5L1641.0 231.1L1640.5 231.7L1640.0 232.1L1639.5 232.5L1638.7 233.0L1638.0 233.4L1637.5 233.6L1636.5 233.9L1636.0 234.0L1635.0 234.2L1634.0 234.4L1633.0 234.4L1632.0 234.5L1631.0 234.5L1630.0 234.5L1629.0 234.5L1628.0 234.5L1627.0 234.4L1626.0 234.4L1625.0 234.3L1624.0 234.2L1623.0 234.1L1622.0 234.0L1621.5 233.9L1620.5 233.7L1619.5 233.5L1619.0 233.4L1618.0 233.1L1617.5 233.0L1616.5 232.6L1616.0 232.4L1615.1 232.0L1614.5 231.7L1614.0 231.4L1613.4 231.0L1612.8 230.5L1612.2 230.0L1611.8 229.5L1611.4 229.0L1611.0 228.5L1610.5 227.5L1610.3 227.0L1610.0 226.0L1609.9 225.5L1609.8 224.5L1609.8 223.5L1609.8 222.5L1609.9 221.5L1610.1 221.0L1610.5 220.0L1610.7 219.5L1611.1 219.0L1611.5 218.5L1612.1 218.0L1612.7 217.5L1613.5 217.0L1614.0 216.8L1614.5 216.5L1615.5 216.1L1616.0 215.9L1617.0 215.6L1617.5 215.4L1618.5 215.2L1619.3 215.0L1620.0 214.9L1621.0 214.7L1622.0 214.6L1622.6 214.5ZM1552.2 209.5L1553.0 209.4L1554.0 209.2L1555.0 209.1L1556.0 209.1L1557.0 209.1L1558.0 209.1L1559.0 209.1L1560.0 209.1L1561.0 209.2L1562.0 209.3L1563.0 209.5L1563.5 209.6L1564.5 209.8L1565.1 210.0L1566.0 210.3L1566.5 210.6L1567.2 211.0L1567.9 211.5L1568.4 212.0L1568.8 212.5L1569.1 213.0L1569.4 214.0L1569.5 214.5L1569.6 215.5L1569.6 216.5L1569.5 217.0L1569.3 218.0L1569.0 218.6L1568.5 219.4L1568.0 220.0L1567.5 220.5L1567.0 220.8L1566.5 221.1L1565.8 221.5L1565.0 221.9L1564.5 222.0L1563.5 222.3L1562.7 222.5L1562.0 222.6L1561.0 222.7L1560.0 222.8L1559.0 222.8L1558.0 222.8L1557.0 222.8L1556.0 222.8L1555.0 222.7L1554.0 222.6L1553.3 222.5L1552.5 222.3L1551.6 222.0L1551.0 221.7L1550.5 221.5L1549.8 221.0L1549.2 220.5L1548.7 220.0L1548.3 219.5L1548.0 219.0L1547.6 218.0L1547.5 217.5L1547.3 216.5L1547.2 215.5L1547.2 214.5L1547.4 213.5L1547.5 213.0L1548.0 212.0L1548.4 211.5L1548.9 211.0L1549.5 210.6L1550.0 210.3L1550.6 210.0L1551.5 209.7L1552.2 209.5ZM1625.7 216.5L1626.5 216.4L1627.5 216.4L1628.5 216.4L1629.5 216.4L1630.5 216.4L1631.5 216.4L1632.5 216.4L1633.5 216.4L1634.0 216.5L1635.0 216.7L1636.0 216.9L1636.5 217.1L1637.3 217.5L1638.0 218.0L1638.5 218.4L1639.0 218.9L1639.4 219.5L1639.7 220.0L1640.0 220.9L1640.1 221.5L1640.2 222.5L1640.3 223.5L1640.2 224.5L1640.2 225.5L1640.0 226.5L1639.9 227.0L1639.5 228.0L1639.2 228.5L1638.9 229.0L1638.5 229.5L1638.0 230.0L1637.4 230.5L1636.5 231.0L1636.0 231.2L1635.1 231.5L1634.5 231.6L1633.5 231.8L1632.5 231.9L1631.5 231.9L1630.5 231.9L1629.5 231.9L1628.5 231.9L1627.5 231.9L1626.5 231.8L1625.5 231.7L1624.5 231.6L1623.8 231.5L1623.0 231.4L1622.0 231.1L1621.5 231.0L1620.5 230.7L1619.9 230.5L1619.0 230.1L1618.5 229.8L1617.9 229.5L1617.2 229.0L1616.7 228.5L1616.2 228.0L1615.9 227.5L1615.5 226.9L1615.2 226.0L1615.0 225.2L1614.9 224.5L1614.9 223.5L1614.9 222.5L1615.0 222.0L1615.3 221.0L1615.6 220.5L1616.0 219.9L1616.5 219.4L1617.0 219.0L1617.7 218.5L1618.5 218.1L1619.0 217.9L1620.0 217.5L1620.5 217.4L1621.5 217.1L1622.0 217.0L1623.0 216.8L1624.0 216.7L1625.0 216.6L1625.7 216.5Z" fill="none" stroke="#454545" stroke-width="0.9"/>
<path d="M1586.5 414.3v3.5M1482.3 308.2h-4.5M1598.2 414.3v3.5M1482.3 296.4h-4.5M1606.5 414.3v3.5M1482.3 288.1h-4.5M1618.2 414.3v3.5M1482.3 276.4h-4.5M1622.7 414.3v3.5M1482.3 271.9h-4.5M1626.6 414.3v3.5M1482.3 268.1h-4.5M1630.0 414.3v3.5M1482.3 264.6h-4.5M1650.0 414.3v3.5M1482.3 244.6h-4.5M1659.9 414.3v3.5M1482.3 234.6h-4.5M1667.0 414.3v3.5M1482.3 227.6h-4.5M1676.9 414.3v3.5M1482.3 217.6h-4.5M1680.7 414.3v3.5M1482.3 213.9h-4.5M1684.0 414.3v3.5M1482.3 210.6h-4.5M1686.8 414.3v3.5M1482.3 207.7h-4.5M1705.7 414.3v3.5M1482.3 188.8h-4.5M1715.3 414.3v3.5M1482.3 179.2h-4.5M1722.1 414.3v3.5M1482.3 172.4h-4.5M1731.6 414.3v3.5M1482.3 162.8h-4.5M1735.2 414.3v3.5M1482.3 159.2h-4.5M1738.4 414.3v3.5M1482.3 156.1h-4.5M1741.2 414.3v3.5M1482.3 153.3h-4.5M1759.3 414.3v3.5M1482.3 135.1h-4.5M1768.4 414.3v3.5M1482.3 126.0h-4.5M1774.9 414.3v3.5M1482.3 119.5h-4.5M1501.3 414.3v3.5M1482.3 393.4h-4.5M1489.6 414.3v3.5M1482.3 405.2h-4.5M1482.3 413.5h-4.5M1523.6 414.3v3.5M1482.3 371.1h-4.5M1525.9 414.3v3.5M1482.3 368.9h-4.5M1528.1 414.3v3.5M1482.3 366.6h-4.5M1530.4 414.3v3.5M1482.3 364.4h-4.5M1532.6 414.3v3.5M1482.3 362.1h-4.5M1534.9 414.3v3.5M1482.3 359.8h-4.5M1537.1 414.3v3.5M1482.3 357.6h-4.5M1539.4 414.3v3.5M1482.3 355.3h-4.5M1541.7 414.3v3.5M1482.3 353.1h-4.5M1546.2 414.3v3.5M1482.3 348.5h-4.5M1548.4 414.3v3.5M1482.3 346.3h-4.5M1550.7 414.3v3.5M1482.3 344.0h-4.5M1552.9 414.3v3.5M1482.3 341.8h-4.5M1555.2 414.3v3.5M1482.3 339.5h-4.5M1557.5 414.3v3.5M1482.3 337.2h-4.5M1559.7 414.3v3.5M1482.3 335.0h-4.5M1562.0 414.3v3.5M1482.3 332.7h-4.5M1564.2 414.3v3.5M1482.3 330.5h-4.5" fill="none" stroke="#222" stroke-width="0.9"/>
<path d="M1613.0 414.3v4.5M1482.3 281.6h-6M1672.4 414.3v4.5M1482.3 222.1h-6M1727.3 414.3v4.5M1482.3 167.1h-6" fill="none" stroke="#111" stroke-width="1.1"/>
<path d="M1566.5 414.3v6.5M1482.3 328.2h-8.5M1633.0 414.3v6.5M1482.3 261.6h-8.5M1689.4 414.3v6.5M1482.3 205.1h-8.5M1743.6 414.3v6.5M1482.3 150.8h-8.5M1521.3 414.3v6.5M1482.3 373.4h-8.5" fill="none" stroke="#000" stroke-width="1.9"/>
<rect x="1540.72" y="414.3" width="6.4" height="6.5" fill="#000"/>
<rect x="1473.8" y="347.6" width="8.5" height="6.4" fill="#000"/>
<rect x="1482.3" y="118.3" width="295.1" height="296" fill="none" stroke="#222" stroke-width="1.3"/>
<line x1="1589" y1="118.3" x2="1589" y2="414.3" stroke="#000" stroke-width="2"/>
<line x1="1473.8" y1="260.7" x2="1777.4" y2="260.7" stroke="#000" stroke-width="2"/>
<text font-size="23" x="1489.55" y="140.9"><tspan textLength="18.96" lengthAdjust="spacingAndGlyphs">Q</tspan><tspan textLength="8.44" lengthAdjust="spacingAndGlyphs" stroke="#000" stroke-width="0.48">1</tspan></text>
<text font-size="23" x="1489.77" y="165.3" textLength="47.45" lengthAdjust="spacingAndGlyphs">39.5</text>
<text font-size="23" x="1740.1" y="140.9" textLength="32.52" lengthAdjust="spacingAndGlyphs">Q2</text>
<text font-size="23" x="1722.62" y="165.3"><tspan textLength="13.56" lengthAdjust="spacingAndGlyphs">6</tspan><tspan textLength="15.61" lengthAdjust="spacingAndGlyphs">0</tspan><tspan textLength="20.33" lengthAdjust="spacingAndGlyphs">.4</tspan></text>
<text font-size="23" x="1489.55" y="383.7" textLength="32.52" lengthAdjust="spacingAndGlyphs">Q4</text>
<text font-size="23" x="1489.6" y="407.9"><tspan textLength="15.61" lengthAdjust="spacingAndGlyphs">0</tspan><tspan textLength="6.77" lengthAdjust="spacingAndGlyphs">.</tspan><tspan textLength="15.61" lengthAdjust="spacingAndGlyphs">0</tspan><tspan textLength="27.12" lengthAdjust="spacingAndGlyphs">32</tspan></text>
<text font-size="23" x="1739.95" y="383.7" textLength="32.52" lengthAdjust="spacingAndGlyphs">Q3</text>
<text font-size="23" x="1707.32" y="407.9"><tspan textLength="15.61" lengthAdjust="spacingAndGlyphs">0</tspan><tspan textLength="6.77" lengthAdjust="spacingAndGlyphs">.</tspan><tspan textLength="15.61" lengthAdjust="spacingAndGlyphs">0</tspan><tspan textLength="27.12" lengthAdjust="spacingAndGlyphs">95</tspan></text>
<text font-size="23" x="1538.11" y="457.5" textLength="15.61" lengthAdjust="spacingAndGlyphs">0</text>
<text font-size="23" x="1615.45" y="457.5"><tspan textLength="8.52" lengthAdjust="spacingAndGlyphs" stroke="#000" stroke-width="0.48">1</tspan><tspan textLength="15.75" lengthAdjust="spacingAndGlyphs">0</tspan></text>
<text font-size="15" x="1640.96" y="447.5" textLength="8.61" lengthAdjust="spacingAndGlyphs">4</text>
<text font-size="23" x="1673.37" y="457.5"><tspan textLength="8.52" lengthAdjust="spacingAndGlyphs" stroke="#000" stroke-width="0.48">1</tspan><tspan textLength="15.75" lengthAdjust="spacingAndGlyphs">0</tspan></text>
<text font-size="15" x="1698.58" y="447.5" textLength="9.15" lengthAdjust="spacingAndGlyphs">5</text>
<text font-size="23" x="1725.3" y="457.5"><tspan textLength="8.52" lengthAdjust="spacingAndGlyphs" stroke="#000" stroke-width="0.48">1</tspan><tspan textLength="15.75" lengthAdjust="spacingAndGlyphs">0</tspan></text>
<text font-size="15" x="1750.31" y="447.5" textLength="9.4" lengthAdjust="spacingAndGlyphs">6</text>
<text font-size="27.6" x="1539.87" y="503.25"><tspan textLength="154" lengthAdjust="spacingAndGlyphs">CCR7 (BV42</tspan><tspan textLength="10.13" lengthAdjust="spacingAndGlyphs" stroke="#000" stroke-width="0.58">1</tspan><tspan textLength="8.87" lengthAdjust="spacingAndGlyphs">)</tspan></text>
<text font-size="27.6" x="1900.21" y="106.8" fill="#c26fe0" textLength="111.88" lengthAdjust="spacingAndGlyphs">DM-2OG</text>
<path d="M1825 203h1M1825 246h1M1826 200h1M1827 190h1M1827 204h1M1827 205h1M1828 199h1M1828 203h1M1828 205h1M1828 206h1M1828 214h1M1828 224h1M1829 199h1M1829 216h1M1830 202h1M1830 221h1M1830 222h1M1831 191h1M1831 202h1M1831 205h1M1831 215h1M1831 230h1M1832 202h1M1832 214h1M1833 213h1M1833 214h1M1833 226h1M1833 229h1M1834 212h1M1834 216h1M1834 217h1M1834 221h1M1834 231h1M1835 201h1M1835 207h1M1835 215h1M1835 222h1M1835 241h1M1835 242h1M1836 186h1M1836 201h1M1836 202h1M1836 212h1M1836 217h1M1836 218h1M1836 223h1M1837 208h1M1837 209h1M1837 214h1M1837 217h1M1837 219h1M1837 223h1M1837 228h1M1837 234h1M1838 194h1M1838 199h1M1838 206h1M1838 207h1M1838 212h1M1838 214h1M1838 217h1M1838 228h1M1839 220h1M1839 221h1M1839 223h1M1839 225h1M1840 187h1M1840 197h1M1840 205h1M1840 209h1M1840 211h1M1840 215h1M1840 221h1M1840 222h1M1840 228h1M1840 243h1M1841 199h1M1841 200h1M1841 204h1M1841 206h1M1841 212h1M1841 214h1M1841 217h1M1841 220h1M1841 221h1M1841 228h1M1841 229h1M1841 240h1M1842 198h1M1842 204h1M1842 205h1M1842 206h1M1842 207h1M1842 210h1M1842 211h1M1842 212h1M1842 215h1M1842 216h1M1842 219h1M1842 226h1M1843 201h1M1843 209h1M1843 210h1M1843 216h1M1843 219h1M1843 220h1M1843 225h1M1843 231h1M1843 234h1M1844 193h1M1844 194h1M1844 199h1M1844 201h1M1844 205h1M1844 207h1M1844 210h1M1844 214h1M1844 215h1M1844 216h1M1844 217h1M1844 218h1M1844 220h1M1844 223h1M1844 224h1M1844 228h1M1844 230h1M1845 191h1M1845 196h1M1845 201h1M1845 204h1M1845 205h1M1845 210h1M1845 213h1M1845 214h1M1845 215h1M1845 217h1M1845 218h1M1845 219h1M1845 220h1M1845 221h1M1845 222h1M1845 223h1M1845 225h1M1845 228h1M1846 198h1M1846 203h1M1846 204h1M1846 205h1M1846 206h1M1846 208h1M1846 213h1M1846 215h1M1846 216h1M1846 217h1M1846 218h1M1846 220h1M1846 222h1M1846 224h1M1846 242h1M1847 196h1M1847 197h1M1847 200h1M1847 202h1M1847 208h1M1847 209h1M1847 211h1M1847 214h1M1847 215h1M1847 216h1M1847 217h1M1847 219h1M1847 220h1M1847 221h1M1847 222h1M1847 227h1M1847 229h1M1848 190h1M1848 194h1M1848 199h1M1848 200h1M1848 203h1M1848 204h1M1848 205h1M1848 207h1M1848 208h1M1848 218h1M1848 219h1M1848 220h1M1848 222h1M1848 223h1M1848 224h1M1848 230h1M1848 233h1M1849 201h1M1849 204h1M1849 220h1M1849 221h1M1849 223h1M1849 225h1M1849 233h1M1850 189h1M1850 193h1M1850 196h1M1850 199h1M1850 200h1M1850 201h1M1850 202h1M1850 203h1M1850 204h1M1850 222h1M1850 227h1M1850 228h1M1850 229h1M1850 232h1M1851 197h1M1851 198h1M1851 201h1M1851 202h1M1851 227h1M1851 230h1M1851 239h1M1852 191h1M1852 192h1M1852 200h1M1852 202h1M1852 225h1M1852 226h1M1852 227h1M1852 228h1M1852 229h1M1852 239h1M1853 192h1M1853 196h1M1853 199h1M1853 201h1M1853 225h1M1853 227h1M1853 230h1M1853 233h1M1853 234h1M1854 196h1M1854 198h1M1854 201h1M1854 226h1M1854 227h1M1854 229h1M1854 230h1M1854 231h1M1854 232h1M1854 235h1M1855 200h1M1855 227h1M1855 229h1M1855 232h1M1855 239h1M1856 197h1M1856 199h1M1856 200h1M1856 227h1M1856 228h1M1856 229h1M1856 231h1M1856 232h1M1857 191h1M1857 192h1M1857 194h1M1857 196h1M1857 198h1M1857 199h1M1857 228h1M1857 232h1M1857 234h1M1857 237h1M1857 239h1M1858 192h1M1858 195h1M1858 196h1M1858 197h1M1858 198h1M1858 231h1M1858 232h1M1858 235h1M1859 191h1M1859 194h1M1859 196h1M1859 199h1M1859 229h1M1859 230h1M1859 231h1M1859 235h1M1859 238h1M1860 191h1M1860 192h1M1860 193h1M1860 198h1M1860 199h1M1860 229h1M1860 230h1M1860 231h1M1860 232h1M1860 233h1M1860 234h1M1860 238h1M1860 240h1M1861 192h1M1861 193h1M1861 194h1M1861 196h1M1861 198h1M1861 199h1M1861 229h1M1861 231h1M1861 235h1M1861 236h1M1861 237h1M1862 185h1M1862 193h1M1862 194h1M1862 195h1M1862 196h1M1862 198h1M1862 230h1M1862 233h1M1862 239h1M1863 191h1M1863 197h1M1863 198h1M1863 230h1M1863 231h1M1863 232h1M1863 233h1M1864 194h1M1864 196h1M1864 230h1M1864 231h1M1864 232h1M1864 235h1M1865 194h1M1865 197h1M1865 230h1M1865 231h1M1865 232h1M1865 233h1M1865 234h1M1865 236h1M1866 188h1M1866 195h1M1866 196h1M1866 197h1M1867 198h1M1867 230h1M1867 231h1M1867 232h1M1867 233h1M1867 235h1M1867 239h1M1867 248h1M1868 181h1M1868 187h1M1868 190h1M1868 194h1M1868 196h1M1868 231h1M1868 232h1M1868 233h1M1868 234h1M1868 236h1M1868 242h1M1869 191h1M1869 192h1M1869 195h1M1869 196h1M1869 231h1M1869 232h1M1869 234h1M1869 235h1M1869 237h1M1869 238h1M1870 191h1M1870 193h1M1870 196h1M1870 231h1M1870 233h1M1870 237h1M1870 239h1M1870 240h1M1870 242h1M1871 193h1M1871 195h1M1871 196h1M1871 232h1M1871 238h1M1871 241h1M1871 242h1M1872 195h1M1872 231h1M1872 235h1M1872 236h1M1872 238h1M1872 251h1M1873 187h1M1873 190h1M1873 191h1M1873 193h1M1873 197h1M1873 232h1M1873 241h1M1874 192h1M1874 193h1M1874 194h1M1874 197h1M1874 231h1M1874 232h1M1874 233h1M1874 242h1M1875 194h1M1875 231h1M1875 234h1M1876 189h1M1876 194h1M1876 195h1M1876 196h1M1876 197h1M1876 231h1M1876 232h1M1877 189h1M1877 190h1M1877 195h1M1877 196h1M1877 197h1M1877 233h1M1877 238h1M1877 242h1M1877 247h1M1878 183h1M1878 191h1M1878 195h1M1878 196h1M1878 231h1M1878 232h1M1878 233h1M1878 241h1M1878 242h1M1879 191h1M1879 192h1M1879 195h1M1879 197h1M1879 232h1M1879 233h1M1879 235h1M1879 236h1M1879 237h1M1879 239h1M1880 191h1M1880 194h1M1880 231h1M1880 232h1M1880 233h1M1880 235h1M1881 187h1M1881 194h1M1881 195h1M1881 196h1M1881 197h1M1881 231h1M1881 232h1M1881 237h1M1881 238h1M1882 186h1M1882 192h1M1882 197h1M1883 194h1M1883 196h1M1883 197h1M1883 231h1M1883 233h1M1883 235h1M1883 237h1M1883 244h1M1883 247h1M1884 191h1M1884 194h1M1884 231h1M1884 232h1M1884 235h1M1884 239h1M1884 254h1M1885 192h1M1885 194h1M1885 233h1M1885 234h1M1886 195h1M1886 196h1M1886 231h1M1886 238h1M1886 242h1M1886 244h1M1886 255h1M1887 181h1M1887 231h1M1887 236h1M1887 239h1M1888 197h1M1888 231h1M1888 239h1M1889 187h1M1889 196h1M1889 231h1M1889 232h1M1889 233h1M1889 235h1M1889 240h1M1890 231h1M1890 232h1M1890 233h1M1890 237h1M1891 190h1M1891 192h1M1891 193h1M1891 194h1M1891 196h1M1891 197h1M1891 198h1M1891 232h1M1891 233h1M1891 234h1M1891 235h1M1891 236h1M1891 241h1M1891 244h1M1892 193h1M1892 194h1M1892 197h1M1892 198h1M1892 230h1M1892 234h1M1892 235h1M1892 236h1M1893 189h1M1893 197h1M1893 230h1M1893 231h1M1893 236h1M1893 243h1M1893 250h1M1894 193h1M1894 195h1M1894 196h1M1894 197h1M1894 198h1M1894 230h1M1894 234h1M1895 191h1M1895 197h1M1895 198h1M1895 232h1M1895 244h1M1896 196h1M1896 197h1M1896 198h1M1896 230h1M1896 231h1M1896 233h1M1896 240h1M1897 188h1M1897 196h1M1897 197h1M1897 198h1M1897 231h1M1897 232h1M1897 233h1M1897 252h1M1898 196h1M1898 197h1M1898 232h1M1898 235h1M1898 238h1M1899 185h1M1899 196h1M1899 197h1M1899 199h1M1899 237h1M1900 180h1M1900 190h1M1900 193h1M1900 197h1M1900 198h1M1900 199h1M1900 229h1M1900 230h1M1900 234h1M1900 235h1M1900 240h1M1901 194h1M1901 195h1M1901 196h1M1901 198h1M1901 199h1M1901 229h1M1901 230h1M1901 231h1M1901 232h1M1901 234h1M1901 235h1M1901 238h1M1901 242h1M1901 245h1M1901 246h1M1902 180h1M1902 197h1M1902 199h1M1902 229h1M1902 230h1M1902 234h1M1902 237h1M1902 240h1M1902 242h1M1903 195h1M1903 196h1M1903 197h1M1903 199h1M1903 229h1M1903 230h1M1903 239h1M1903 242h1M1903 246h1M1904 193h1M1904 194h1M1904 195h1M1904 197h1M1904 198h1M1904 200h1M1904 229h1M1904 230h1M1904 231h1M1904 232h1M1904 233h1M1904 235h1M1904 237h1M1904 242h1M1905 194h1M1905 198h1M1905 199h1M1905 228h1M1905 229h1M1905 230h1M1905 232h1M1905 234h1M1905 235h1M1905 238h1M1905 243h1M1905 247h1M1905 250h1M1906 190h1M1906 197h1M1906 199h1M1906 201h1M1906 228h1M1906 229h1M1906 230h1M1906 232h1M1906 233h1M1906 241h1M1906 251h1M1907 199h1M1907 200h1M1907 201h1M1907 228h1M1907 235h1M1907 236h1M1907 237h1M1908 192h1M1908 195h1M1908 196h1M1908 197h1M1908 199h1M1908 201h1M1908 229h1M1908 231h1M1908 232h1M1909 189h1M1909 190h1M1909 196h1M1909 201h1M1909 202h1M1909 228h1M1909 229h1M1909 230h1M1909 232h1M1909 237h1M1910 195h1M1910 198h1M1910 202h1M1910 229h1M1910 230h1M1910 232h1M1910 233h1M1910 235h1M1910 236h1M1910 243h1M1911 186h1M1911 196h1M1911 200h1M1911 201h1M1911 228h1M1911 229h1M1911 230h1M1911 232h1M1911 233h1M1911 234h1M1911 237h1M1911 238h1M1911 243h1M1912 198h1M1912 199h1M1912 202h1M1912 203h1M1912 229h1M1912 230h1M1912 232h1M1912 233h1M1912 235h1M1912 239h1M1912 240h1M1913 195h1M1913 201h1M1913 202h1M1913 230h1M1913 231h1M1913 232h1M1913 233h1M1913 234h1M1913 235h1M1913 237h1M1913 239h1M1913 248h1M1914 191h1M1914 194h1M1914 196h1M1914 197h1M1914 200h1M1914 202h1M1914 203h1M1914 230h1M1914 232h1M1914 234h1M1914 237h1M1914 242h1M1915 181h1M1915 198h1M1915 199h1M1915 200h1M1915 202h1M1915 230h1M1915 231h1M1915 233h1M1915 235h1M1915 236h1M1915 237h1M1915 240h1M1915 246h1M1915 252h1M1915 254h1M1916 189h1M1916 199h1M1916 201h1M1916 202h1M1916 203h1M1916 231h1M1916 232h1M1916 234h1M1916 235h1M1916 238h1M1917 190h1M1917 193h1M1917 199h1M1917 200h1M1917 202h1M1917 203h1M1917 232h1M1917 233h1M1917 234h1M1917 251h1M1918 184h1M1918 196h1M1918 199h1M1918 201h1M1918 203h1M1918 231h1M1918 232h1M1918 234h1M1918 236h1M1918 238h1M1918 242h1M1918 246h1M1918 248h1M1918 249h1M1919 189h1M1919 195h1M1919 199h1M1919 201h1M1919 202h1M1919 203h1M1919 231h1M1919 235h1M1919 237h1M1919 238h1M1919 239h1M1920 196h1M1920 197h1M1920 198h1M1920 201h1M1920 203h1M1920 232h1M1920 233h1M1920 234h1M1920 235h1M1920 236h1M1920 240h1M1920 255h1M1921 192h1M1921 200h1M1921 202h1M1921 203h1M1921 234h1M1921 235h1M1921 236h1M1921 240h1M1921 248h1M1921 257h1M1922 180h1M1922 201h1M1922 203h1M1922 233h1M1922 236h1M1922 237h1M1922 238h1M1922 239h1M1922 240h1M1922 242h1M1922 245h1M1922 248h1M1922 255h1M1923 196h1M1923 199h1M1923 200h1M1923 202h1M1923 234h1M1923 237h1M1923 239h1M1923 240h1M1923 244h1M1923 245h1M1923 246h1M1924 187h1M1924 199h1M1924 201h1M1924 202h1M1924 235h1M1924 237h1M1924 238h1M1924 242h1M1924 247h1M1925 189h1M1925 192h1M1925 196h1M1925 197h1M1925 201h1M1925 202h1M1925 236h1M1925 237h1M1925 239h1M1925 240h1M1925 241h1M1925 248h1M1925 249h1M1926 195h1M1926 196h1M1926 197h1M1926 198h1M1926 200h1M1926 201h1M1926 236h1M1926 238h1M1926 240h1M1926 241h1M1926 242h1M1926 250h1M1927 192h1M1927 199h1M1927 200h1M1927 201h1M1927 236h1M1927 237h1M1927 238h1M1927 239h1M1927 241h1M1927 242h1M1927 243h1M1927 244h1M1927 245h1M1928 190h1M1928 194h1M1928 201h1M1928 236h1M1928 238h1M1928 240h1M1929 194h1M1929 198h1M1929 200h1M1929 201h1M1929 202h1M1929 236h1M1929 238h1M1929 240h1M1929 241h1M1930 195h1M1930 201h1M1930 202h1M1930 236h1M1930 237h1M1930 240h1M1930 243h1M1930 245h1M1931 188h1M1931 193h1M1931 201h1M1931 237h1M1931 240h1M1931 243h1M1931 245h1M1932 190h1M1932 191h1M1932 194h1M1932 196h1M1932 198h1M1932 201h1M1932 237h1M1932 238h1M1932 239h1M1932 243h1M1932 248h1M1933 192h1M1933 196h1M1933 197h1M1933 198h1M1933 199h1M1933 241h1M1933 242h1M1933 243h1M1933 244h1M1933 246h1M1934 195h1M1934 196h1M1934 200h1M1934 201h1M1934 244h1M1934 255h1M1934 256h1M1935 183h1M1935 191h1M1935 197h1M1935 200h1M1935 238h1M1935 239h1M1935 240h1M1935 242h1M1935 243h1M1936 198h1M1936 238h1M1936 240h1M1936 251h1M1937 187h1M1937 238h1M1937 241h1M1937 242h1M1937 248h1M1937 249h1M1938 187h1M1938 189h1M1938 197h1M1938 199h1M1938 200h1M1938 238h1M1938 240h1M1938 241h1M1938 243h1M1938 247h1M1938 248h1M1939 194h1M1939 195h1M1939 196h1M1939 197h1M1939 199h1M1939 200h1M1939 239h1M1939 240h1M1939 243h1M1939 248h1M1940 193h1M1940 194h1M1940 198h1M1940 199h1M1940 239h1M1940 240h1M1940 242h1M1940 243h1M1940 247h1M1941 192h1M1941 193h1M1941 198h1M1941 199h1M1941 200h1M1941 239h1M1941 240h1M1941 241h1M1941 244h1M1941 253h1M1942 193h1M1942 197h1M1942 239h1M1942 240h1M1942 241h1M1942 252h1M1942 257h1M1943 191h1M1943 193h1M1943 195h1M1943 196h1M1943 197h1M1943 198h1M1943 199h1M1943 200h1M1943 239h1M1943 241h1M1943 244h1M1943 246h1M1943 253h1M1944 190h1M1944 193h1M1944 194h1M1944 196h1M1944 199h1M1944 240h1M1944 241h1M1944 242h1M1944 243h1M1944 244h1M1944 245h1M1944 250h1M1945 185h1M1945 195h1M1945 198h1M1945 239h1M1945 241h1M1945 245h1M1945 246h1M1946 185h1M1946 240h1M1946 244h1M1946 249h1M1946 251h1M1947 193h1M1947 198h1M1947 240h1M1947 241h1M1947 242h1M1947 249h1M1948 195h1M1948 197h1M1948 198h1M1948 240h1M1948 242h1M1948 244h1M1948 253h1M1949 194h1M1949 195h1M1949 198h1M1949 199h1M1949 241h1M1949 243h1M1950 189h1M1950 195h1M1950 197h1M1950 198h1M1950 199h1M1950 240h1M1950 241h1M1950 242h1M1950 245h1M1951 197h1M1951 199h1M1951 240h1M1951 241h1M1951 242h1M1951 243h1M1951 245h1M1951 248h1M1951 250h1M1951 256h1M1952 192h1M1952 193h1M1952 195h1M1952 198h1M1952 199h1M1952 240h1M1952 241h1M1952 244h1M1952 245h1M1952 255h1M1953 196h1M1953 197h1M1953 198h1M1953 199h1M1953 240h1M1953 241h1M1953 242h1M1953 243h1M1953 254h1M1954 190h1M1954 195h1M1954 198h1M1954 199h1M1954 240h1M1954 241h1M1954 242h1M1954 251h1M1955 196h1M1955 197h1M1955 198h1M1955 199h1M1955 240h1M1955 241h1M1955 242h1M1955 244h1M1956 198h1M1956 199h1M1956 240h1M1956 241h1M1956 242h1M1956 253h1M1957 185h1M1957 195h1M1957 197h1M1957 199h1M1957 240h1M1957 242h1M1957 246h1M1958 192h1M1958 197h1M1958 198h1M1958 199h1M1958 239h1M1958 240h1M1958 241h1M1958 242h1M1958 244h1M1959 192h1M1959 196h1M1959 240h1M1959 241h1M1959 244h1M1959 252h1M1960 195h1M1960 198h1M1960 199h1M1960 240h1M1960 243h1M1960 247h1M1961 195h1M1961 198h1M1961 199h1M1961 240h1M1961 241h1M1961 242h1M1961 243h1M1961 244h1M1962 190h1M1962 193h1M1962 197h1M1962 198h1M1962 199h1M1962 240h1M1962 244h1M1962 245h1M1962 247h1M1963 196h1M1963 197h1M1963 198h1M1963 199h1M1963 239h1M1963 240h1M1963 242h1M1963 243h1M1963 244h1M1963 248h1M1964 198h1M1964 199h1M1964 241h1M1964 244h1M1964 246h1M1964 247h1M1965 187h1M1965 199h1M1965 239h1M1965 242h1M1965 249h1M1966 196h1M1966 239h1M1966 240h1M1966 242h1M1966 245h1M1966 250h1M1967 194h1M1967 197h1M1967 199h1M1967 239h1M1967 240h1M1967 241h1M1967 242h1M1967 243h1M1967 247h1M1967 248h1M1968 197h1M1968 198h1M1968 199h1M1968 239h1M1968 241h1M1968 243h1M1968 246h1M1969 192h1M1969 196h1M1969 197h1M1969 198h1M1969 199h1M1969 243h1M1970 196h1M1970 198h1M1970 199h1M1970 240h1M1970 241h1M1970 242h1M1970 243h1M1970 249h1M1971 196h1M1971 200h1M1971 240h1M1971 241h1M1971 245h1M1971 247h1M1971 248h1M1971 249h1M1971 253h1M1972 198h1M1972 200h1M1972 238h1M1972 239h1M1972 242h1M1972 254h1M1973 199h1M1973 200h1M1973 201h1M1973 237h1M1973 238h1M1973 242h1M1974 194h1M1974 195h1M1974 200h1M1974 201h1M1974 237h1M1974 239h1M1974 240h1M1974 248h1M1974 254h1M1975 196h1M1975 199h1M1975 202h1M1975 237h1M1975 239h1M1975 240h1M1975 242h1M1975 246h1M1975 247h1M1975 248h1M1975 253h1M1975 254h1M1976 197h1M1976 200h1M1976 236h1M1976 237h1M1976 238h1M1976 240h1M1976 243h1M1977 194h1M1977 199h1M1977 202h1M1977 240h1M1977 254h1M1978 189h1M1978 190h1M1978 193h1M1978 195h1M1978 196h1M1978 197h1M1978 198h1M1978 199h1M1978 200h1M1978 202h1M1978 234h1M1978 236h1M1978 238h1M1978 241h1M1979 200h1M1979 201h1M1979 202h1M1979 204h1M1979 205h1M1979 234h1M1979 236h1M1979 240h1M1979 243h1M1980 194h1M1980 202h1M1980 203h1M1980 205h1M1980 234h1M1980 236h1M1980 237h1M1980 239h1M1980 241h1M1980 246h1M1980 248h1M1981 193h1M1981 195h1M1981 200h1M1981 203h1M1981 204h1M1981 205h1M1981 207h1M1981 230h1M1981 231h1M1981 232h1M1981 235h1M1981 239h1M1982 188h1M1982 190h1M1982 194h1M1982 203h1M1982 208h1M1982 209h1M1982 229h1M1982 231h1M1982 233h1M1982 236h1M1982 240h1M1982 245h1M1983 201h1M1983 204h1M1983 206h1M1983 207h1M1983 211h1M1983 224h1M1983 225h1M1983 226h1M1983 228h1M1983 229h1M1983 230h1M1983 231h1M1983 233h1M1983 234h1M1983 236h1M1983 237h1M1983 246h1M1983 249h1M1983 254h1M1984 200h1M1984 201h1M1984 203h1M1984 204h1M1984 207h1M1984 209h1M1984 211h1M1984 212h1M1984 213h1M1984 214h1M1984 216h1M1984 217h1M1984 218h1M1984 219h1M1984 220h1M1984 221h1M1984 223h1M1984 224h1M1984 226h1M1984 229h1M1984 230h1M1984 233h1M1984 234h1M1984 237h1M1984 242h1M1985 204h1M1985 205h1M1985 208h1M1985 209h1M1985 211h1M1985 213h1M1985 217h1M1985 218h1M1985 219h1M1985 221h1M1985 222h1M1985 223h1M1985 225h1M1985 226h1M1985 227h1M1985 229h1M1985 230h1M1985 231h1M1985 234h1M1985 236h1M1986 197h1M1986 204h1M1986 207h1M1986 209h1M1986 213h1M1986 214h1M1986 222h1M1986 223h1M1986 224h1M1986 225h1M1986 227h1M1986 228h1M1986 229h1M1986 231h1M1986 232h1M1986 233h1M1986 242h1M1987 196h1M1987 199h1M1987 205h1M1987 216h1M1987 217h1M1987 218h1M1987 219h1M1987 224h1M1987 226h1M1987 228h1M1987 229h1M1987 232h1M1987 233h1M1987 237h1M1988 206h1M1988 208h1M1988 210h1M1988 213h1M1988 214h1M1988 216h1M1988 217h1M1988 220h1M1988 225h1M1988 235h1M1988 240h1M1988 241h1M1988 242h1M1989 204h1M1989 207h1M1989 215h1M1989 216h1M1989 222h1M1989 223h1M1989 234h1M1989 240h1M1989 241h1M1990 210h1M1990 211h1M1990 212h1M1990 214h1M1990 218h1M1990 222h1M1990 225h1M1990 227h1M1990 244h1M1990 255h1M1991 209h1M1991 213h1M1991 217h1M1991 226h1M1991 230h1M1991 232h1M1991 241h1M1992 189h1M1992 202h1M1992 213h1M1992 214h1M1992 221h1M1992 224h1M1992 229h1M1992 230h1M1992 234h1M1992 238h1M1993 191h1M1993 222h1M1993 223h1M1993 228h1M1993 236h1M1993 239h1M1994 201h1M1994 216h1M1994 219h1M1994 229h1M1994 230h1M1994 232h1M1994 240h1M1995 198h1M1995 209h1M1995 228h1M1995 246h1M1996 207h1M1996 212h1M1996 216h1M1996 226h1M1996 228h1M1996 231h1M1997 197h1M1997 211h1M1997 224h1M1997 236h1M1997 252h1M1998 215h1M1998 220h1M1999 200h1M1999 211h1M1999 215h1M1999 219h1M2000 211h1M2000 214h1M2000 232h1M2001 223h1M2001 227h1M2001 236h1M2002 201h1M2003 207h1M2003 215h1M2003 240h1M2004 225h1M2006 207h1M2006 220h1M2006 222h1M2010 214h1M2010 243h1M1948 264h1M2000 262h1M1957 274h1M2009 218h1" fill="none" stroke="#000" stroke-width="1" shape-rendering="crispEdges"/>
<path d="M1868.6 197.5L1869.5 197.4L1870.5 197.4L1871.5 197.3L1872.5 197.3L1873.5 197.3L1874.5 197.3L1875.5 197.2L1876.5 197.2L1877.5 197.2L1878.5 197.2L1879.5 197.2L1880.5 197.3L1881.5 197.3L1882.5 197.3L1883.5 197.3L1884.5 197.4L1885.5 197.4L1886.5 197.5L1887.2 197.5L1888.0 197.5L1889.0 197.6L1890.0 197.7L1891.0 197.8L1892.0 197.9L1892.7 198.0L1893.5 198.1L1894.5 198.2L1895.5 198.4L1896.1 198.5L1897.0 198.7L1898.0 198.9L1898.7 199.0L1899.5 199.2L1900.5 199.4L1901.0 199.5L1902.0 199.8L1902.8 200.0L1903.5 200.2L1904.5 200.5L1905.0 200.6L1906.0 201.0L1906.5 201.1L1907.5 201.4L1908.0 201.6L1909.0 201.9L1909.5 202.1L1910.5 202.4L1911.0 202.6L1912.0 202.9L1912.6 203.0L1913.5 203.2L1914.5 203.4L1915.1 203.5L1916.0 203.6L1917.0 203.7L1918.0 203.7L1919.0 203.6L1920.0 203.5L1920.5 203.5L1921.5 203.3L1922.5 203.2L1923.5 203.0L1924.0 202.9L1925.0 202.7L1926.0 202.5L1926.5 202.4L1927.5 202.2L1928.4 202.0L1929.0 201.9L1930.0 201.7L1930.9 201.5L1931.5 201.4L1932.5 201.2L1933.5 201.0L1934.0 200.9L1935.0 200.8L1936.0 200.6L1937.0 200.5L1937.5 200.4L1938.5 200.3L1939.5 200.2L1940.5 200.1L1941.5 200.0L1942.0 200.0L1943.0 199.9L1944.0 199.8L1945.0 199.7L1946.0 199.7L1947.0 199.6L1948.0 199.6L1949.0 199.5L1950.0 199.5L1950.5 199.5L1951.5 199.5L1952.5 199.4L1953.5 199.4L1954.5 199.4L1955.5 199.4L1956.5 199.4L1957.5 199.4L1958.5 199.4L1959.5 199.4L1960.5 199.4L1961.5 199.4L1962.5 199.4L1963.5 199.5L1964.0 199.5L1965.0 199.6L1966.0 199.7L1967.0 199.8L1968.0 199.9L1968.6 200.0L1969.5 200.2L1970.5 200.4L1971.0 200.5L1972.0 200.8L1972.7 201.0L1973.5 201.3L1974.1 201.5L1975.0 201.9L1975.5 202.1L1976.2 202.5L1977.0 202.9L1977.5 203.3L1978.0 203.6L1978.5 204.0L1979.1 204.5L1979.6 205.0L1980.1 205.5L1980.5 206.0L1981.0 206.6L1981.5 207.4L1981.9 208.0L1982.1 208.5L1982.5 209.3L1982.7 210.0L1983.0 210.8L1983.2 211.5L1983.4 212.5L1983.5 213.5L1983.5 214.0L1983.6 215.0L1983.6 216.0L1983.6 217.0L1983.6 218.0L1983.6 219.0L1983.6 220.0L1983.5 221.0L1983.5 221.5L1983.4 222.5L1983.2 223.5L1983.1 224.5L1983.0 225.0L1982.7 226.0L1982.5 226.7L1982.2 227.5L1982.0 228.1L1981.6 229.0L1981.4 229.5L1981.0 230.2L1980.5 231.0L1980.2 231.5L1979.8 232.0L1979.4 232.5L1978.9 233.0L1978.5 233.5L1977.9 234.0L1977.4 234.5L1976.7 235.0L1976.0 235.5L1975.5 235.9L1975.0 236.2L1974.4 236.5L1973.5 236.9L1973.0 237.2L1972.1 237.5L1971.5 237.7L1970.7 238.0L1970.0 238.2L1969.0 238.4L1968.5 238.5L1967.5 238.7L1966.5 238.9L1965.6 239.0L1965.0 239.1L1964.0 239.2L1963.0 239.2L1962.0 239.3L1961.0 239.3L1960.0 239.3L1959.0 239.3L1958.0 239.3L1957.0 239.3L1956.0 239.3L1955.0 239.3L1954.0 239.3L1953.0 239.2L1952.0 239.2L1951.0 239.2L1950.0 239.2L1949.0 239.1L1948.0 239.1L1947.0 239.0L1946.5 239.0L1945.5 238.9L1944.5 238.8L1943.5 238.7L1942.5 238.6L1941.5 238.5L1941.0 238.5L1940.0 238.3L1939.0 238.2L1938.0 238.0L1937.5 237.9L1936.5 237.8L1935.5 237.6L1935.0 237.5L1934.0 237.2L1933.0 237.0L1932.5 236.9L1931.5 236.6L1931.0 236.5L1930.0 236.2L1929.5 236.0L1928.5 235.7L1928.0 235.5L1927.0 235.1L1926.5 234.9L1925.5 234.5L1925.0 234.3L1924.3 234.0L1923.5 233.6L1923.0 233.4L1922.3 233.0L1921.5 232.6L1921.0 232.3L1920.4 232.0L1919.5 231.5L1919.0 231.2L1918.5 230.9L1917.8 230.5L1917.0 230.1L1916.5 229.8L1915.8 229.5L1915.0 229.1L1914.5 228.9L1913.5 228.5L1913.0 228.4L1912.0 228.1L1911.3 228.0L1910.5 227.9L1909.5 227.8L1908.5 227.8L1907.5 227.9L1906.5 227.9L1906.0 228.0L1905.0 228.1L1904.0 228.3L1903.0 228.4L1902.5 228.5L1901.5 228.7L1900.5 228.9L1899.8 229.0L1899.0 229.1L1898.0 229.3L1897.0 229.5L1896.5 229.6L1895.5 229.7L1894.5 229.9L1893.5 230.0L1893.0 230.1L1892.0 230.2L1891.0 230.3L1890.0 230.4L1889.0 230.5L1888.5 230.5L1887.5 230.6L1886.5 230.7L1885.5 230.7L1884.5 230.8L1883.5 230.8L1882.5 230.8L1881.5 230.9L1880.5 230.9L1879.5 230.9L1878.5 230.9L1877.5 230.9L1876.5 230.9L1875.5 230.9L1874.5 230.9L1873.5 230.9L1872.5 230.8L1871.5 230.8L1870.5 230.7L1869.5 230.6L1868.5 230.5L1868.0 230.5L1867.0 230.4L1866.0 230.2L1865.0 230.1L1864.5 230.0L1863.5 229.8L1862.5 229.5L1862.0 229.4L1861.0 229.1L1860.5 229.0L1859.5 228.6L1859.0 228.5L1858.0 228.1L1857.5 227.9L1856.8 227.5L1856.0 227.1L1855.5 226.8L1854.9 226.5L1854.2 226.0L1853.5 225.5L1853.0 225.1L1852.5 224.7L1852.0 224.3L1851.5 223.8L1851.0 223.2L1850.5 222.6L1850.1 222.0L1849.7 221.5L1849.4 221.0L1849.0 220.2L1848.7 219.5L1848.5 219.0L1848.2 218.0L1848.0 217.4L1847.8 216.5L1847.7 215.5L1847.6 214.5L1847.5 213.5L1847.5 213.0L1847.5 212.0L1847.5 211.1L1847.5 210.5L1847.6 209.5L1847.8 208.5L1848.0 207.8L1848.3 207.0L1848.5 206.5L1849.0 205.6L1849.4 205.0L1849.8 204.5L1850.2 204.0L1850.7 203.5L1851.3 203.0L1851.9 202.5L1852.5 202.1L1853.0 201.7L1853.5 201.4L1854.3 201.0L1855.0 200.6L1855.5 200.4L1856.5 200.0L1857.0 199.8L1857.8 199.5L1858.5 199.3L1859.5 199.0L1860.0 198.9L1861.0 198.6L1861.5 198.5L1862.5 198.3L1863.5 198.1L1864.2 198.0L1865.0 197.9L1866.0 197.8L1867.0 197.6L1868.0 197.5L1868.6 197.5ZM1870.4 199.0L1871.0 199.0L1872.0 198.9L1873.0 198.9L1874.0 198.8L1875.0 198.8L1876.0 198.8L1877.0 198.8L1878.0 198.8L1879.0 198.8L1880.0 198.8L1881.0 198.9L1882.0 198.9L1883.0 198.9L1884.0 198.9L1885.0 199.0L1885.5 199.0L1886.5 199.1L1887.5 199.2L1888.5 199.2L1889.5 199.3L1890.5 199.4L1891.0 199.5L1892.0 199.6L1893.0 199.8L1894.0 200.0L1894.5 200.0L1895.5 200.2L1896.5 200.4L1897.0 200.6L1898.0 200.8L1898.8 201.0L1899.5 201.2L1900.5 201.5L1901.0 201.7L1902.0 202.0L1902.5 202.2L1903.4 202.5L1904.0 202.8L1904.6 203.0L1905.5 203.4L1906.0 203.6L1906.8 204.0L1907.5 204.3L1908.0 204.6L1908.9 205.0L1909.5 205.3L1910.0 205.6L1910.9 206.0L1911.5 206.3L1912.1 206.5L1913.0 206.9L1913.5 207.0L1914.5 207.3L1915.5 207.4L1916.5 207.5L1917.5 207.5L1918.5 207.3L1919.5 207.1L1920.1 207.0L1921.0 206.8L1921.9 206.5L1922.5 206.3L1923.5 206.0L1924.0 205.9L1925.0 205.5L1925.5 205.4L1926.5 205.1L1927.0 204.9L1928.0 204.6L1928.5 204.5L1929.5 204.2L1930.2 204.0L1931.0 203.8L1932.0 203.6L1932.5 203.4L1933.5 203.2L1934.5 203.0L1935.0 202.9L1936.0 202.7L1937.0 202.6L1937.5 202.5L1938.5 202.3L1939.5 202.2L1940.5 202.1L1941.1 202.0L1942.0 201.9L1943.0 201.8L1944.0 201.7L1945.0 201.6L1946.0 201.6L1946.9 201.5L1947.5 201.5L1948.5 201.4L1949.5 201.4L1950.5 201.3L1951.5 201.3L1952.5 201.3L1953.5 201.3L1954.5 201.2L1955.5 201.2L1956.5 201.2L1957.5 201.2L1958.5 201.2L1959.5 201.2L1960.5 201.2L1961.5 201.2L1962.5 201.3L1963.5 201.3L1964.5 201.4L1965.5 201.5L1966.0 201.5L1967.0 201.7L1968.0 201.8L1968.8 202.0L1969.5 202.1L1970.5 202.4L1971.0 202.6L1972.0 202.9L1972.5 203.1L1973.5 203.5L1974.0 203.8L1974.5 204.0L1975.3 204.5L1976.0 205.0L1976.5 205.4L1977.0 205.8L1977.5 206.3L1978.0 206.8L1978.5 207.4L1978.9 208.0L1979.3 208.5L1979.5 209.0L1980.0 210.0L1980.2 210.5L1980.5 211.4L1980.6 212.0L1980.8 213.0L1981.0 214.0L1981.0 214.5L1981.1 215.5L1981.1 216.5L1981.1 217.5L1981.1 218.5L1981.0 219.5L1981.0 220.3L1981.0 221.0L1980.8 222.0L1980.7 223.0L1980.5 224.0L1980.4 224.5L1980.1 225.5L1980.0 226.0L1979.6 227.0L1979.4 227.5L1979.0 228.3L1978.6 229.0L1978.3 229.5L1978.0 230.0L1977.5 230.6L1977.0 231.2L1976.5 231.7L1976.0 232.2L1975.5 232.7L1975.0 233.1L1974.4 233.5L1973.6 234.0L1973.0 234.4L1972.5 234.6L1971.7 235.0L1971.0 235.3L1970.4 235.5L1969.5 235.8L1968.8 236.0L1968.0 236.2L1967.0 236.4L1966.5 236.5L1965.5 236.7L1964.5 236.8L1963.5 236.9L1962.5 236.9L1961.5 237.0L1960.5 237.0L1959.5 237.0L1958.5 237.0L1957.5 237.0L1956.5 237.0L1955.5 237.0L1954.5 237.0L1953.5 236.9L1952.5 236.9L1951.5 236.9L1950.5 236.8L1949.5 236.8L1948.5 236.7L1947.5 236.7L1946.5 236.6L1945.5 236.5L1945.0 236.5L1944.0 236.4L1943.0 236.2L1942.0 236.1L1941.2 236.0L1940.5 235.9L1939.5 235.7L1938.5 235.5L1938.0 235.4L1937.0 235.2L1936.0 235.0L1935.5 234.9L1934.5 234.6L1934.0 234.5L1933.0 234.2L1932.4 234.0L1931.5 233.7L1931.0 233.5L1930.0 233.1L1929.5 232.9L1928.6 232.5L1928.0 232.2L1927.5 232.0L1926.6 231.5L1926.0 231.2L1925.5 230.9L1924.8 230.5L1924.0 230.0L1923.5 229.6L1923.0 229.3L1922.5 228.9L1921.9 228.5L1921.2 228.0L1920.6 227.5L1920.0 227.0L1919.5 226.6L1919.0 226.2L1918.5 225.9L1918.0 225.5L1917.3 225.0L1916.5 224.5L1916.0 224.2L1915.5 223.9L1914.5 223.5L1914.0 223.4L1913.0 223.2L1912.0 223.2L1911.0 223.2L1910.0 223.4L1909.3 223.5L1908.5 223.7L1907.5 224.0L1907.0 224.1L1906.0 224.4L1905.5 224.6L1904.5 224.9L1904.0 225.1L1903.0 225.4L1902.5 225.5L1901.5 225.8L1900.9 226.0L1900.0 226.2L1899.1 226.5L1898.5 226.6L1897.5 226.9L1897.0 227.0L1896.0 227.2L1895.0 227.4L1894.5 227.5L1893.5 227.7L1892.5 227.9L1891.8 228.0L1891.0 228.1L1890.0 228.2L1889.0 228.4L1888.0 228.5L1887.5 228.5L1886.5 228.6L1885.5 228.7L1884.5 228.7L1883.5 228.8L1882.5 228.8L1881.5 228.8L1880.5 228.9L1879.5 228.9L1878.5 228.9L1877.5 228.9L1876.5 228.9L1875.5 228.9L1874.5 228.8L1873.5 228.8L1872.5 228.8L1871.5 228.7L1870.5 228.7L1869.5 228.6L1868.9 228.5L1868.0 228.4L1867.0 228.2L1866.0 228.1L1865.5 228.0L1864.5 227.8L1863.5 227.5L1863.0 227.4L1862.0 227.1L1861.5 226.9L1860.5 226.5L1860.0 226.3L1859.3 226.0L1858.5 225.6L1858.0 225.3L1857.4 225.0L1856.6 224.5L1856.0 224.1L1855.5 223.7L1855.0 223.2L1854.5 222.8L1854.0 222.2L1853.5 221.7L1853.0 221.0L1852.7 220.5L1852.4 220.0L1852.0 219.3L1851.7 218.5L1851.5 218.0L1851.2 217.0L1851.0 216.2L1850.9 215.5L1850.7 214.5L1850.7 213.5L1850.7 212.5L1850.7 211.5L1850.7 210.5L1850.8 209.5L1851.0 208.7L1851.2 208.0L1851.5 207.3L1851.9 206.5L1852.2 206.0L1852.6 205.5L1853.0 205.0L1853.5 204.5L1854.0 204.0L1854.6 203.5L1855.3 203.0L1856.0 202.6L1856.5 202.3L1857.1 202.0L1858.0 201.6L1858.5 201.4L1859.4 201.0L1860.0 200.8L1861.0 200.5L1861.5 200.4L1862.5 200.1L1863.0 200.0L1864.0 199.8L1865.0 199.6L1865.6 199.5L1866.5 199.4L1867.5 199.2L1868.5 199.1L1869.5 199.1L1870.4 199.0ZM1869.1 200.5L1870.0 200.4L1871.0 200.3L1872.0 200.3L1873.0 200.2L1874.0 200.2L1875.0 200.2L1876.0 200.2L1877.0 200.2L1878.0 200.2L1879.0 200.2L1880.0 200.2L1881.0 200.2L1882.0 200.2L1883.0 200.3L1884.0 200.3L1885.0 200.4L1886.0 200.4L1886.7 200.5L1887.5 200.6L1888.5 200.7L1889.5 200.8L1890.5 200.9L1891.0 201.0L1892.0 201.2L1893.0 201.3L1893.8 201.5L1894.5 201.7L1895.5 201.9L1896.0 202.0L1897.0 202.3L1897.7 202.5L1898.5 202.8L1899.1 203.0L1900.0 203.3L1900.5 203.5L1901.5 204.0L1902.0 204.2L1902.6 204.5L1903.5 205.0L1904.0 205.3L1904.5 205.7L1905.0 206.0L1905.7 206.5L1906.3 207.0L1906.9 207.5L1907.4 208.0L1907.8 208.5L1908.2 209.0L1908.6 209.5L1909.0 210.1L1909.4 211.0L1909.6 211.5L1909.9 212.5L1910.0 213.0L1910.1 214.0L1910.0 215.0L1909.9 215.5L1909.5 216.4L1909.2 217.0L1908.8 217.5L1908.5 218.0L1908.0 218.5L1907.5 219.1L1907.0 219.5L1906.4 220.0L1905.8 220.5L1905.1 221.0L1904.5 221.4L1904.0 221.7L1903.5 222.0L1902.5 222.5L1902.0 222.8L1901.5 223.0L1900.5 223.5L1900.0 223.7L1899.2 224.0L1898.5 224.2L1897.8 224.5L1897.0 224.8L1896.2 225.0L1895.5 225.2L1894.5 225.5L1894.0 225.6L1893.0 225.8L1892.0 226.0L1891.5 226.1L1890.5 226.3L1889.5 226.4L1889.0 226.5L1888.0 226.6L1887.0 226.7L1886.0 226.8L1885.0 226.9L1884.0 227.0L1883.5 227.0L1882.5 227.0L1881.5 227.1L1880.5 227.1L1879.5 227.1L1878.5 227.1L1877.5 227.1L1876.5 227.1L1875.5 227.1L1874.5 227.1L1873.5 227.1L1872.5 227.0L1872.0 227.0L1871.0 226.9L1870.0 226.8L1869.0 226.7L1868.0 226.6L1867.5 226.5L1866.5 226.3L1865.5 226.1L1865.0 225.9L1864.0 225.7L1863.5 225.5L1862.5 225.1L1862.0 224.9L1861.0 224.5L1860.5 224.3L1860.0 224.0L1859.2 223.5L1858.5 223.1L1858.0 222.7L1857.5 222.3L1857.0 221.8L1856.5 221.3L1856.0 220.7L1855.5 220.1L1855.1 219.5L1854.8 219.0L1854.5 218.3L1854.2 217.5L1854.0 217.0L1853.7 216.0L1853.5 215.0L1853.5 214.5L1853.4 213.5L1853.4 212.5L1853.4 211.5L1853.4 210.5L1853.5 210.0L1853.7 209.0L1854.0 208.1L1854.3 207.5L1854.5 207.0L1855.0 206.3L1855.5 205.7L1856.0 205.2L1856.5 204.7L1857.0 204.3L1857.5 204.0L1858.3 203.5L1859.0 203.1L1859.5 202.9L1860.3 202.5L1861.0 202.2L1861.7 202.0L1862.5 201.7L1863.3 201.5L1864.0 201.3L1865.0 201.1L1865.6 201.0L1866.5 200.8L1867.5 200.7L1868.5 200.6L1869.1 200.5ZM1948.9 203.0L1949.5 203.0L1950.5 202.9L1951.5 202.9L1952.5 202.9L1953.5 202.8L1954.5 202.8L1955.5 202.8L1956.5 202.8L1957.5 202.8L1958.5 202.8L1959.5 202.8L1960.5 202.8L1961.5 202.8L1962.5 202.9L1963.5 202.9L1964.5 203.0L1965.0 203.0L1966.0 203.2L1967.0 203.3L1967.9 203.5L1968.5 203.6L1969.5 203.9L1970.0 204.1L1971.0 204.4L1971.5 204.6L1972.3 205.0L1973.0 205.3L1973.5 205.6L1974.1 206.0L1974.7 206.5L1975.3 207.0L1975.8 207.5L1976.3 208.0L1976.7 208.5L1977.0 209.0L1977.5 209.8L1977.8 210.5L1978.0 211.0L1978.4 212.0L1978.5 212.5L1978.7 213.5L1978.8 214.5L1978.9 215.5L1978.9 216.5L1978.9 217.5L1978.9 218.5L1978.8 219.5L1978.8 220.5L1978.7 221.5L1978.5 222.5L1978.4 223.0L1978.2 224.0L1978.0 224.7L1977.7 225.5L1977.5 226.1L1977.1 227.0L1976.8 227.5L1976.5 228.1L1976.0 228.8L1975.5 229.5L1975.0 230.0L1974.5 230.5L1974.0 231.0L1973.5 231.4L1973.0 231.8L1972.5 232.1L1971.8 232.5L1971.0 232.9L1970.5 233.2L1969.7 233.5L1969.0 233.8L1968.2 234.0L1967.5 234.2L1966.5 234.4L1966.0 234.5L1965.0 234.7L1964.0 234.8L1963.0 234.9L1962.0 234.9L1961.0 235.0L1960.0 235.0L1959.0 235.0L1958.0 235.0L1957.0 235.0L1956.0 235.0L1955.0 235.0L1954.0 234.9L1953.0 234.9L1952.0 234.9L1951.0 234.9L1950.0 234.8L1949.0 234.7L1948.0 234.7L1947.0 234.6L1946.1 234.5L1945.5 234.4L1944.5 234.3L1943.5 234.2L1942.5 234.0L1942.0 234.0L1941.0 233.8L1940.0 233.6L1939.5 233.5L1938.5 233.3L1937.5 233.0L1937.0 232.9L1936.0 232.6L1935.5 232.4L1934.5 232.1L1934.0 231.9L1933.0 231.5L1932.5 231.3L1931.8 231.0L1931.0 230.6L1930.5 230.4L1929.8 230.0L1929.0 229.5L1928.5 229.2L1928.0 228.9L1927.4 228.5L1926.8 228.0L1926.2 227.5L1925.6 227.0L1925.1 226.5L1924.6 226.0L1924.1 225.5L1923.7 225.0L1923.2 224.5L1922.9 224.0L1922.5 223.5L1922.0 222.8L1921.5 222.0L1921.3 221.5L1921.0 221.0L1920.6 220.0L1920.4 219.5L1920.0 218.5L1919.9 218.0L1919.7 217.0L1919.5 216.0L1919.5 215.0L1919.7 214.0L1920.0 213.4L1920.5 212.5L1920.9 212.0L1921.3 211.5L1921.8 211.0L1922.4 210.5L1923.0 210.0L1923.5 209.7L1924.0 209.3L1924.5 209.0L1925.4 208.5L1926.0 208.2L1926.5 207.9L1927.4 207.5L1928.0 207.2L1928.5 207.0L1929.5 206.6L1930.0 206.4L1931.0 206.0L1931.5 205.9L1932.5 205.6L1933.0 205.4L1934.0 205.1L1934.5 205.0L1935.5 204.8L1936.5 204.5L1937.0 204.4L1938.0 204.2L1939.0 204.0L1939.5 204.0L1940.5 203.8L1941.5 203.7L1942.5 203.5L1943.0 203.5L1944.0 203.4L1945.0 203.3L1946.0 203.2L1947.0 203.1L1948.0 203.1L1948.9 203.0ZM1873.5 201.5L1874.0 201.5L1875.0 201.5L1876.0 201.5L1877.0 201.5L1878.0 201.5L1879.0 201.5L1880.0 201.5L1881.0 201.5L1881.5 201.5L1882.5 201.5L1883.5 201.6L1884.5 201.6L1885.5 201.7L1886.5 201.8L1887.5 201.9L1888.2 202.0L1889.0 202.1L1890.0 202.3L1891.0 202.4L1891.5 202.5L1892.5 202.7L1893.5 203.0L1894.0 203.1L1895.0 203.4L1895.5 203.6L1896.5 203.9L1897.0 204.1L1898.0 204.5L1898.5 204.7L1899.0 205.0L1899.9 205.5L1900.5 205.9L1901.0 206.2L1901.5 206.6L1902.0 207.0L1902.5 207.5L1903.0 208.1L1903.5 208.8L1903.9 209.5L1904.1 210.0L1904.4 211.0L1904.5 211.7L1904.6 212.5L1904.6 213.5L1904.5 214.5L1904.4 215.0L1904.1 216.0L1903.9 216.5L1903.5 217.3L1903.0 218.0L1902.6 218.5L1902.2 219.0L1901.7 219.5L1901.1 220.0L1900.5 220.5L1900.0 220.8L1899.5 221.1L1898.9 221.5L1898.0 222.0L1897.5 222.2L1896.9 222.5L1896.0 222.9L1895.5 223.1L1894.5 223.4L1894.0 223.6L1893.0 223.9L1892.5 224.0L1891.5 224.2L1890.5 224.5L1890.0 224.6L1889.0 224.7L1888.0 224.9L1887.2 225.0L1886.5 225.1L1885.5 225.2L1884.5 225.3L1883.5 225.4L1882.5 225.4L1881.5 225.5L1880.5 225.5L1879.5 225.5L1879.0 225.5L1878.0 225.5L1877.0 225.5L1876.0 225.5L1875.5 225.5L1874.5 225.5L1873.5 225.4L1872.5 225.4L1871.5 225.3L1870.5 225.2L1869.5 225.1L1868.9 225.0L1868.0 224.8L1867.0 224.6L1866.5 224.5L1865.5 224.2L1864.8 224.0L1864.0 223.7L1863.5 223.5L1862.5 223.1L1862.0 222.8L1861.5 222.5L1860.7 222.0L1860.0 221.5L1859.5 221.1L1859.0 220.6L1858.5 220.1L1858.0 219.5L1857.6 219.0L1857.3 218.5L1857.0 217.9L1856.6 217.0L1856.5 216.5L1856.2 215.5L1856.0 214.5L1856.0 214.0L1855.9 213.0L1855.9 212.0L1855.9 211.0L1856.0 210.3L1856.1 209.5L1856.5 208.5L1856.7 208.0L1857.0 207.4L1857.5 206.7L1858.0 206.1L1858.5 205.7L1859.0 205.3L1859.5 204.9L1860.1 204.5L1861.0 204.0L1861.5 203.8L1862.1 203.5L1863.0 203.2L1863.5 203.0L1864.5 202.7L1865.3 202.5L1866.0 202.3L1867.0 202.1L1867.8 202.0L1868.5 201.9L1869.5 201.8L1870.5 201.7L1871.5 201.6L1872.5 201.5L1873.5 201.5ZM1948.9 204.5L1949.5 204.5L1950.5 204.4L1951.5 204.4L1952.5 204.3L1953.5 204.3L1954.5 204.3L1955.5 204.3L1956.5 204.3L1957.5 204.3L1958.5 204.3L1959.5 204.3L1960.5 204.3L1961.5 204.3L1962.5 204.3L1963.5 204.4L1964.5 204.5L1965.0 204.6L1966.0 204.7L1967.0 204.9L1967.5 205.0L1968.5 205.3L1969.2 205.5L1970.0 205.8L1970.5 206.0L1971.5 206.5L1972.0 206.8L1972.5 207.1L1973.0 207.5L1973.6 208.0L1974.1 208.5L1974.6 209.0L1975.0 209.6L1975.5 210.4L1975.8 211.0L1976.0 211.5L1976.4 212.5L1976.5 213.0L1976.7 214.0L1976.8 215.0L1976.8 216.0L1976.8 217.0L1976.8 218.0L1976.8 219.0L1976.7 220.0L1976.7 221.0L1976.5 222.0L1976.4 222.5L1976.2 223.5L1976.0 224.1L1975.7 225.0L1975.5 225.5L1975.0 226.4L1974.6 227.0L1974.3 227.5L1973.9 228.0L1973.5 228.5L1973.0 229.0L1972.5 229.5L1971.9 230.0L1971.2 230.5L1970.5 230.9L1970.0 231.2L1969.3 231.5L1968.5 231.8L1968.0 232.0L1967.0 232.3L1966.3 232.5L1965.5 232.7L1964.5 232.8L1963.5 233.0L1963.0 233.0L1962.0 233.1L1961.0 233.1L1960.0 233.1L1959.0 233.1L1958.0 233.1L1957.0 233.1L1956.0 233.1L1955.0 233.1L1954.0 233.1L1953.0 233.1L1952.0 233.0L1951.5 233.0L1950.5 232.9L1949.5 232.9L1948.5 232.8L1947.5 232.7L1946.5 232.6L1945.7 232.5L1945.0 232.4L1944.0 232.3L1943.0 232.1L1942.5 232.0L1941.5 231.8L1940.5 231.6L1940.0 231.4L1939.0 231.2L1938.4 231.0L1937.5 230.7L1936.9 230.5L1936.0 230.2L1935.5 230.0L1934.5 229.5L1934.0 229.3L1933.5 229.0L1932.6 228.5L1932.0 228.1L1931.5 227.8L1931.0 227.5L1930.4 227.0L1929.8 226.5L1929.3 226.0L1928.8 225.5L1928.4 225.0L1928.0 224.5L1927.5 223.9L1927.0 223.0L1926.7 222.5L1926.5 222.0L1926.1 221.0L1926.0 220.5L1925.7 219.5L1925.6 218.5L1925.5 217.5L1925.5 217.0L1925.5 216.0L1925.5 215.3L1925.6 214.5L1925.9 213.5L1926.1 213.0L1926.5 212.3L1927.0 211.6L1927.5 211.1L1928.0 210.6L1928.5 210.2L1929.0 209.8L1929.5 209.4L1930.2 209.0L1931.0 208.5L1931.5 208.3L1932.1 208.0L1933.0 207.6L1933.5 207.4L1934.5 207.0L1935.0 206.9L1936.0 206.6L1936.5 206.4L1937.5 206.1L1938.1 206.0L1939.0 205.8L1940.0 205.6L1940.5 205.5L1941.5 205.3L1942.5 205.2L1943.5 205.0L1944.0 205.0L1945.0 204.8L1946.0 204.7L1947.0 204.6L1948.0 204.6L1948.9 204.5ZM1870.2 203.0L1871.0 202.9L1872.0 202.8L1873.0 202.8L1874.0 202.7L1875.0 202.7L1876.0 202.7L1877.0 202.7L1878.0 202.7L1879.0 202.7L1880.0 202.7L1881.0 202.7L1882.0 202.8L1883.0 202.8L1884.0 202.9L1885.0 203.0L1885.5 203.0L1886.5 203.1L1887.5 203.3L1888.5 203.4L1889.1 203.5L1890.0 203.7L1891.0 203.9L1891.5 204.0L1892.5 204.3L1893.1 204.5L1894.0 204.8L1894.5 205.0L1895.5 205.4L1896.0 205.7L1896.6 206.0L1897.4 206.5L1898.0 206.9L1898.5 207.3L1899.0 207.8L1899.5 208.4L1899.9 209.0L1900.1 209.5L1900.5 210.5L1900.6 211.0L1900.7 212.0L1900.7 213.0L1900.6 214.0L1900.5 214.7L1900.3 215.5L1900.0 216.2L1899.6 217.0L1899.3 217.5L1898.9 218.0L1898.4 218.5L1897.9 219.0L1897.3 219.5L1896.6 220.0L1896.0 220.4L1895.5 220.7L1894.9 221.0L1894.0 221.4L1893.5 221.6L1892.5 222.0L1892.0 222.2L1891.0 222.5L1890.5 222.6L1889.5 222.8L1888.8 223.0L1888.0 223.2L1887.0 223.3L1886.0 223.5L1885.5 223.5L1884.5 223.6L1883.5 223.7L1882.5 223.8L1881.5 223.8L1880.5 223.9L1879.5 223.9L1878.5 223.9L1877.5 223.9L1876.5 223.9L1875.5 223.9L1874.5 223.9L1873.5 223.8L1872.5 223.8L1871.5 223.7L1870.5 223.6L1870.0 223.5L1869.0 223.3L1868.0 223.1L1867.5 223.0L1866.5 222.7L1866.0 222.5L1865.0 222.1L1864.5 221.9L1863.7 221.5L1863.0 221.1L1862.5 220.8L1862.0 220.4L1861.5 220.0L1861.0 219.5L1860.5 218.9L1860.0 218.3L1859.5 217.5L1859.3 217.0L1859.0 216.3L1858.7 215.5L1858.5 214.5L1858.5 214.0L1858.4 213.0L1858.4 212.0L1858.4 211.0L1858.5 210.3L1858.7 209.5L1859.0 208.6L1859.3 208.0L1859.7 207.5L1860.1 207.0L1860.6 206.5L1861.2 206.0L1861.9 205.5L1862.5 205.2L1863.0 204.9L1863.9 204.5L1864.5 204.3L1865.3 204.0L1866.0 203.8L1867.0 203.5L1867.5 203.4L1868.5 203.2L1869.5 203.1L1870.2 203.0ZM1948.9 206.0L1949.5 206.0L1950.5 205.9L1951.5 205.8L1952.5 205.8L1953.5 205.8L1954.5 205.7L1955.5 205.7L1956.5 205.7L1957.5 205.7L1958.5 205.7L1959.5 205.7L1960.5 205.7L1961.5 205.7L1962.5 205.8L1963.5 205.9L1964.5 206.0L1965.0 206.1L1966.0 206.3L1967.0 206.5L1967.5 206.6L1968.5 207.0L1969.0 207.2L1969.7 207.5L1970.5 207.9L1971.0 208.3L1971.5 208.6L1972.0 209.1L1972.5 209.6L1973.0 210.2L1973.5 210.9L1973.8 211.5L1974.0 212.0L1974.4 213.0L1974.5 213.5L1974.7 214.5L1974.8 215.5L1974.8 216.5L1974.8 217.5L1974.8 218.5L1974.7 219.5L1974.7 220.5L1974.5 221.5L1974.4 222.0L1974.2 223.0L1974.0 223.5L1973.6 224.5L1973.4 225.0L1973.0 225.7L1972.5 226.4L1972.0 227.0L1971.6 227.5L1971.1 228.0L1970.5 228.5L1970.0 228.8L1969.5 229.2L1968.9 229.5L1968.0 229.9L1967.5 230.1L1966.5 230.5L1966.0 230.6L1965.0 230.8L1964.2 231.0L1963.5 231.1L1962.5 231.2L1961.5 231.3L1960.5 231.3L1959.5 231.3L1958.5 231.3L1957.5 231.3L1956.5 231.3L1955.5 231.3L1954.5 231.3L1953.5 231.2L1952.5 231.2L1951.5 231.1L1950.5 231.1L1949.7 231.0L1949.0 230.9L1948.0 230.8L1947.0 230.7L1946.0 230.6L1945.5 230.5L1944.5 230.3L1943.5 230.1L1943.0 230.0L1942.0 229.8L1941.1 229.5L1940.5 229.3L1939.5 229.0L1939.0 228.8L1938.2 228.5L1937.5 228.2L1937.0 227.9L1936.1 227.5L1935.5 227.1L1935.0 226.8L1934.5 226.5L1933.9 226.0L1933.3 225.5L1932.8 225.0L1932.3 224.5L1931.9 224.0L1931.5 223.4L1931.0 222.5L1930.7 222.0L1930.5 221.4L1930.2 220.5L1930.0 219.5L1929.9 219.0L1929.8 218.0L1929.8 217.0L1929.8 216.0L1929.9 215.0L1930.0 214.5L1930.4 213.5L1930.6 213.0L1931.0 212.4L1931.5 211.7L1932.0 211.2L1932.5 210.8L1933.0 210.4L1933.6 210.0L1934.4 209.5L1935.0 209.2L1935.5 208.9L1936.5 208.5L1937.0 208.3L1937.9 208.0L1938.5 207.8L1939.5 207.5L1940.0 207.4L1941.0 207.1L1941.6 207.0L1942.5 206.8L1943.5 206.6L1944.4 206.5L1945.0 206.4L1946.0 206.3L1947.0 206.2L1948.0 206.1L1948.9 206.0ZM1875.4 204.0L1876.0 204.0L1877.0 204.0L1878.0 204.0L1879.0 204.0L1879.5 204.0L1880.5 204.0L1881.5 204.1L1882.5 204.1L1883.5 204.2L1884.5 204.3L1885.5 204.4L1886.3 204.5L1887.0 204.6L1888.0 204.8L1888.9 205.0L1889.5 205.1L1890.5 205.4L1891.0 205.6L1892.0 206.0L1892.5 206.2L1893.2 206.5L1894.0 206.9L1894.5 207.3L1895.0 207.7L1895.5 208.1L1896.0 208.7L1896.5 209.4L1896.7 210.0L1897.0 211.0L1897.1 211.5L1897.1 212.5L1897.0 213.5L1897.0 214.0L1896.7 215.0L1896.5 215.6L1896.0 216.5L1895.7 217.0L1895.3 217.5L1894.8 218.0L1894.2 218.5L1893.5 219.0L1893.0 219.3L1892.5 219.6L1891.7 220.0L1891.0 220.3L1890.5 220.5L1889.5 220.8L1889.0 221.0L1888.0 221.3L1887.0 221.5L1886.5 221.6L1885.5 221.8L1884.5 221.9L1883.7 222.0L1883.0 222.1L1882.0 222.1L1881.0 222.2L1880.0 222.2L1879.0 222.3L1878.0 222.3L1877.0 222.3L1876.0 222.3L1875.0 222.2L1874.0 222.2L1873.0 222.1L1872.0 222.0L1871.5 222.0L1870.5 221.8L1869.5 221.6L1869.0 221.5L1868.0 221.2L1867.4 221.0L1866.5 220.6L1866.0 220.4L1865.2 220.0L1864.5 219.5L1864.0 219.1L1863.5 218.7L1863.0 218.2L1862.5 217.6L1862.1 217.0L1861.8 216.5L1861.5 215.7L1861.3 215.0L1861.1 214.0L1861.0 213.0L1861.0 212.5L1861.0 211.5L1861.0 211.0L1861.2 210.0L1861.5 209.1L1861.8 208.5L1862.2 208.0L1862.6 207.5L1863.2 207.0L1863.9 206.5L1864.5 206.1L1865.0 205.9L1865.8 205.5L1866.5 205.3L1867.3 205.0L1868.0 204.8L1869.0 204.6L1869.5 204.5L1870.5 204.3L1871.5 204.2L1872.5 204.1L1873.5 204.1L1874.5 204.0L1875.4 204.0ZM1950.0 207.5L1950.5 207.5L1951.5 207.4L1952.5 207.3L1953.5 207.3L1954.5 207.3L1955.5 207.2L1956.5 207.2L1957.5 207.2L1958.5 207.2L1959.5 207.2L1960.5 207.2L1961.5 207.3L1962.5 207.3L1963.5 207.4L1964.0 207.5L1965.0 207.7L1966.0 207.9L1966.5 208.1L1967.5 208.4L1968.0 208.7L1968.7 209.0L1969.5 209.5L1970.0 209.9L1970.5 210.4L1971.0 210.9L1971.4 211.5L1971.7 212.0L1972.0 212.6L1972.3 213.5L1972.5 214.3L1972.6 215.0L1972.7 216.0L1972.7 217.0L1972.7 218.0L1972.6 219.0L1972.6 220.0L1972.5 220.5L1972.3 221.5L1972.0 222.5L1971.8 223.0L1971.5 223.8L1971.1 224.5L1970.8 225.0L1970.4 225.5L1970.0 226.0L1969.5 226.5L1968.9 227.0L1968.1 227.5L1967.5 227.9L1967.0 228.1L1966.0 228.5L1965.5 228.7L1964.5 228.9L1964.0 229.0L1963.0 229.2L1962.0 229.3L1961.0 229.3L1960.0 229.4L1959.0 229.4L1958.0 229.4L1957.0 229.4L1956.0 229.4L1955.0 229.3L1954.0 229.3L1953.0 229.3L1952.0 229.2L1951.0 229.1L1950.0 229.0L1949.5 229.0L1948.5 228.9L1947.5 228.7L1946.5 228.5L1946.0 228.4L1945.0 228.2L1944.1 228.0L1943.5 227.8L1942.5 227.5L1942.0 227.3L1941.1 227.0L1940.5 226.7L1940.0 226.5L1939.1 226.0L1938.5 225.6L1938.0 225.3L1937.5 224.9L1937.0 224.5L1936.5 224.0L1936.0 223.5L1935.5 222.8L1935.0 222.0L1934.7 221.5L1934.5 220.9L1934.3 220.0L1934.1 219.0L1934.0 218.1L1934.0 217.5L1934.0 216.5L1934.0 215.9L1934.1 215.0L1934.4 214.0L1934.7 213.5L1935.0 212.9L1935.5 212.3L1936.0 211.8L1936.5 211.4L1937.0 211.0L1937.8 210.5L1938.5 210.1L1939.0 209.9L1940.0 209.5L1940.5 209.3L1941.4 209.0L1942.0 208.8L1943.0 208.6L1943.5 208.4L1944.5 208.2L1945.5 208.1L1946.0 208.0L1947.0 207.8L1948.0 207.7L1949.0 207.6L1950.0 207.5ZM1872.2 205.5L1873.0 205.4L1874.0 205.4L1875.0 205.3L1876.0 205.3L1877.0 205.3L1878.0 205.3L1879.0 205.3L1880.0 205.3L1881.0 205.4L1882.0 205.4L1882.9 205.5L1883.5 205.6L1884.5 205.7L1885.5 205.8L1886.4 206.0L1887.0 206.1L1888.0 206.4L1888.5 206.6L1889.5 206.9L1890.0 207.1L1890.8 207.5L1891.5 208.0L1892.0 208.4L1892.5 208.8L1893.0 209.5L1893.3 210.0L1893.5 210.6L1893.7 211.5L1893.7 212.5L1893.6 213.5L1893.5 214.1L1893.2 215.0L1893.0 215.5L1892.5 216.2L1892.0 216.8L1891.5 217.3L1891.0 217.7L1890.5 218.0L1889.7 218.5L1889.0 218.8L1888.5 219.0L1887.5 219.4L1887.0 219.5L1886.0 219.8L1885.1 220.0L1884.5 220.1L1883.5 220.3L1882.5 220.4L1881.5 220.5L1881.0 220.5L1880.0 220.6L1879.0 220.6L1878.0 220.6L1877.0 220.6L1876.0 220.6L1875.0 220.6L1874.0 220.5L1873.5 220.5L1872.5 220.4L1871.5 220.2L1870.5 220.0L1870.0 219.9L1869.0 219.5L1868.5 219.4L1867.7 219.0L1867.0 218.6L1866.5 218.3L1866.0 217.9L1865.5 217.4L1865.0 216.9L1864.5 216.1L1864.2 215.5L1864.0 215.0L1863.7 214.0L1863.6 213.0L1863.6 212.0L1863.6 211.0L1863.9 210.0L1864.1 209.5L1864.5 208.8L1865.0 208.2L1865.5 207.8L1866.0 207.4L1866.7 207.0L1867.5 206.6L1868.0 206.4L1869.0 206.1L1869.5 206.0L1870.5 205.8L1871.5 205.6L1872.2 205.5ZM1951.3 209.0L1952.0 208.9L1953.0 208.9L1954.0 208.8L1955.0 208.8L1956.0 208.8L1957.0 208.8L1958.0 208.8L1959.0 208.8L1960.0 208.8L1961.0 208.8L1962.0 208.9L1963.0 209.0L1963.5 209.0L1964.5 209.2L1965.4 209.5L1966.0 209.7L1966.7 210.0L1967.5 210.5L1968.0 210.8L1968.5 211.2L1969.0 211.8L1969.5 212.4L1969.8 213.0L1970.0 213.5L1970.3 214.5L1970.5 215.5L1970.5 216.0L1970.5 217.0L1970.5 218.0L1970.5 218.6L1970.4 219.5L1970.3 220.5L1970.0 221.5L1969.8 222.0L1969.5 222.8L1969.1 223.5L1968.7 224.0L1968.3 224.5L1967.8 225.0L1967.2 225.5L1966.5 226.0L1966.0 226.2L1965.4 226.5L1964.5 226.8L1963.9 227.0L1963.0 227.2L1962.0 227.3L1961.0 227.4L1960.0 227.4L1959.0 227.4L1958.0 227.4L1957.0 227.4L1956.0 227.4L1955.0 227.4L1954.0 227.3L1953.0 227.3L1952.0 227.2L1951.0 227.1L1950.2 227.0L1949.5 226.9L1948.5 226.7L1947.5 226.5L1947.0 226.4L1946.0 226.1L1945.5 226.0L1944.5 225.6L1944.0 225.5L1943.0 225.0L1942.5 224.7L1942.0 224.5L1941.3 224.0L1940.7 223.5L1940.1 223.0L1939.7 222.5L1939.3 222.0L1939.0 221.5L1938.5 220.5L1938.3 220.0L1938.1 219.0L1938.0 218.0L1938.0 217.0L1938.0 216.0L1938.2 215.0L1938.5 214.2L1938.9 213.5L1939.3 213.0L1939.8 212.5L1940.4 212.0L1941.0 211.6L1941.5 211.4L1942.2 211.0L1943.0 210.7L1943.5 210.5L1944.5 210.2L1945.1 210.0L1946.0 209.8L1947.0 209.6L1947.5 209.5L1948.5 209.3L1949.5 209.2L1950.5 209.1L1951.3 209.0ZM1874.2 207.0L1875.0 207.0L1876.0 206.9L1877.0 206.9L1878.0 206.9L1879.0 206.9L1880.0 207.0L1880.7 207.0L1881.5 207.1L1882.5 207.2L1883.5 207.3L1884.4 207.5L1885.0 207.7L1886.0 208.0L1886.5 208.1L1887.3 208.5L1888.0 208.9L1888.5 209.4L1889.0 209.9L1889.3 210.5L1889.5 211.1L1889.6 212.0L1889.6 213.0L1889.5 213.5L1889.1 214.5L1888.9 215.0L1888.5 215.5L1888.0 216.0L1887.3 216.5L1886.5 217.0L1886.0 217.2L1885.3 217.5L1884.5 217.7L1883.5 218.0L1883.0 218.1L1882.0 218.3L1881.0 218.4L1880.0 218.5L1879.1 218.5L1878.5 218.5L1877.5 218.5L1876.5 218.5L1875.7 218.5L1875.0 218.5L1874.0 218.4L1873.0 218.2L1872.0 218.0L1871.5 217.9L1870.5 217.6L1870.0 217.3L1869.4 217.0L1868.7 216.5L1868.2 216.0L1867.8 215.5L1867.5 215.0L1867.1 214.0L1866.9 213.5L1866.8 212.5L1866.9 211.5L1867.0 210.6L1867.2 210.0L1867.6 209.5L1868.0 209.0L1868.7 208.5L1869.5 208.1L1870.0 207.8L1871.0 207.5L1871.5 207.4L1872.5 207.2L1873.5 207.1L1874.2 207.0ZM1951.8 211.0L1952.5 210.9L1953.5 210.8L1954.5 210.8L1955.5 210.7L1956.5 210.7L1957.5 210.7L1958.5 210.7L1959.5 210.7L1960.5 210.7L1961.5 210.8L1962.5 210.9L1963.0 211.0L1964.0 211.3L1964.6 211.5L1965.5 212.0L1966.0 212.3L1966.5 212.8L1967.0 213.4L1967.3 214.0L1967.5 214.5L1967.8 215.5L1967.8 216.5L1967.8 217.5L1967.8 218.5L1967.7 219.5L1967.5 220.2L1967.2 221.0L1967.0 221.5L1966.5 222.3L1966.0 222.9L1965.5 223.3L1965.0 223.7L1964.5 224.0L1963.5 224.4L1963.0 224.6L1962.0 224.8L1961.0 224.9L1960.0 225.0L1959.0 225.0L1958.0 225.0L1957.0 225.0L1956.0 225.0L1955.0 224.9L1954.0 224.8L1953.0 224.7L1952.0 224.6L1951.2 224.5L1950.5 224.4L1949.5 224.1L1949.0 224.0L1948.0 223.7L1947.5 223.5L1946.5 223.0L1946.0 222.7L1945.5 222.4L1945.0 222.0L1944.5 221.5L1944.0 220.9L1943.5 220.1L1943.3 219.5L1943.0 218.5L1943.0 218.0L1943.0 217.0L1943.0 216.1L1943.1 215.5L1943.5 214.6L1943.9 214.0L1944.4 213.5L1945.0 213.0L1945.5 212.7L1946.0 212.5L1947.0 212.1L1947.5 211.9L1948.5 211.6L1949.0 211.5L1950.0 211.3L1951.0 211.1L1951.8 211.0Z" fill="none" stroke="#454545" stroke-width="0.9"/>
<path d="M1908.9 414.3v3.5M1805.3 308.2h-4.5M1920.5 414.3v3.5M1805.3 296.4h-4.5M1928.8 414.3v3.5M1805.3 288.1h-4.5M1940.4 414.3v3.5M1805.3 276.4h-4.5M1944.8 414.3v3.5M1805.3 271.9h-4.5M1948.7 414.3v3.5M1805.3 268.1h-4.5M1952.1 414.3v3.5M1805.3 264.6h-4.5M1972.0 414.3v3.5M1805.3 244.6h-4.5M1981.8 414.3v3.5M1805.3 234.6h-4.5M1988.8 414.3v3.5M1805.3 227.6h-4.5M1998.7 414.3v3.5M1805.3 217.6h-4.5M2002.5 414.3v3.5M1805.3 213.9h-4.5M2005.7 414.3v3.5M1805.3 210.6h-4.5M2008.6 414.3v3.5M1805.3 207.7h-4.5M2027.4 414.3v3.5M1805.3 188.8h-4.5M2036.9 414.3v3.5M1805.3 179.2h-4.5M2043.6 414.3v3.5M1805.3 172.4h-4.5M2053.1 414.3v3.5M1805.3 162.8h-4.5M2056.7 414.3v3.5M1805.3 159.2h-4.5M2059.8 414.3v3.5M1805.3 156.1h-4.5M2062.6 414.3v3.5M1805.3 153.3h-4.5M2080.6 414.3v3.5M1805.3 135.1h-4.5M2089.7 414.3v3.5M1805.3 126.0h-4.5M2096.1 414.3v3.5M1805.3 119.5h-4.5M1824.2 414.3v3.5M1805.3 393.4h-4.5M1812.6 414.3v3.5M1805.3 405.2h-4.5M1805.3 413.5h-4.5M1846.4 414.3v3.5M1805.3 371.1h-4.5M1848.6 414.3v3.5M1805.3 368.9h-4.5M1850.8 414.3v3.5M1805.3 366.6h-4.5M1853.1 414.3v3.5M1805.3 364.4h-4.5M1855.3 414.3v3.5M1805.3 362.1h-4.5M1857.6 414.3v3.5M1805.3 359.8h-4.5M1859.8 414.3v3.5M1805.3 357.6h-4.5M1862.1 414.3v3.5M1805.3 355.3h-4.5M1864.3 414.3v3.5M1805.3 353.1h-4.5M1868.8 414.3v3.5M1805.3 348.5h-4.5M1871.0 414.3v3.5M1805.3 346.3h-4.5M1873.3 414.3v3.5M1805.3 344.0h-4.5M1875.5 414.3v3.5M1805.3 341.8h-4.5M1877.8 414.3v3.5M1805.3 339.5h-4.5M1880.0 414.3v3.5M1805.3 337.2h-4.5M1882.2 414.3v3.5M1805.3 335.0h-4.5M1884.5 414.3v3.5M1805.3 332.7h-4.5M1886.7 414.3v3.5M1805.3 330.5h-4.5" fill="none" stroke="#222" stroke-width="0.9"/>
<path d="M1935.2 414.3v4.5M1805.3 281.6h-6M1994.3 414.3v4.5M1805.3 222.1h-6M2048.8 414.3v4.5M1805.3 167.1h-6" fill="none" stroke="#111" stroke-width="1.1"/>
<path d="M1889.0 414.3v6.5M1805.3 328.2h-8.5M1955.1 414.3v6.5M1805.3 261.6h-8.5M2011.2 414.3v6.5M1805.3 205.1h-8.5M2065.1 414.3v6.5M1805.3 150.8h-8.5M1844.1 414.3v6.5M1805.3 373.4h-8.5" fill="none" stroke="#000" stroke-width="1.9"/>
<rect x="1863.34" y="414.3" width="6.4" height="6.5" fill="#000"/>
<rect x="1796.8" y="347.6" width="8.5" height="6.4" fill="#000"/>
<rect x="1805.3" y="118.3" width="293.3" height="296" fill="none" stroke="#222" stroke-width="1.3"/>
<line x1="1910.8" y1="118.3" x2="1910.8" y2="414.3" stroke="#000" stroke-width="2"/>
<line x1="1796.8" y1="260.7" x2="2098.6" y2="260.7" stroke="#000" stroke-width="2"/>
<text font-size="23" x="1812.55" y="140.9"><tspan textLength="18.96" lengthAdjust="spacingAndGlyphs">Q</tspan><tspan textLength="8.44" lengthAdjust="spacingAndGlyphs" stroke="#000" stroke-width="0.48">1</tspan></text>
<text font-size="23" x="1812.77" y="165.3" textLength="47.45" lengthAdjust="spacingAndGlyphs">38.7</text>
<text font-size="23" x="2061.3" y="140.9" textLength="32.52" lengthAdjust="spacingAndGlyphs">Q2</text>
<text font-size="23" x="2051.34" y="165.3"><tspan textLength="13.56" lengthAdjust="spacingAndGlyphs">6</tspan><tspan textLength="8.44" lengthAdjust="spacingAndGlyphs" stroke="#000" stroke-width="0.48">1</tspan><tspan textLength="20.33" lengthAdjust="spacingAndGlyphs">.3</tspan></text>
<text font-size="23" x="1812.55" y="383.7" textLength="32.52" lengthAdjust="spacingAndGlyphs">Q4</text>
<text font-size="23" x="1812.6" y="407.9"><tspan textLength="15.61" lengthAdjust="spacingAndGlyphs">0</tspan><tspan textLength="6.77" lengthAdjust="spacingAndGlyphs">.</tspan><tspan textLength="15.61" lengthAdjust="spacingAndGlyphs">0</tspan><tspan textLength="8.44" lengthAdjust="spacingAndGlyphs" stroke="#000" stroke-width="0.48">1</tspan><tspan textLength="13.56" lengthAdjust="spacingAndGlyphs">3</tspan></text>
<text font-size="23" x="2061.15" y="383.7" textLength="32.52" lengthAdjust="spacingAndGlyphs">Q3</text>
<text font-size="23" x="2028.57" y="407.9"><tspan textLength="15.61" lengthAdjust="spacingAndGlyphs">0</tspan><tspan textLength="6.77" lengthAdjust="spacingAndGlyphs">.</tspan><tspan textLength="15.61" lengthAdjust="spacingAndGlyphs">0</tspan><tspan textLength="27.12" lengthAdjust="spacingAndGlyphs">26</tspan></text>
<text font-size="23" x="1859.52" y="457.5" textLength="15.61" lengthAdjust="spacingAndGlyphs">0</text>
<text font-size="23" x="1936.43" y="457.5"><tspan textLength="8.52" lengthAdjust="spacingAndGlyphs" stroke="#000" stroke-width="0.48">1</tspan><tspan textLength="15.75" lengthAdjust="spacingAndGlyphs">0</tspan></text>
<text font-size="15" x="1961.94" y="447.5" textLength="8.61" lengthAdjust="spacingAndGlyphs">4</text>
<text font-size="23" x="1994" y="457.5"><tspan textLength="8.52" lengthAdjust="spacingAndGlyphs" stroke="#000" stroke-width="0.48">1</tspan><tspan textLength="15.75" lengthAdjust="spacingAndGlyphs">0</tspan></text>
<text font-size="15" x="2019.21" y="447.5" textLength="9.15" lengthAdjust="spacingAndGlyphs">5</text>
<text font-size="23" x="2045.61" y="457.5"><tspan textLength="8.52" lengthAdjust="spacingAndGlyphs" stroke="#000" stroke-width="0.48">1</tspan><tspan textLength="15.75" lengthAdjust="spacingAndGlyphs">0</tspan></text>
<text font-size="15" x="2070.62" y="447.5" textLength="9.4" lengthAdjust="spacingAndGlyphs">6</text>
<text font-size="27.6" x="1861.31" y="503.25"><tspan textLength="154" lengthAdjust="spacingAndGlyphs">CCR7 (BV42</tspan><tspan textLength="10.13" lengthAdjust="spacingAndGlyphs" stroke="#000" stroke-width="0.58">1</tspan><tspan textLength="8.87" lengthAdjust="spacingAndGlyphs">)</tspan></text>
<text font-size="27.6" x="174.1" y="574.8"><tspan textLength="52.52" lengthAdjust="spacingAndGlyphs">Day </tspan><tspan textLength="20.26" lengthAdjust="spacingAndGlyphs" stroke="#000" stroke-width="0.58">11</tspan></text>
<text font-size="27.6" x="173.61" y="610.7" textLength="192.69" lengthAdjust="spacingAndGlyphs">CCR7/CD45RO</text>
<path d="M166.5 632.25V937.75M157.5 937.75H525M157.5 632.25H166.5M157.5 693H166.5M157.5 754.25H166.5M157.5 815H166.5M157.5 876.25H166.5M198.5 937.75v8.5M247.25 937.75v8.5M296.25 937.75v8.5M393.75 937.75v8.5M442.5 937.75v8.5M491.5 937.75v8.5" fill="none" stroke="#000" stroke-width="1.45"/>
<text font-size="23" x="107.24" y="641.45"><tspan textLength="8.44" lengthAdjust="spacingAndGlyphs" stroke="#000" stroke-width="0.48">1</tspan><tspan textLength="31.21" lengthAdjust="spacingAndGlyphs">00</tspan></text>
<text font-size="23" x="117.92" y="701.4"><tspan textLength="13.37" lengthAdjust="spacingAndGlyphs">8</tspan><tspan textLength="15.61" lengthAdjust="spacingAndGlyphs">0</tspan></text>
<text font-size="23" x="117.92" y="762.65"><tspan textLength="13.37" lengthAdjust="spacingAndGlyphs">6</tspan><tspan textLength="15.61" lengthAdjust="spacingAndGlyphs">0</tspan></text>
<text font-size="23" x="117.92" y="823.4"><tspan textLength="13.37" lengthAdjust="spacingAndGlyphs">4</tspan><tspan textLength="15.61" lengthAdjust="spacingAndGlyphs">0</tspan></text>
<text font-size="23" x="117.92" y="884.65"><tspan textLength="13.37" lengthAdjust="spacingAndGlyphs">2</tspan><tspan textLength="15.61" lengthAdjust="spacingAndGlyphs">0</tspan></text>
<text font-size="23" x="131.29" y="946.15" textLength="15.61" lengthAdjust="spacingAndGlyphs">0</text>
<text font-size="27.6" x="-1.39" y="0" transform="translate(83.8 882.5) rotate(-90)" textLength="54.57" lengthAdjust="spacingAndGlyphs">CD8</text>
<text font-size="16" x="-0.85" y="0" transform="translate(73 827.5) rotate(-90)" textLength="10.22" lengthAdjust="spacingAndGlyphs">+</text>
<text font-size="27.6" x="-0.61" y="0" transform="translate(83.8 813) rotate(-90)" textLength="128.8" lengthAdjust="spacingAndGlyphs">T cells (%)</text>
<path d="M198.5 772V824.5M189.9 772h17.2M189.9 824.5h17.2M182.2 798.75h32.6M247.5 746.25V795.75M238.9 746.25h17.2M238.9 795.75h17.2M231.2 770.5h32.6M296.25 709.25V776M287.65 709.25h17.2M287.65 776h17.2M279.95 742.5h32.6M393.75 747.75V801.25M385.15 747.75h17.2M385.15 801.25h17.2M377.45 774.25h32.6M442.75 775.5V825.25M434.15 775.5h17.2M434.15 825.25h17.2M426.45 800.25h32.6M491.5 794.25V860.75M482.9 794.25h17.2M482.9 860.75h17.2M475.2 827.5h32.6" fill="none" stroke="#111" stroke-width="1.45"/>
<path d="M192.95 767.5a5.8 5.8 0 1 0 11.6 0a5.8 5.8 0 1 0 -11.6 0zM203.7 785a5.8 5.8 0 1 0 11.6 0a5.8 5.8 0 1 0 -11.6 0zM182.45 788.25a5.8 5.8 0 1 0 11.6 0a5.8 5.8 0 1 0 -11.6 0zM203.7 821.25a5.8 5.8 0 1 0 11.6 0a5.8 5.8 0 1 0 -11.6 0zM182.45 830a5.8 5.8 0 1 0 11.6 0a5.8 5.8 0 1 0 -11.6 0z" fill="#ababab"/>
<path d="M231.2 753.25a5.8 5.8 0 1 0 11.6 0a5.8 5.8 0 1 0 -11.6 0zM241.7 752a5.8 5.8 0 1 0 11.6 0a5.8 5.8 0 1 0 -11.6 0zM252.2 754a5.8 5.8 0 1 0 11.6 0a5.8 5.8 0 1 0 -11.6 0zM236.2 799.25a5.8 5.8 0 1 0 11.6 0a5.8 5.8 0 1 0 -11.6 0zM246.7 795.75a5.8 5.8 0 1 0 11.6 0a5.8 5.8 0 1 0 -11.6 0z" fill="#fc9090"/>
<path d="M290.45 685.25a5.8 5.8 0 1 0 11.6 0a5.8 5.8 0 1 0 -11.6 0zM300.95 746.25a5.8 5.8 0 1 0 11.6 0a5.8 5.8 0 1 0 -11.6 0zM279.95 750.75a5.8 5.8 0 1 0 11.6 0a5.8 5.8 0 1 0 -11.6 0zM300.95 764.25a5.8 5.8 0 1 0 11.6 0a5.8 5.8 0 1 0 -11.6 0zM279.95 767a5.8 5.8 0 1 0 11.6 0a5.8 5.8 0 1 0 -11.6 0z" fill="#c36fe1"/>
<path d="M377.95 742.5a5.8 5.8 0 1 0 11.6 0a5.8 5.8 0 1 0 -11.6 0zM398.45 750a5.8 5.8 0 1 0 11.6 0a5.8 5.8 0 1 0 -11.6 0zM377.95 787a5.8 5.8 0 1 0 11.6 0a5.8 5.8 0 1 0 -11.6 0zM398.45 787.5a5.8 5.8 0 1 0 11.6 0a5.8 5.8 0 1 0 -11.6 0zM387.95 805.75a5.8 5.8 0 1 0 11.6 0a5.8 5.8 0 1 0 -11.6 0z" fill="#ababab"/>
<path d="M426.7 771.75a5.8 5.8 0 1 0 11.6 0a5.8 5.8 0 1 0 -11.6 0zM437.2 774.5a5.8 5.8 0 1 0 11.6 0a5.8 5.8 0 1 0 -11.6 0zM426.7 820.75a5.8 5.8 0 1 0 11.6 0a5.8 5.8 0 1 0 -11.6 0zM437.2 817.5a5.8 5.8 0 1 0 11.6 0a5.8 5.8 0 1 0 -11.6 0zM447.45 817.5a5.8 5.8 0 1 0 11.6 0a5.8 5.8 0 1 0 -11.6 0z" fill="#fc9090"/>
<path d="M475.45 803a5.8 5.8 0 1 0 11.6 0a5.8 5.8 0 1 0 -11.6 0zM495.95 806.25a5.8 5.8 0 1 0 11.6 0a5.8 5.8 0 1 0 -11.6 0zM475.45 819.5a5.8 5.8 0 1 0 11.6 0a5.8 5.8 0 1 0 -11.6 0zM495.95 824.25a5.8 5.8 0 1 0 11.6 0a5.8 5.8 0 1 0 -11.6 0zM485.7 885a5.8 5.8 0 1 0 11.6 0a5.8 5.8 0 1 0 -11.6 0z" fill="#c36fe1"/>
<line x1="182.5" y1="670" x2="312" y2="670" stroke="#5a5a5a" stroke-width="1.2"/>
<text font-size="23" x="217.64" y="665" fill="#5c5c5c"><tspan textLength="15.61" lengthAdjust="spacingAndGlyphs">0</tspan><tspan textLength="6.68" lengthAdjust="spacingAndGlyphs">.</tspan><tspan textLength="15.61" lengthAdjust="spacingAndGlyphs">0</tspan><tspan textLength="26.73" lengthAdjust="spacingAndGlyphs">25</tspan></text>
<line x1="182.5" y1="698.25" x2="263.75" y2="698.25" stroke="#5a5a5a" stroke-width="1.2"/>
<text font-size="23" x="193.87" y="693" fill="#5c5c5c"><tspan textLength="15.61" lengthAdjust="spacingAndGlyphs">0</tspan><tspan textLength="6.68" lengthAdjust="spacingAndGlyphs">.</tspan><tspan textLength="31.21" lengthAdjust="spacingAndGlyphs">00</tspan><tspan textLength="13.37" lengthAdjust="spacingAndGlyphs">4</tspan></text>
<line x1="377.5" y1="670" x2="507.5" y2="670" stroke="#5a5a5a" stroke-width="1.2"/>
<text font-size="23" x="413.92" y="665" fill="#5c5c5c"><tspan textLength="15.61" lengthAdjust="spacingAndGlyphs">0</tspan><tspan textLength="6.68" lengthAdjust="spacingAndGlyphs">.</tspan><tspan textLength="15.61" lengthAdjust="spacingAndGlyphs">0</tspan><tspan textLength="26.73" lengthAdjust="spacingAndGlyphs">33</tspan></text>
<line x1="377.5" y1="698.25" x2="458.75" y2="698.25" stroke="#5a5a5a" stroke-width="1.2"/>
<text font-size="23" x="388.87" y="693" fill="#5c5c5c"><tspan textLength="15.61" lengthAdjust="spacingAndGlyphs">0</tspan><tspan textLength="6.68" lengthAdjust="spacingAndGlyphs">.</tspan><tspan textLength="31.21" lengthAdjust="spacingAndGlyphs">00</tspan><tspan textLength="13.37" lengthAdjust="spacingAndGlyphs">4</tspan></text>
<text font-size="27.6" x="-92.63" y="0" transform="translate(208.5 968.25) rotate(-45)" textLength="93.9" lengthAdjust="spacingAndGlyphs">Vehicle</text>
<text font-size="27.6" x="-84.29" y="0" transform="translate(259.75 968.25) rotate(-45)" textLength="85.52" lengthAdjust="spacingAndGlyphs">ML226</text>
<text font-size="27.6" x="-109.79" y="0" transform="translate(309.75 968.25) rotate(-45)" textLength="111.88" lengthAdjust="spacingAndGlyphs">DM-2OG</text>
<text font-size="27.6" x="-92.63" y="0" transform="translate(403.75 968.25) rotate(-45)" textLength="93.9" lengthAdjust="spacingAndGlyphs">Vehicle</text>
<text font-size="27.6" x="-84.29" y="0" transform="translate(455 968.25) rotate(-45)" textLength="85.52" lengthAdjust="spacingAndGlyphs">ML226</text>
<text font-size="27.6" x="-109.79" y="0" transform="translate(505 968.25) rotate(-45)" textLength="111.88" lengthAdjust="spacingAndGlyphs">DM-2OG</text>
<line x1="172" y1="1054.5" x2="322.5" y2="1054.5" stroke="#1a1a1a" stroke-width="1.3"/>
<line x1="366.25" y1="1054.5" x2="517" y2="1054.5" stroke="#1a1a1a" stroke-width="1.3"/>
<text font-size="27.6" x="191.65" y="1089.5" textLength="72.18" lengthAdjust="spacingAndGlyphs">CCR7</text>
<text font-size="20" x="263.05" y="1077" textLength="39.61" lengthAdjust="spacingAndGlyphs">high</text>
<text font-size="27.6" x="172.41" y="1121.8" textLength="110.9" lengthAdjust="spacingAndGlyphs">CD45RO</text>
<text font-size="20" x="282.32" y="1109.6" textLength="40.37" lengthAdjust="spacingAndGlyphs">high</text>
<text font-size="27.6" x="192.65" y="1154.5" textLength="109.19" lengthAdjust="spacingAndGlyphs">(central)</text>
<text font-size="27.6" x="389.46" y="1089.5" textLength="71.87" lengthAdjust="spacingAndGlyphs">CCR7</text>
<text font-size="20" x="460.59" y="1077" textLength="31.36" lengthAdjust="spacingAndGlyphs">low</text>
<text font-size="27.6" x="366.61" y="1121.8" textLength="111" lengthAdjust="spacingAndGlyphs">CD45RO</text>
<text font-size="20" x="476.52" y="1109.6" textLength="40.37" lengthAdjust="spacingAndGlyphs">high</text>
<text font-size="27.6" x="381.96" y="1154.5" textLength="118.68" lengthAdjust="spacingAndGlyphs">(effector)</text>
<text font-size="27.6" x="35.92" y="1105.5" textLength="104.94" lengthAdjust="spacingAndGlyphs">Memory</text>
<text font-size="27.6" x="2.57" y="1137.5" textLength="139.55" lengthAdjust="spacingAndGlyphs">phenotype</text>
<text font-size="27.6" x="746.9" y="574.8"><tspan textLength="52.52" lengthAdjust="spacingAndGlyphs">Day </tspan><tspan textLength="20.26" lengthAdjust="spacingAndGlyphs" stroke="#000" stroke-width="0.58">11</tspan></text>
<text font-size="27.6" x="-122.11" y="0" transform="translate(635 783.5) rotate(-90)" textLength="243.14" lengthAdjust="spacingAndGlyphs">Mean fluorescence</text>
<text font-size="27.6" x="-1.87" y="0" transform="translate(666.3 905) rotate(-90)"><tspan textLength="198.33" lengthAdjust="spacingAndGlyphs">intensity (a.u., ×</tspan><tspan textLength="10.13" lengthAdjust="spacingAndGlyphs" stroke="#000" stroke-width="0.58">1</tspan><tspan textLength="18.73" lengthAdjust="spacingAndGlyphs">0</tspan></text>
<text font-size="16" x="-0.41" y="0" transform="translate(655 678.5) rotate(-90)" textLength="9.93" lengthAdjust="spacingAndGlyphs">4</text>
<text font-size="27.6" x="-0.13" y="0" transform="translate(666.3 667.8) rotate(-90)" textLength="7.54" lengthAdjust="spacingAndGlyphs">)</text>
<text font-size="27.6" x="746.68" y="610.7" textLength="70.93" lengthAdjust="spacingAndGlyphs">CCR7</text>
<path d="M748.25 630.25V936.75M739.25 936.75H924.25M739.25 630.25H748.25M739.25 706.75H748.25M739.25 783.25H748.25M739.25 860H748.25M782.5 936.75v9M835.5 936.75v9M888.75 936.75v9" fill="none" stroke="#000" stroke-width="1.45"/>
<text font-size="23" x="692.95" y="640.35"><tspan textLength="20.04" lengthAdjust="spacingAndGlyphs">2.</tspan><tspan textLength="15.61" lengthAdjust="spacingAndGlyphs">0</tspan></text>
<text font-size="23" x="700.02" y="715.45"><tspan textLength="8.44" lengthAdjust="spacingAndGlyphs" stroke="#000" stroke-width="0.48">1</tspan><tspan textLength="20.04" lengthAdjust="spacingAndGlyphs">.5</tspan></text>
<text font-size="23" x="697.87" y="791.95"><tspan textLength="8.44" lengthAdjust="spacingAndGlyphs" stroke="#000" stroke-width="0.48">1</tspan><tspan textLength="6.68" lengthAdjust="spacingAndGlyphs">.</tspan><tspan textLength="15.61" lengthAdjust="spacingAndGlyphs">0</tspan></text>
<text font-size="23" x="692.86" y="868.7"><tspan textLength="15.61" lengthAdjust="spacingAndGlyphs">0</tspan><tspan textLength="20.04" lengthAdjust="spacingAndGlyphs">.5</tspan></text>
<text font-size="23" x="712.99" y="945.45" textLength="15.61" lengthAdjust="spacingAndGlyphs">0</text>
<path d="M782.5 840.5V887.5M773.5 840.5h18M773.5 887.5h18M764.7 863.75h35.6M835.5 830.75V865.5M826.5 830.75h18M826.5 865.5h18M817.7 848.25h35.6M888.75 751.75V855.75M879.75 751.75h18M879.75 855.75h18M870.95 803.5h35.6" fill="none" stroke="#111" stroke-width="1.45"/>
<path d="M777.45 833.25a5.8 5.8 0 1 0 11.6 0a5.8 5.8 0 1 0 -11.6 0zM765.45 856.25a5.8 5.8 0 1 0 11.6 0a5.8 5.8 0 1 0 -11.6 0zM789.2 855.75a5.8 5.8 0 1 0 11.6 0a5.8 5.8 0 1 0 -11.6 0zM789.2 884.5a5.8 5.8 0 1 0 11.6 0a5.8 5.8 0 1 0 -11.6 0zM765.45 890.5a5.8 5.8 0 1 0 11.6 0a5.8 5.8 0 1 0 -11.6 0z" fill="#ababab"/>
<path d="M818.45 828a5.8 5.8 0 1 0 11.6 0a5.8 5.8 0 1 0 -11.6 0zM842.2 838a5.8 5.8 0 1 0 11.6 0a5.8 5.8 0 1 0 -11.6 0zM818.45 843a5.8 5.8 0 1 0 11.6 0a5.8 5.8 0 1 0 -11.6 0zM842.2 863a5.8 5.8 0 1 0 11.6 0a5.8 5.8 0 1 0 -11.6 0zM818.45 870a5.8 5.8 0 1 0 11.6 0a5.8 5.8 0 1 0 -11.6 0z" fill="#fc9090"/>
<path d="M882.95 712.5a5.8 5.8 0 1 0 11.6 0a5.8 5.8 0 1 0 -11.6 0zM882.95 814.25a5.8 5.8 0 1 0 11.6 0a5.8 5.8 0 1 0 -11.6 0zM871.2 835.5a5.8 5.8 0 1 0 11.6 0a5.8 5.8 0 1 0 -11.6 0zM882.95 827.5a5.8 5.8 0 1 0 11.6 0a5.8 5.8 0 1 0 -11.6 0zM894.95 830.5a5.8 5.8 0 1 0 11.6 0a5.8 5.8 0 1 0 -11.6 0z" fill="#c36fe1"/>
<line x1="765" y1="695" x2="905" y2="695" stroke="#5a5a5a" stroke-width="1.2"/>
<text font-size="23" x="803.14" y="691.25" fill="#5c5c5c"><tspan textLength="15.61" lengthAdjust="spacingAndGlyphs">0</tspan><tspan textLength="6.68" lengthAdjust="spacingAndGlyphs">.</tspan><tspan textLength="15.61" lengthAdjust="spacingAndGlyphs">0</tspan><tspan textLength="26.73" lengthAdjust="spacingAndGlyphs">95</tspan></text>
<line x1="765" y1="723.25" x2="853" y2="723.25" stroke="#5a5a5a" stroke-width="1.2"/>
<text font-size="23" x="778.96" y="720.5" fill="#5c5c5c"><tspan textLength="15.61" lengthAdjust="spacingAndGlyphs">0</tspan><tspan textLength="6.68" lengthAdjust="spacingAndGlyphs">.</tspan><tspan textLength="15.61" lengthAdjust="spacingAndGlyphs">0</tspan><tspan textLength="8.44" lengthAdjust="spacingAndGlyphs" stroke="#5c5c5c" stroke-width="0.48">1</tspan><tspan textLength="13.37" lengthAdjust="spacingAndGlyphs">2</tspan></text>
<text font-size="27.6" x="-92.63" y="0" transform="translate(792.5 967.25) rotate(-45)" textLength="93.9" lengthAdjust="spacingAndGlyphs">Vehicle</text>
<text font-size="27.6" x="-84.29" y="0" transform="translate(848 967.25) rotate(-45)" textLength="85.52" lengthAdjust="spacingAndGlyphs">ML226</text>
<text font-size="27.6" x="-109.79" y="0" transform="translate(902.25 967.25) rotate(-45)" textLength="111.88" lengthAdjust="spacingAndGlyphs">DM-2OG</text>
<text font-size="27.6" x="991.6" y="610.7" textLength="111.72" lengthAdjust="spacingAndGlyphs">CD45RO</text>
<path d="M994.5 630.25V936.75M985.5 936.75H1170.25M985.5 630.25H994.5M985.5 706.75H994.5M985.5 783.25H994.5M985.5 860H994.5M1029.25 936.75v9M1082.25 936.75v9M1135.5 936.75v9" fill="none" stroke="#000" stroke-width="1.45"/>
<text font-size="23" x="961.93" y="640.35" textLength="13.37" lengthAdjust="spacingAndGlyphs">8</text>
<text font-size="23" x="961.94" y="715.45" textLength="13.37" lengthAdjust="spacingAndGlyphs">6</text>
<text font-size="23" x="961.59" y="791.95" textLength="13.37" lengthAdjust="spacingAndGlyphs">4</text>
<text font-size="23" x="962.09" y="868.7" textLength="13.37" lengthAdjust="spacingAndGlyphs">2</text>
<text font-size="23" x="959.74" y="945.45" textLength="15.61" lengthAdjust="spacingAndGlyphs">0</text>
<path d="M1029.25 746.25V794.5M1020.25 746.25h18M1020.25 794.5h18M1011.45 770.75h35.6M1082.25 729.25V769.5M1073.25 729.25h18M1073.25 769.5h18M1064.45 749.25h35.6M1135.5 670.3V708M1126.5 670.3h18M1126.5 708h18M1117.7 689h35.6" fill="none" stroke="#111" stroke-width="1.45"/>
<path d="M1011.7 747.25a5.8 5.8 0 1 0 11.6 0a5.8 5.8 0 1 0 -11.6 0zM1035.45 751.75a5.8 5.8 0 1 0 11.6 0a5.8 5.8 0 1 0 -11.6 0zM1011.7 771.75a5.8 5.8 0 1 0 11.6 0a5.8 5.8 0 1 0 -11.6 0zM1035.45 773.75a5.8 5.8 0 1 0 11.6 0a5.8 5.8 0 1 0 -11.6 0zM1023.7 808.25a5.8 5.8 0 1 0 11.6 0a5.8 5.8 0 1 0 -11.6 0z" fill="#ababab"/>
<path d="M1076.45 731.25a5.8 5.8 0 1 0 11.6 0a5.8 5.8 0 1 0 -11.6 0zM1064.7 740a5.8 5.8 0 1 0 11.6 0a5.8 5.8 0 1 0 -11.6 0zM1088.45 743.25a5.8 5.8 0 1 0 11.6 0a5.8 5.8 0 1 0 -11.6 0zM1076.45 750a5.8 5.8 0 1 0 11.6 0a5.8 5.8 0 1 0 -11.6 0zM1076.45 783.75a5.8 5.8 0 1 0 11.6 0a5.8 5.8 0 1 0 -11.6 0z" fill="#fc9090"/>
<path d="M1141.2 667a5.8 5.8 0 1 0 11.6 0a5.8 5.8 0 1 0 -11.6 0zM1117.6 673.8a5.8 5.8 0 1 0 11.6 0a5.8 5.8 0 1 0 -11.6 0zM1117.6 691.4a5.8 5.8 0 1 0 11.6 0a5.8 5.8 0 1 0 -11.6 0zM1141.2 702a5.8 5.8 0 1 0 11.6 0a5.8 5.8 0 1 0 -11.6 0zM1117.6 711.2a5.8 5.8 0 1 0 11.6 0a5.8 5.8 0 1 0 -11.6 0z" fill="#c36fe1"/>
<line x1="1012" y1="823.25" x2="1099.25" y2="823.25" stroke="#5a5a5a" stroke-width="1.2"/>
<text font-size="23" x="1025.71" y="844.25" fill="#5c5c5c"><tspan textLength="15.61" lengthAdjust="spacingAndGlyphs">0</tspan><tspan textLength="6.68" lengthAdjust="spacingAndGlyphs">.</tspan><tspan textLength="15.61" lengthAdjust="spacingAndGlyphs">0</tspan><tspan textLength="8.44" lengthAdjust="spacingAndGlyphs" stroke="#5c5c5c" stroke-width="0.48">1</tspan><tspan textLength="13.37" lengthAdjust="spacingAndGlyphs">2</tspan></text>
<line x1="1012" y1="852.75" x2="1151.5" y2="852.75" stroke="#5a5a5a" stroke-width="1.2"/>
<text font-size="23" x="1048.87" y="873.25" fill="#5c5c5c"><tspan textLength="15.61" lengthAdjust="spacingAndGlyphs">0</tspan><tspan textLength="6.68" lengthAdjust="spacingAndGlyphs">.</tspan><tspan textLength="31.21" lengthAdjust="spacingAndGlyphs">00</tspan><tspan textLength="13.37" lengthAdjust="spacingAndGlyphs">4</tspan></text>
<text font-size="27.6" x="-92.63" y="0" transform="translate(1039.25 967.25) rotate(-45)" textLength="93.9" lengthAdjust="spacingAndGlyphs">Vehicle</text>
<text font-size="27.6" x="-84.29" y="0" transform="translate(1094.75 967.25) rotate(-45)" textLength="85.52" lengthAdjust="spacingAndGlyphs">ML226</text>
<text font-size="27.6" x="-109.79" y="0" transform="translate(1149 967.25) rotate(-45)" textLength="111.88" lengthAdjust="spacingAndGlyphs">DM-2OG</text>
<text font-size="27.6" x="1236.44" y="610.7" textLength="105.61" lengthAdjust="spacingAndGlyphs">CD45RA</text>
<path d="M1238.75 630.25V936.75M1229.75 936.75H1414.5M1229.75 630.25H1238.75M1229.75 732H1238.75M1229.75 834.5H1238.75M1272.75 936.75v9M1326 936.75v9M1379 936.75v9" fill="none" stroke="#000" stroke-width="1.45"/>
<text font-size="23" x="1204.69" y="640.35" textLength="13.37" lengthAdjust="spacingAndGlyphs">6</text>
<text font-size="23" x="1204.34" y="740.7" textLength="13.37" lengthAdjust="spacingAndGlyphs">4</text>
<text font-size="23" x="1204.84" y="843.2" textLength="13.37" lengthAdjust="spacingAndGlyphs">2</text>
<text font-size="23" x="1202.49" y="945.45" textLength="15.61" lengthAdjust="spacingAndGlyphs">0</text>
<path d="M1273 681V799.25M1264 681h18M1264 799.25h18M1255.2 739.5h35.6M1326.2 738V821.75M1317.2 738h18M1317.2 821.75h18M1308.4 779.5h35.6M1379.2 787V840.25M1370.2 787h18M1370.2 840.25h18M1361.4 813.5h35.6" fill="none" stroke="#111" stroke-width="1.45"/>
<path d="M1267.7 650.75a5.8 5.8 0 1 0 11.6 0a5.8 5.8 0 1 0 -11.6 0zM1267.7 722.5a5.8 5.8 0 1 0 11.6 0a5.8 5.8 0 1 0 -11.6 0zM1267.7 744.5a5.8 5.8 0 1 0 11.6 0a5.8 5.8 0 1 0 -11.6 0zM1267.7 777a5.8 5.8 0 1 0 11.6 0a5.8 5.8 0 1 0 -11.6 0zM1267.7 805.75a5.8 5.8 0 1 0 11.6 0a5.8 5.8 0 1 0 -11.6 0z" fill="#ababab"/>
<path d="M1320.4 718.25a5.8 5.8 0 1 0 11.6 0a5.8 5.8 0 1 0 -11.6 0zM1320.4 766.5a5.8 5.8 0 1 0 11.6 0a5.8 5.8 0 1 0 -11.6 0zM1320.4 785a5.8 5.8 0 1 0 11.6 0a5.8 5.8 0 1 0 -11.6 0zM1320.4 798a5.8 5.8 0 1 0 11.6 0a5.8 5.8 0 1 0 -11.6 0zM1320.4 832a5.8 5.8 0 1 0 11.6 0a5.8 5.8 0 1 0 -11.6 0z" fill="#fc9090"/>
<path d="M1361.7 788a5.8 5.8 0 1 0 11.6 0a5.8 5.8 0 1 0 -11.6 0zM1385.2 788a5.8 5.8 0 1 0 11.6 0a5.8 5.8 0 1 0 -11.6 0zM1361.7 817.5a5.8 5.8 0 1 0 11.6 0a5.8 5.8 0 1 0 -11.6 0zM1385.2 823.75a5.8 5.8 0 1 0 11.6 0a5.8 5.8 0 1 0 -11.6 0zM1373.45 850.75a5.8 5.8 0 1 0 11.6 0a5.8 5.8 0 1 0 -11.6 0z" fill="#c36fe1"/>
<line x1="1256.25" y1="849.5" x2="1342.75" y2="849.5" stroke="#5a5a5a" stroke-width="1.2"/>
<text font-size="23" x="1269.45" y="870.5" fill="#5c5c5c"><tspan textLength="15.61" lengthAdjust="spacingAndGlyphs">0</tspan><tspan textLength="6.68" lengthAdjust="spacingAndGlyphs">.</tspan><tspan textLength="15.61" lengthAdjust="spacingAndGlyphs">0</tspan><tspan textLength="8.44" lengthAdjust="spacingAndGlyphs" stroke="#5c5c5c" stroke-width="0.48">1</tspan><tspan textLength="13.37" lengthAdjust="spacingAndGlyphs">4</tspan></text>
<line x1="1256.25" y1="878.5" x2="1395.75" y2="878.5" stroke="#5a5a5a" stroke-width="1.2"/>
<text font-size="23" x="1294.24" y="899.5" fill="#5c5c5c"><tspan textLength="15.61" lengthAdjust="spacingAndGlyphs">0</tspan><tspan textLength="6.68" lengthAdjust="spacingAndGlyphs">.</tspan><tspan textLength="15.61" lengthAdjust="spacingAndGlyphs">0</tspan><tspan textLength="26.73" lengthAdjust="spacingAndGlyphs">87</tspan></text>
<text font-size="27.6" x="-92.63" y="0" transform="translate(1282.75 967.25) rotate(-45)" textLength="93.9" lengthAdjust="spacingAndGlyphs">Vehicle</text>
<text font-size="27.6" x="-84.29" y="0" transform="translate(1338.5 967.25) rotate(-45)" textLength="85.52" lengthAdjust="spacingAndGlyphs">ML226</text>
<text font-size="27.6" x="-109.79" y="0" transform="translate(1392.5 967.25) rotate(-45)" textLength="111.88" lengthAdjust="spacingAndGlyphs">DM-2OG</text>
<text font-size="27.6" x="1481.36" y="610.7" textLength="72.32" lengthAdjust="spacingAndGlyphs">CD95</text>
<path d="M1483.75 630.25V936.75M1474.75 936.75H1659M1474.75 630.25H1483.75M1474.75 691.25H1483.75M1474.75 752.5H1483.75M1474.75 814H1483.75M1474.75 875.25H1483.75M1517.75 936.75v9M1570.75 936.75v9M1624 936.75v9" fill="none" stroke="#000" stroke-width="1.45"/>
<text font-size="23" x="1439.05" y="640.35"><tspan textLength="8.44" lengthAdjust="spacingAndGlyphs" stroke="#000" stroke-width="0.48">1</tspan><tspan textLength="15.61" lengthAdjust="spacingAndGlyphs">0</tspan></text>
<text font-size="23" x="1449.68" y="699.95" textLength="13.37" lengthAdjust="spacingAndGlyphs">8</text>
<text font-size="23" x="1449.69" y="761.2" textLength="13.37" lengthAdjust="spacingAndGlyphs">6</text>
<text font-size="23" x="1449.34" y="822.7" textLength="13.37" lengthAdjust="spacingAndGlyphs">4</text>
<text font-size="23" x="1449.84" y="883.95" textLength="13.37" lengthAdjust="spacingAndGlyphs">2</text>
<text font-size="23" x="1447.49" y="945.45" textLength="15.61" lengthAdjust="spacingAndGlyphs">0</text>
<path d="M1518 708.5V769.25M1509 708.5h18M1509 769.25h18M1500.2 738.25h35.6M1571 680.75V738.25M1562 680.75h18M1562 738.25h18M1553.2 709.5h35.6M1624 669.5V740.25M1615 669.5h18M1615 740.25h18M1606.2 705h35.6" fill="none" stroke="#111" stroke-width="1.45"/>
<path d="M1500.7 701.75a5.8 5.8 0 1 0 11.6 0a5.8 5.8 0 1 0 -11.6 0zM1512.45 711.25a5.8 5.8 0 1 0 11.6 0a5.8 5.8 0 1 0 -11.6 0zM1512.45 755.75a5.8 5.8 0 1 0 11.6 0a5.8 5.8 0 1 0 -11.6 0zM1524.2 760.25a5.8 5.8 0 1 0 11.6 0a5.8 5.8 0 1 0 -11.6 0zM1500.7 765.25a5.8 5.8 0 1 0 11.6 0a5.8 5.8 0 1 0 -11.6 0z" fill="#ababab"/>
<path d="M1553.2 680.25a5.8 5.8 0 1 0 11.6 0a5.8 5.8 0 1 0 -11.6 0zM1576.95 682.5a5.8 5.8 0 1 0 11.6 0a5.8 5.8 0 1 0 -11.6 0zM1565.2 707.5a5.8 5.8 0 1 0 11.6 0a5.8 5.8 0 1 0 -11.6 0zM1576.95 735a5.8 5.8 0 1 0 11.6 0a5.8 5.8 0 1 0 -11.6 0zM1553.2 743.5a5.8 5.8 0 1 0 11.6 0a5.8 5.8 0 1 0 -11.6 0z" fill="#fc9090"/>
<path d="M1618.2 657a5.8 5.8 0 1 0 11.6 0a5.8 5.8 0 1 0 -11.6 0zM1618.2 677.25a5.8 5.8 0 1 0 11.6 0a5.8 5.8 0 1 0 -11.6 0zM1618.2 726.5a5.8 5.8 0 1 0 11.6 0a5.8 5.8 0 1 0 -11.6 0zM1606.2 732.5a5.8 5.8 0 1 0 11.6 0a5.8 5.8 0 1 0 -11.6 0zM1629.95 731.5a5.8 5.8 0 1 0 11.6 0a5.8 5.8 0 1 0 -11.6 0z" fill="#c36fe1"/>
<line x1="1500.75" y1="780" x2="1587.75" y2="780" stroke="#5a5a5a" stroke-width="1.2"/>
<text font-size="23" x="1512.24" y="801.25" fill="#5c5c5c"><tspan textLength="15.61" lengthAdjust="spacingAndGlyphs">0</tspan><tspan textLength="6.68" lengthAdjust="spacingAndGlyphs">.</tspan><tspan textLength="15.61" lengthAdjust="spacingAndGlyphs">0</tspan><tspan textLength="26.73" lengthAdjust="spacingAndGlyphs">22</tspan></text>
<line x1="1500.75" y1="809" x2="1640.25" y2="809" stroke="#5a5a5a" stroke-width="1.2"/>
<text font-size="23" x="1537.38" y="830" fill="#5c5c5c"><tspan textLength="15.61" lengthAdjust="spacingAndGlyphs">0</tspan><tspan textLength="6.68" lengthAdjust="spacingAndGlyphs">.</tspan><tspan textLength="31.21" lengthAdjust="spacingAndGlyphs">00</tspan><tspan textLength="13.37" lengthAdjust="spacingAndGlyphs">7</tspan></text>
<text font-size="27.6" x="-92.63" y="0" transform="translate(1527.75 967.25) rotate(-45)" textLength="93.9" lengthAdjust="spacingAndGlyphs">Vehicle</text>
<text font-size="27.6" x="-84.29" y="0" transform="translate(1583.25 967.25) rotate(-45)" textLength="85.52" lengthAdjust="spacingAndGlyphs">ML226</text>
<text font-size="27.6" x="-109.79" y="0" transform="translate(1637.5 967.25) rotate(-45)" textLength="111.88" lengthAdjust="spacingAndGlyphs">DM-2OG</text>
<text font-size="27.6" x="1723.93" y="610.7" textLength="68.92" lengthAdjust="spacingAndGlyphs">CD27</text>
<path d="M1726 630.25V936.75M1717 936.75H1901.75M1717 658H1726M1717 727.5H1726M1717 797.25H1726M1717 867H1726M1760.5 936.75v9M1813.5 936.75v9M1866.5 936.75v9" fill="none" stroke="#000" stroke-width="1.45"/>
<text font-size="23" x="1676.12" y="666.7"><tspan textLength="13.37" lengthAdjust="spacingAndGlyphs">2</tspan><tspan textLength="15.61" lengthAdjust="spacingAndGlyphs">0</tspan></text>
<text font-size="23" x="1683.2" y="736.2"><tspan textLength="8.44" lengthAdjust="spacingAndGlyphs" stroke="#000" stroke-width="0.48">1</tspan><tspan textLength="13.37" lengthAdjust="spacingAndGlyphs">5</tspan></text>
<text font-size="23" x="1681.05" y="805.95"><tspan textLength="8.44" lengthAdjust="spacingAndGlyphs" stroke="#000" stroke-width="0.48">1</tspan><tspan textLength="15.61" lengthAdjust="spacingAndGlyphs">0</tspan></text>
<text font-size="23" x="1691.64" y="875.7" textLength="13.37" lengthAdjust="spacingAndGlyphs">5</text>
<text font-size="23" x="1689.49" y="945.45" textLength="15.61" lengthAdjust="spacingAndGlyphs">0</text>
<path d="M1761 696.5V753.25M1752 696.5h18M1752 753.25h18M1743.2 724.75h35.6M1813.75 694.75V758.5M1804.75 694.75h18M1804.75 758.5h18M1795.95 726.75h35.6M1866.75 683.25V770.75M1857.75 683.25h18M1857.75 770.75h18M1848.95 726.75h35.6" fill="none" stroke="#111" stroke-width="1.45"/>
<path d="M1755.2 689.25a5.8 5.8 0 1 0 11.6 0a5.8 5.8 0 1 0 -11.6 0zM1755.2 702.5a5.8 5.8 0 1 0 11.6 0a5.8 5.8 0 1 0 -11.6 0zM1755.2 731.5a5.8 5.8 0 1 0 11.6 0a5.8 5.8 0 1 0 -11.6 0zM1743.2 752a5.8 5.8 0 1 0 11.6 0a5.8 5.8 0 1 0 -11.6 0zM1766.95 750.5a5.8 5.8 0 1 0 11.6 0a5.8 5.8 0 1 0 -11.6 0z" fill="#ababab"/>
<path d="M1807.95 687a5.8 5.8 0 1 0 11.6 0a5.8 5.8 0 1 0 -11.6 0zM1807.95 701a5.8 5.8 0 1 0 11.6 0a5.8 5.8 0 1 0 -11.6 0zM1796.2 738.25a5.8 5.8 0 1 0 11.6 0a5.8 5.8 0 1 0 -11.6 0zM1819.7 745.75a5.8 5.8 0 1 0 11.6 0a5.8 5.8 0 1 0 -11.6 0zM1807.95 762a5.8 5.8 0 1 0 11.6 0a5.8 5.8 0 1 0 -11.6 0z" fill="#fc9090"/>
<path d="M1860.95 659.75a5.8 5.8 0 1 0 11.6 0a5.8 5.8 0 1 0 -11.6 0zM1848.95 729.5a5.8 5.8 0 1 0 11.6 0a5.8 5.8 0 1 0 -11.6 0zM1860.95 733a5.8 5.8 0 1 0 11.6 0a5.8 5.8 0 1 0 -11.6 0zM1872.7 730a5.8 5.8 0 1 0 11.6 0a5.8 5.8 0 1 0 -11.6 0zM1860.95 783a5.8 5.8 0 1 0 11.6 0a5.8 5.8 0 1 0 -11.6 0z" fill="#c36fe1"/>
<line x1="1743.5" y1="849.5" x2="1830.5" y2="849.5" stroke="#5a5a5a" stroke-width="1.2"/>
<text font-size="23" x="1756.72" y="870.5" fill="#5c5c5c"><tspan textLength="15.61" lengthAdjust="spacingAndGlyphs">0</tspan><tspan textLength="20.04" lengthAdjust="spacingAndGlyphs">.8</tspan><tspan textLength="15.61" lengthAdjust="spacingAndGlyphs">0</tspan><tspan textLength="8.44" lengthAdjust="spacingAndGlyphs" stroke="#5c5c5c" stroke-width="0.48">1</tspan></text>
<line x1="1743.5" y1="878.5" x2="1883" y2="878.5" stroke="#5a5a5a" stroke-width="1.2"/>
<text font-size="23" x="1782.86" y="899.5" fill="#5c5c5c"><tspan textLength="15.61" lengthAdjust="spacingAndGlyphs">0</tspan><tspan textLength="46.78" lengthAdjust="spacingAndGlyphs">.982</tspan></text>
<text font-size="27.6" x="-92.63" y="0" transform="translate(1770.5 967.25) rotate(-45)" textLength="93.9" lengthAdjust="spacingAndGlyphs">Vehicle</text>
<text font-size="27.6" x="-84.29" y="0" transform="translate(1826 967.25) rotate(-45)" textLength="85.52" lengthAdjust="spacingAndGlyphs">ML226</text>
<text font-size="27.6" x="-109.79" y="0" transform="translate(1880 967.25) rotate(-45)" textLength="111.88" lengthAdjust="spacingAndGlyphs">DM-2OG</text>
<text font-size="27.6" x="1998.39" y="610.7" textLength="70.81" lengthAdjust="spacingAndGlyphs">CD28</text>
<path d="M1991.75 630.25V936.75M1982.75 936.75H2168M1982.75 630.25H1991.75M1982.75 691.25H1991.75M1982.75 752.5H1991.75M1982.75 814H1991.75M1982.75 875.25H1991.75M2026.25 936.75v9M2079.25 936.75v9M2132.25 936.75v9" fill="none" stroke="#000" stroke-width="1.45"/>
<text font-size="23" x="1938.1" y="640.35" textLength="33.41" lengthAdjust="spacingAndGlyphs">2.5</text>
<text font-size="23" x="1935.95" y="699.95"><tspan textLength="20.04" lengthAdjust="spacingAndGlyphs">2.</tspan><tspan textLength="15.61" lengthAdjust="spacingAndGlyphs">0</tspan></text>
<text font-size="23" x="1943.02" y="761.2"><tspan textLength="8.44" lengthAdjust="spacingAndGlyphs" stroke="#000" stroke-width="0.48">1</tspan><tspan textLength="20.04" lengthAdjust="spacingAndGlyphs">.5</tspan></text>
<text font-size="23" x="1940.87" y="822.7"><tspan textLength="8.44" lengthAdjust="spacingAndGlyphs" stroke="#000" stroke-width="0.48">1</tspan><tspan textLength="6.68" lengthAdjust="spacingAndGlyphs">.</tspan><tspan textLength="15.61" lengthAdjust="spacingAndGlyphs">0</tspan></text>
<text font-size="23" x="1935.86" y="883.95"><tspan textLength="15.61" lengthAdjust="spacingAndGlyphs">0</tspan><tspan textLength="20.04" lengthAdjust="spacingAndGlyphs">.5</tspan></text>
<text font-size="23" x="1955.99" y="945.45" textLength="15.61" lengthAdjust="spacingAndGlyphs">0</text>
<path d="M2026.6 708V808.25M2017.6 708h18M2017.6 808.25h18M2008.8 758h35.6M2079.5 703.5V822.5M2070.5 703.5h18M2070.5 822.5h18M2061.7 762.75h35.6M2132.5 688.5V800.25M2123.5 688.5h18M2123.5 800.25h18M2114.7 744.25h35.6" fill="none" stroke="#111" stroke-width="1.45"/>
<path d="M2020.95 695.75a5.8 5.8 0 1 0 11.6 0a5.8 5.8 0 1 0 -11.6 0zM2020.95 712.5a5.8 5.8 0 1 0 11.6 0a5.8 5.8 0 1 0 -11.6 0zM2020.95 784.75a5.8 5.8 0 1 0 11.6 0a5.8 5.8 0 1 0 -11.6 0zM2008.95 800.25a5.8 5.8 0 1 0 11.6 0a5.8 5.8 0 1 0 -11.6 0zM2032.45 798a5.8 5.8 0 1 0 11.6 0a5.8 5.8 0 1 0 -11.6 0z" fill="#ababab"/>
<path d="M2061.95 701.5a5.8 5.8 0 1 0 11.6 0a5.8 5.8 0 1 0 -11.6 0zM2085.45 694.75a5.8 5.8 0 1 0 11.6 0a5.8 5.8 0 1 0 -11.6 0zM2061.95 799.5a5.8 5.8 0 1 0 11.6 0a5.8 5.8 0 1 0 -11.6 0zM2085.45 808a5.8 5.8 0 1 0 11.6 0a5.8 5.8 0 1 0 -11.6 0zM2061.95 812.5a5.8 5.8 0 1 0 11.6 0a5.8 5.8 0 1 0 -11.6 0z" fill="#fc9090"/>
<path d="M2126.7 678.75a5.8 5.8 0 1 0 11.6 0a5.8 5.8 0 1 0 -11.6 0zM2126.7 706.75a5.8 5.8 0 1 0 11.6 0a5.8 5.8 0 1 0 -11.6 0zM2126.7 742.75a5.8 5.8 0 1 0 11.6 0a5.8 5.8 0 1 0 -11.6 0zM2126.7 774.25a5.8 5.8 0 1 0 11.6 0a5.8 5.8 0 1 0 -11.6 0zM2126.7 820.5a5.8 5.8 0 1 0 11.6 0a5.8 5.8 0 1 0 -11.6 0z" fill="#c36fe1"/>
<line x1="2009" y1="849.5" x2="2096.5" y2="849.5" stroke="#5a5a5a" stroke-width="1.2"/>
<text font-size="23" x="2020.44" y="870.5" fill="#5c5c5c"><tspan textLength="15.61" lengthAdjust="spacingAndGlyphs">0</tspan><tspan textLength="33.41" lengthAdjust="spacingAndGlyphs">.74</tspan><tspan textLength="15.61" lengthAdjust="spacingAndGlyphs">0</tspan></text>
<line x1="2009" y1="878.5" x2="2148.5" y2="878.5" stroke="#5a5a5a" stroke-width="1.2"/>
<text font-size="23" x="2050.5" y="899.5" fill="#5c5c5c"><tspan textLength="15.61" lengthAdjust="spacingAndGlyphs">0</tspan><tspan textLength="20.04" lengthAdjust="spacingAndGlyphs">.5</tspan><tspan textLength="8.44" lengthAdjust="spacingAndGlyphs" stroke="#5c5c5c" stroke-width="0.48">1</tspan><tspan textLength="13.37" lengthAdjust="spacingAndGlyphs">3</tspan></text>
<text font-size="27.6" x="-92.63" y="0" transform="translate(2036.25 967.25) rotate(-45)" textLength="93.9" lengthAdjust="spacingAndGlyphs">Vehicle</text>
<text font-size="27.6" x="-84.29" y="0" transform="translate(2091.75 967.25) rotate(-45)" textLength="85.52" lengthAdjust="spacingAndGlyphs">ML226</text>
<text font-size="27.6" x="-109.79" y="0" transform="translate(2145.75 967.25) rotate(-45)" textLength="111.88" lengthAdjust="spacingAndGlyphs">DM-2OG</text>
<text font-size="27.6" x="135.99" y="1252.5"><tspan textLength="58" lengthAdjust="spacingAndGlyphs">Day </tspan><tspan textLength="20.26" lengthAdjust="spacingAndGlyphs" stroke="#000" stroke-width="0.58">11</tspan><tspan textLength="176.39" lengthAdjust="spacingAndGlyphs"> + reactivation</tspan></text>
<text font-size="27.6" x="136.15" y="1290.5" textLength="55.94" lengthAdjust="spacingAndGlyphs">IFNγ</text>
<text font-size="27.6" x="-106.49" y="0" transform="translate(23 1453.5) rotate(-90)" textLength="213.39" lengthAdjust="spacingAndGlyphs">Concentration in</text>
<text font-size="27.6" x="-126.57" y="0" transform="translate(56.3 1453) rotate(-90)" textLength="254.13" lengthAdjust="spacingAndGlyphs">supernatant (ng/ml)</text>
<text font-size="27.6" x="29.03" y="1642.5" textLength="84.69" lengthAdjust="spacingAndGlyphs">ML226</text>
<path d="M129.5 1305V1601M120.5 1601H500M120.5 1305H129.5M120.5 1403.75H129.5M120.5 1502.5H129.5M161.25 1601v9M210 1601v9M290.5 1601v9M339 1601v9M419.5 1601v9M468 1601v9" fill="none" stroke="#000" stroke-width="1.45"/>
<text font-size="23" x="88" y="1313.6"><tspan textLength="8.44" lengthAdjust="spacingAndGlyphs" stroke="#000" stroke-width="0.48">1</tspan><tspan textLength="13.37" lengthAdjust="spacingAndGlyphs">5</tspan></text>
<text font-size="23" x="85.85" y="1412.05"><tspan textLength="8.44" lengthAdjust="spacingAndGlyphs" stroke="#000" stroke-width="0.48">1</tspan><tspan textLength="15.61" lengthAdjust="spacingAndGlyphs">0</tspan></text>
<text font-size="23" x="96.44" y="1510.8" textLength="13.37" lengthAdjust="spacingAndGlyphs">5</text>
<text font-size="23" x="94.29" y="1609.3" textLength="15.61" lengthAdjust="spacingAndGlyphs">0</text>
<path d="M161.5 1506V1548.25M152.9 1506h17.2M152.9 1548.25h17.2M145.2 1527.5h32.6M210 1510V1565.25M201.4 1510h17.2M201.4 1565.25h17.2M193.7 1537.5h32.6M290.5 1447V1529.25M281.9 1447h17.2M281.9 1529.25h17.2M274.2 1488h32.6M339.25 1478.25V1554.5M330.65 1478.25h17.2M330.65 1554.5h17.2M322.95 1516.5h32.6M419.75 1394.75V1512.25M411.15 1394.75h17.2M411.15 1512.25h17.2M403.45 1453.25h32.6M468.25 1505.25V1551.75M459.65 1505.25h17.2M459.65 1551.75h17.2M451.95 1528.75h32.6" fill="none" stroke="#111" stroke-width="1.45"/>
<path d="M145.45 1505.75a5.8 5.8 0 1 0 11.6 0a5.8 5.8 0 1 0 -11.6 0zM166.2 1508.75a5.8 5.8 0 1 0 11.6 0a5.8 5.8 0 1 0 -11.6 0zM155.95 1516a5.8 5.8 0 1 0 11.6 0a5.8 5.8 0 1 0 -11.6 0zM145.45 1522.5a5.8 5.8 0 1 0 11.6 0a5.8 5.8 0 1 0 -11.6 0zM166.2 1525a5.8 5.8 0 1 0 11.6 0a5.8 5.8 0 1 0 -11.6 0zM160.45 1552.25a5.8 5.8 0 1 0 11.6 0a5.8 5.8 0 1 0 -11.6 0zM150.2 1560.25a5.8 5.8 0 1 0 11.6 0a5.8 5.8 0 1 0 -11.6 0z" fill="#ababab"/>
<path d="M204.2 1479.25a5.8 5.8 0 1 0 11.6 0a5.8 5.8 0 1 0 -11.6 0zM204.2 1522.5a5.8 5.8 0 1 0 11.6 0a5.8 5.8 0 1 0 -11.6 0zM199.2 1537a5.8 5.8 0 1 0 11.6 0a5.8 5.8 0 1 0 -11.6 0zM209.2 1534.5a5.8 5.8 0 1 0 11.6 0a5.8 5.8 0 1 0 -11.6 0zM193.7 1550.75a5.8 5.8 0 1 0 11.6 0a5.8 5.8 0 1 0 -11.6 0zM204.2 1552.5a5.8 5.8 0 1 0 11.6 0a5.8 5.8 0 1 0 -11.6 0zM214.7 1558a5.8 5.8 0 1 0 11.6 0a5.8 5.8 0 1 0 -11.6 0zM193.7 1567a5.8 5.8 0 1 0 11.6 0a5.8 5.8 0 1 0 -11.6 0z" fill="#fc9090"/>
<path d="M274.45 1429.75a5.8 5.8 0 1 0 11.6 0a5.8 5.8 0 1 0 -11.6 0zM295.2 1432a5.8 5.8 0 1 0 11.6 0a5.8 5.8 0 1 0 -11.6 0zM274.45 1495.5a5.8 5.8 0 1 0 11.6 0a5.8 5.8 0 1 0 -11.6 0zM295.2 1496.5a5.8 5.8 0 1 0 11.6 0a5.8 5.8 0 1 0 -11.6 0zM274.45 1513a5.8 5.8 0 1 0 11.6 0a5.8 5.8 0 1 0 -11.6 0zM295.2 1516.25a5.8 5.8 0 1 0 11.6 0a5.8 5.8 0 1 0 -11.6 0zM284.7 1533.75a5.8 5.8 0 1 0 11.6 0a5.8 5.8 0 1 0 -11.6 0z" fill="#ababab"/>
<path d="M333.45 1432a5.8 5.8 0 1 0 11.6 0a5.8 5.8 0 1 0 -11.6 0zM333.45 1496.25a5.8 5.8 0 1 0 11.6 0a5.8 5.8 0 1 0 -11.6 0zM343.7 1516a5.8 5.8 0 1 0 11.6 0a5.8 5.8 0 1 0 -11.6 0zM333.45 1527a5.8 5.8 0 1 0 11.6 0a5.8 5.8 0 1 0 -11.6 0zM322.95 1531.75a5.8 5.8 0 1 0 11.6 0a5.8 5.8 0 1 0 -11.6 0zM343.7 1532.25a5.8 5.8 0 1 0 11.6 0a5.8 5.8 0 1 0 -11.6 0zM327.95 1549.25a5.8 5.8 0 1 0 11.6 0a5.8 5.8 0 1 0 -11.6 0zM337.95 1548a5.8 5.8 0 1 0 11.6 0a5.8 5.8 0 1 0 -11.6 0z" fill="#fc9090"/>
<path d="M413.95 1352.5a5.8 5.8 0 1 0 11.6 0a5.8 5.8 0 1 0 -11.6 0zM413.95 1405.25a5.8 5.8 0 1 0 11.6 0a5.8 5.8 0 1 0 -11.6 0zM413.95 1444.25a5.8 5.8 0 1 0 11.6 0a5.8 5.8 0 1 0 -11.6 0zM403.45 1474a5.8 5.8 0 1 0 11.6 0a5.8 5.8 0 1 0 -11.6 0zM424.2 1471.75a5.8 5.8 0 1 0 11.6 0a5.8 5.8 0 1 0 -11.6 0zM413.95 1507a5.8 5.8 0 1 0 11.6 0a5.8 5.8 0 1 0 -11.6 0zM413.95 1521.5a5.8 5.8 0 1 0 11.6 0a5.8 5.8 0 1 0 -11.6 0z" fill="#ababab"/>
<path d="M462.45 1485.5a5.8 5.8 0 1 0 11.6 0a5.8 5.8 0 1 0 -11.6 0zM451.95 1517.25a5.8 5.8 0 1 0 11.6 0a5.8 5.8 0 1 0 -11.6 0zM472.7 1519.75a5.8 5.8 0 1 0 11.6 0a5.8 5.8 0 1 0 -11.6 0zM462.45 1524.5a5.8 5.8 0 1 0 11.6 0a5.8 5.8 0 1 0 -11.6 0zM451.95 1529.5a5.8 5.8 0 1 0 11.6 0a5.8 5.8 0 1 0 -11.6 0zM472.7 1539.25a5.8 5.8 0 1 0 11.6 0a5.8 5.8 0 1 0 -11.6 0zM462.45 1549.5a5.8 5.8 0 1 0 11.6 0a5.8 5.8 0 1 0 -11.6 0zM462.45 1563a5.8 5.8 0 1 0 11.6 0a5.8 5.8 0 1 0 -11.6 0z" fill="#fc9090"/>
<line x1="403" y1="1337" x2="483.75" y2="1337" stroke="#5a5a5a" stroke-width="1.2"/>
<text font-size="23" x="412.1" y="1327.5" fill="#5c5c5c"><tspan textLength="15.61" lengthAdjust="spacingAndGlyphs">0</tspan><tspan textLength="6.68" lengthAdjust="spacingAndGlyphs">.</tspan><tspan textLength="31.21" lengthAdjust="spacingAndGlyphs">00</tspan><tspan textLength="8.44" lengthAdjust="spacingAndGlyphs" stroke="#5c5c5c" stroke-width="0.48">1</tspan></text>
<text font-size="25" x="153.94" y="1642.1" textLength="14.6" lengthAdjust="spacingAndGlyphs">−</text>
<text font-size="25" x="202.71" y="1642.1" textLength="14.6" lengthAdjust="spacingAndGlyphs">+</text>
<text font-size="25" x="283.19" y="1642.1" textLength="14.6" lengthAdjust="spacingAndGlyphs">−</text>
<text font-size="25" x="331.71" y="1642.1" textLength="14.6" lengthAdjust="spacingAndGlyphs">+</text>
<text font-size="25" x="412.19" y="1642.1" textLength="14.6" lengthAdjust="spacingAndGlyphs">−</text>
<text font-size="25" x="460.71" y="1642.1" textLength="14.6" lengthAdjust="spacingAndGlyphs">+</text>
<line x1="145.75" y1="1653" x2="225.75" y2="1653" stroke="#333" stroke-width="1.3"/>
<line x1="274.5" y1="1653" x2="354.25" y2="1653" stroke="#333" stroke-width="1.3"/>
<line x1="404.25" y1="1653" x2="483.75" y2="1653" stroke="#333" stroke-width="1.3"/>
<text font-size="27.6" x="141.62" y="1682.5"><tspan textLength="15.3" lengthAdjust="spacingAndGlyphs">2</tspan><tspan textLength="10.13" lengthAdjust="spacingAndGlyphs" stroke="#000" stroke-width="0.58">1</tspan><tspan textLength="53.52" lengthAdjust="spacingAndGlyphs">% O</tspan></text>
<text font-size="16" x="219.53" y="1690.5" textLength="10.13" lengthAdjust="spacingAndGlyphs">2</text>
<text font-size="27.6" x="276.4" y="1682.5" textLength="68.4" lengthAdjust="spacingAndGlyphs">5% O</text>
<text font-size="16" x="343.78" y="1690.5" textLength="10.13" lengthAdjust="spacingAndGlyphs">2</text>
<text font-size="27.6" x="407.36" y="1682.5"><tspan textLength="10.13" lengthAdjust="spacingAndGlyphs" stroke="#000" stroke-width="0.58">1</tspan><tspan textLength="54.34" lengthAdjust="spacingAndGlyphs">% O</tspan></text>
<text font-size="16" x="470.78" y="1690.5" textLength="10.13" lengthAdjust="spacingAndGlyphs">2</text>
<text font-size="27.6" x="611.65" y="1291.3" textLength="77.26" lengthAdjust="spacingAndGlyphs">GZMB</text>
<path d="M604.5 1305V1601M595.5 1601H975.5M595.5 1305H604.5M595.5 1363.75H604.5M595.5 1423H604.5M595.5 1482.25H604.5M595.5 1541.75H604.5M636.5 1601v9M685 1601v9M765.5 1601v9M814.25 1601v9M894.5 1601v9M943 1601v9" fill="none" stroke="#000" stroke-width="1.45"/>
<text font-size="23" x="541.26" y="1313.6"><tspan textLength="26.73" lengthAdjust="spacingAndGlyphs">25</tspan><tspan textLength="15.61" lengthAdjust="spacingAndGlyphs">0</tspan></text>
<text font-size="23" x="539.02" y="1372.05"><tspan textLength="13.37" lengthAdjust="spacingAndGlyphs">2</tspan><tspan textLength="31.21" lengthAdjust="spacingAndGlyphs">00</tspan></text>
<text font-size="23" x="546.18" y="1431.3"><tspan textLength="8.44" lengthAdjust="spacingAndGlyphs" stroke="#000" stroke-width="0.48">1</tspan><tspan textLength="13.37" lengthAdjust="spacingAndGlyphs">5</tspan><tspan textLength="15.61" lengthAdjust="spacingAndGlyphs">0</tspan></text>
<text font-size="23" x="543.94" y="1490.55"><tspan textLength="8.44" lengthAdjust="spacingAndGlyphs" stroke="#000" stroke-width="0.48">1</tspan><tspan textLength="31.21" lengthAdjust="spacingAndGlyphs">00</tspan></text>
<text font-size="23" x="554.62" y="1550.05"><tspan textLength="13.37" lengthAdjust="spacingAndGlyphs">5</tspan><tspan textLength="15.61" lengthAdjust="spacingAndGlyphs">0</tspan></text>
<text font-size="23" x="567.99" y="1609.3" textLength="15.61" lengthAdjust="spacingAndGlyphs">0</text>
<path d="M636.8 1595.5V1598.5M628.2 1595.5h17.2M628.2 1598.5h17.2M620.5 1597h32.6M685.2 1593V1598M676.6 1593h17.2M676.6 1598h17.2M668.9 1595.5h32.6M765.5 1524.75V1594.75M756.9 1524.75h17.2M756.9 1594.75h17.2M749.2 1559.5h32.6M814.25 1571.5V1600.5M805.65 1571.5h17.2M805.65 1600.5h17.2M797.95 1586.75h32.6M894.75 1362.5V1471.25M886.15 1362.5h17.2M886.15 1471.25h17.2M878.45 1417h32.6M943.25 1460.75V1566.5M934.65 1460.75h17.2M934.65 1566.5h17.2M926.95 1513.75h32.6" fill="none" stroke="#111" stroke-width="1.45"/>
<path d="M627.2 1592.25a5.8 5.8 0 1 0 11.6 0a5.8 5.8 0 1 0 -11.6 0zM641.7 1595.75a5.8 5.8 0 1 0 11.6 0a5.8 5.8 0 1 0 -11.6 0zM620.45 1600.75a5.8 5.8 0 1 0 11.6 0a5.8 5.8 0 1 0 -11.6 0zM634.7 1599.5a5.8 5.8 0 1 0 11.6 0a5.8 5.8 0 1 0 -11.6 0z" fill="#ababab"/>
<path d="M675.45 1591.5a5.8 5.8 0 1 0 11.6 0a5.8 5.8 0 1 0 -11.6 0zM689.7 1595.5a5.8 5.8 0 1 0 11.6 0a5.8 5.8 0 1 0 -11.6 0zM668.45 1597.25a5.8 5.8 0 1 0 11.6 0a5.8 5.8 0 1 0 -11.6 0zM682.7 1597.5a5.8 5.8 0 1 0 11.6 0a5.8 5.8 0 1 0 -11.6 0z" fill="#fc9090"/>
<path d="M759.7 1512.5a5.8 5.8 0 1 0 11.6 0a5.8 5.8 0 1 0 -11.6 0zM759.7 1553.75a5.8 5.8 0 1 0 11.6 0a5.8 5.8 0 1 0 -11.6 0zM749.2 1588.5a5.8 5.8 0 1 0 11.6 0a5.8 5.8 0 1 0 -11.6 0zM770.2 1584a5.8 5.8 0 1 0 11.6 0a5.8 5.8 0 1 0 -11.6 0z" fill="#ababab"/>
<path d="M808.45 1564a5.8 5.8 0 1 0 11.6 0a5.8 5.8 0 1 0 -11.6 0zM797.95 1594.5a5.8 5.8 0 1 0 11.6 0a5.8 5.8 0 1 0 -11.6 0zM808.45 1594a5.8 5.8 0 1 0 11.6 0a5.8 5.8 0 1 0 -11.6 0zM818.7 1594a5.8 5.8 0 1 0 11.6 0a5.8 5.8 0 1 0 -11.6 0z" fill="#fc9090"/>
<path d="M888.95 1356.25a5.8 5.8 0 1 0 11.6 0a5.8 5.8 0 1 0 -11.6 0zM888.95 1387a5.8 5.8 0 1 0 11.6 0a5.8 5.8 0 1 0 -11.6 0zM888.95 1452.5a5.8 5.8 0 1 0 11.6 0a5.8 5.8 0 1 0 -11.6 0zM888.95 1472a5.8 5.8 0 1 0 11.6 0a5.8 5.8 0 1 0 -11.6 0z" fill="#ababab"/>
<path d="M937.45 1447a5.8 5.8 0 1 0 11.6 0a5.8 5.8 0 1 0 -11.6 0zM937.45 1497a5.8 5.8 0 1 0 11.6 0a5.8 5.8 0 1 0 -11.6 0zM937.45 1548.5a5.8 5.8 0 1 0 11.6 0a5.8 5.8 0 1 0 -11.6 0zM937.45 1562.75a5.8 5.8 0 1 0 11.6 0a5.8 5.8 0 1 0 -11.6 0z" fill="#fc9090"/>
<line x1="878.25" y1="1341.75" x2="959" y2="1341.75" stroke="#5a5a5a" stroke-width="1.2"/>
<text font-size="23" x="885.3" y="1331.75" fill="#5c5c5c"><tspan textLength="15.61" lengthAdjust="spacingAndGlyphs">0</tspan><tspan textLength="6.68" lengthAdjust="spacingAndGlyphs">.</tspan><tspan textLength="31.21" lengthAdjust="spacingAndGlyphs">00</tspan><tspan textLength="13.37" lengthAdjust="spacingAndGlyphs">3</tspan></text>
<text font-size="25" x="629.19" y="1642.1" textLength="14.6" lengthAdjust="spacingAndGlyphs">−</text>
<text font-size="25" x="677.71" y="1642.1" textLength="14.6" lengthAdjust="spacingAndGlyphs">+</text>
<text font-size="25" x="758.19" y="1642.1" textLength="14.6" lengthAdjust="spacingAndGlyphs">−</text>
<text font-size="25" x="806.96" y="1642.1" textLength="14.6" lengthAdjust="spacingAndGlyphs">+</text>
<text font-size="25" x="887.19" y="1642.1" textLength="14.6" lengthAdjust="spacingAndGlyphs">−</text>
<text font-size="25" x="935.71" y="1642.1" textLength="14.6" lengthAdjust="spacingAndGlyphs">+</text>
<line x1="620.5" y1="1653" x2="700.2" y2="1653" stroke="#333" stroke-width="1.3"/>
<line x1="749.3" y1="1653" x2="829.3" y2="1653" stroke="#333" stroke-width="1.3"/>
<line x1="878.6" y1="1653" x2="959" y2="1653" stroke="#333" stroke-width="1.3"/>
<text font-size="27.6" x="616.61" y="1682.5"><tspan textLength="15.36" lengthAdjust="spacingAndGlyphs">2</tspan><tspan textLength="10.13" lengthAdjust="spacingAndGlyphs" stroke="#000" stroke-width="0.58">1</tspan><tspan textLength="53.72" lengthAdjust="spacingAndGlyphs">% O</tspan></text>
<text font-size="16" x="694.78" y="1690.5" textLength="10.13" lengthAdjust="spacingAndGlyphs">2</text>
<text font-size="27.6" x="751.1" y="1682.5" textLength="68.71" lengthAdjust="spacingAndGlyphs">5% O</text>
<text font-size="16" x="818.78" y="1690.5" textLength="10.13" lengthAdjust="spacingAndGlyphs">2</text>
<text font-size="27.6" x="882.61" y="1682.5"><tspan textLength="10.13" lengthAdjust="spacingAndGlyphs" stroke="#000" stroke-width="0.58">1</tspan><tspan textLength="54.6" lengthAdjust="spacingAndGlyphs">% O</tspan></text>
<text font-size="16" x="946.28" y="1690.5" textLength="10.13" lengthAdjust="spacingAndGlyphs">2</text>
<text font-size="27.6" x="1058.38" y="1291.3" textLength="57.48" lengthAdjust="spacingAndGlyphs">FasL</text>
<path d="M1051.25 1305V1601M1042.25 1601H1422M1042.25 1305H1051.25M1042.25 1403.5H1051.25M1042.25 1502.25H1051.25M1083 1601v9M1131.5 1601v9M1212 1601v9M1260.75 1601v9M1341.25 1601v9M1389.5 1601v9" fill="none" stroke="#000" stroke-width="1.45"/>
<text font-size="23" x="1002.12" y="1313.6"><tspan textLength="13.37" lengthAdjust="spacingAndGlyphs">3</tspan><tspan textLength="15.61" lengthAdjust="spacingAndGlyphs">0</tspan></text>
<text font-size="23" x="1002.12" y="1411.8"><tspan textLength="13.37" lengthAdjust="spacingAndGlyphs">2</tspan><tspan textLength="15.61" lengthAdjust="spacingAndGlyphs">0</tspan></text>
<text font-size="23" x="1007.05" y="1510.55"><tspan textLength="8.44" lengthAdjust="spacingAndGlyphs" stroke="#000" stroke-width="0.48">1</tspan><tspan textLength="15.61" lengthAdjust="spacingAndGlyphs">0</tspan></text>
<text font-size="23" x="1015.49" y="1609.3" textLength="15.61" lengthAdjust="spacingAndGlyphs">0</text>
<path d="M1083.25 1556.5V1578.25M1074.65 1556.5h17.2M1074.65 1578.25h17.2M1066.95 1567h32.6M1131.75 1562V1578.5M1123.15 1562h17.2M1123.15 1578.5h17.2M1115.45 1570.25h32.6M1212 1524.5V1567.5M1203.4 1524.5h17.2M1203.4 1567.5h17.2M1195.7 1545.75h32.6M1260.75 1537.75V1581M1252.15 1537.75h17.2M1252.15 1581h17.2M1244.45 1559.25h32.6M1341.25 1425.5V1555.5M1332.65 1425.5h17.2M1332.65 1555.5h17.2M1324.95 1490.25h32.6M1389.5 1527.5V1551.5M1380.9 1527.5h17.2M1380.9 1551.5h17.2M1373.2 1539h32.6" fill="none" stroke="#111" stroke-width="1.45"/>
<path d="M1077.45 1545.25a5.8 5.8 0 1 0 11.6 0a5.8 5.8 0 1 0 -11.6 0zM1071.7 1565.75a5.8 5.8 0 1 0 11.6 0a5.8 5.8 0 1 0 -11.6 0zM1087.95 1565a5.8 5.8 0 1 0 11.6 0a5.8 5.8 0 1 0 -11.6 0zM1066.7 1573a5.8 5.8 0 1 0 11.6 0a5.8 5.8 0 1 0 -11.6 0zM1077.45 1570.5a5.8 5.8 0 1 0 11.6 0a5.8 5.8 0 1 0 -11.6 0zM1087.95 1579.25a5.8 5.8 0 1 0 11.6 0a5.8 5.8 0 1 0 -11.6 0zM1082.95 1570a5.8 5.8 0 1 0 11.6 0a5.8 5.8 0 1 0 -11.6 0z" fill="#ababab"/>
<path d="M1120.45 1559.75a5.8 5.8 0 1 0 11.6 0a5.8 5.8 0 1 0 -11.6 0zM1131.2 1563.75a5.8 5.8 0 1 0 11.6 0a5.8 5.8 0 1 0 -11.6 0zM1115.45 1575a5.8 5.8 0 1 0 11.6 0a5.8 5.8 0 1 0 -11.6 0zM1125.95 1573.75a5.8 5.8 0 1 0 11.6 0a5.8 5.8 0 1 0 -11.6 0zM1120.45 1568.25a5.8 5.8 0 1 0 11.6 0a5.8 5.8 0 1 0 -11.6 0zM1131.2 1570a5.8 5.8 0 1 0 11.6 0a5.8 5.8 0 1 0 -11.6 0zM1136.2 1580.75a5.8 5.8 0 1 0 11.6 0a5.8 5.8 0 1 0 -11.6 0zM1125.95 1567.5a5.8 5.8 0 1 0 11.6 0a5.8 5.8 0 1 0 -11.6 0z" fill="#fc9090"/>
<path d="M1200.95 1515.75a5.8 5.8 0 1 0 11.6 0a5.8 5.8 0 1 0 -11.6 0zM1211.45 1513a5.8 5.8 0 1 0 11.6 0a5.8 5.8 0 1 0 -11.6 0zM1206.2 1543.75a5.8 5.8 0 1 0 11.6 0a5.8 5.8 0 1 0 -11.6 0zM1195.95 1552.5a5.8 5.8 0 1 0 11.6 0a5.8 5.8 0 1 0 -11.6 0zM1216.7 1550a5.8 5.8 0 1 0 11.6 0a5.8 5.8 0 1 0 -11.6 0zM1206.2 1557a5.8 5.8 0 1 0 11.6 0a5.8 5.8 0 1 0 -11.6 0zM1216.7 1563.5a5.8 5.8 0 1 0 11.6 0a5.8 5.8 0 1 0 -11.6 0zM1195.95 1573.25a5.8 5.8 0 1 0 11.6 0a5.8 5.8 0 1 0 -11.6 0z" fill="#ababab"/>
<path d="M1254.95 1517a5.8 5.8 0 1 0 11.6 0a5.8 5.8 0 1 0 -11.6 0zM1257.95 1541a5.8 5.8 0 1 0 11.6 0a5.8 5.8 0 1 0 -11.6 0zM1251.45 1551.25a5.8 5.8 0 1 0 11.6 0a5.8 5.8 0 1 0 -11.6 0zM1244.2 1568.25a5.8 5.8 0 1 0 11.6 0a5.8 5.8 0 1 0 -11.6 0zM1251.45 1565a5.8 5.8 0 1 0 11.6 0a5.8 5.8 0 1 0 -11.6 0zM1257.95 1573.75a5.8 5.8 0 1 0 11.6 0a5.8 5.8 0 1 0 -11.6 0zM1265.45 1574.25a5.8 5.8 0 1 0 11.6 0a5.8 5.8 0 1 0 -11.6 0zM1244.2 1582.5a5.8 5.8 0 1 0 11.6 0a5.8 5.8 0 1 0 -11.6 0z" fill="#fc9090"/>
<path d="M1335.45 1339.5a5.8 5.8 0 1 0 11.6 0a5.8 5.8 0 1 0 -11.6 0zM1335.45 1475a5.8 5.8 0 1 0 11.6 0a5.8 5.8 0 1 0 -11.6 0zM1335.45 1494a5.8 5.8 0 1 0 11.6 0a5.8 5.8 0 1 0 -11.6 0zM1335.45 1506.75a5.8 5.8 0 1 0 11.6 0a5.8 5.8 0 1 0 -11.6 0zM1324.95 1518a5.8 5.8 0 1 0 11.6 0a5.8 5.8 0 1 0 -11.6 0zM1346.2 1520.5a5.8 5.8 0 1 0 11.6 0a5.8 5.8 0 1 0 -11.6 0zM1335.45 1523a5.8 5.8 0 1 0 11.6 0a5.8 5.8 0 1 0 -11.6 0zM1335.45 1548.75a5.8 5.8 0 1 0 11.6 0a5.8 5.8 0 1 0 -11.6 0z" fill="#ababab"/>
<path d="M1394.2 1520.75a5.8 5.8 0 1 0 11.6 0a5.8 5.8 0 1 0 -11.6 0zM1387.45 1525a5.8 5.8 0 1 0 11.6 0a5.8 5.8 0 1 0 -11.6 0zM1380.45 1528.75a5.8 5.8 0 1 0 11.6 0a5.8 5.8 0 1 0 -11.6 0zM1373.7 1543a5.8 5.8 0 1 0 11.6 0a5.8 5.8 0 1 0 -11.6 0zM1380.45 1542.5a5.8 5.8 0 1 0 11.6 0a5.8 5.8 0 1 0 -11.6 0zM1394.2 1547a5.8 5.8 0 1 0 11.6 0a5.8 5.8 0 1 0 -11.6 0zM1387.45 1550.75a5.8 5.8 0 1 0 11.6 0a5.8 5.8 0 1 0 -11.6 0zM1373.7 1556.25a5.8 5.8 0 1 0 11.6 0a5.8 5.8 0 1 0 -11.6 0z" fill="#fc9090"/>
<line x1="1325" y1="1324.75" x2="1405.75" y2="1324.75" stroke="#5a5a5a" stroke-width="1.2"/>
<text font-size="23" x="1331.55" y="1314.25" fill="#5c5c5c"><tspan textLength="15.61" lengthAdjust="spacingAndGlyphs">0</tspan><tspan textLength="6.68" lengthAdjust="spacingAndGlyphs">.</tspan><tspan textLength="31.21" lengthAdjust="spacingAndGlyphs">00</tspan><tspan textLength="13.37" lengthAdjust="spacingAndGlyphs">3</tspan></text>
<text font-size="25" x="1075.69" y="1642.1" textLength="14.6" lengthAdjust="spacingAndGlyphs">−</text>
<text font-size="25" x="1124.21" y="1642.1" textLength="14.6" lengthAdjust="spacingAndGlyphs">+</text>
<text font-size="25" x="1204.69" y="1642.1" textLength="14.6" lengthAdjust="spacingAndGlyphs">−</text>
<text font-size="25" x="1253.46" y="1642.1" textLength="14.6" lengthAdjust="spacingAndGlyphs">+</text>
<text font-size="25" x="1333.94" y="1642.1" textLength="14.6" lengthAdjust="spacingAndGlyphs">−</text>
<text font-size="25" x="1382.21" y="1642.1" textLength="14.6" lengthAdjust="spacingAndGlyphs">+</text>
<line x1="1067" y1="1653" x2="1146.8" y2="1653" stroke="#333" stroke-width="1.3"/>
<line x1="1196.5" y1="1653" x2="1275.9" y2="1653" stroke="#333" stroke-width="1.3"/>
<line x1="1325.9" y1="1653" x2="1405.6" y2="1653" stroke="#333" stroke-width="1.3"/>
<text font-size="27.6" x="1063.62" y="1682.5"><tspan textLength="15.22" lengthAdjust="spacingAndGlyphs">2</tspan><tspan textLength="10.13" lengthAdjust="spacingAndGlyphs" stroke="#000" stroke-width="0.58">1</tspan><tspan textLength="53.23" lengthAdjust="spacingAndGlyphs">% O</tspan></text>
<text font-size="16" x="1141.18" y="1690.5" textLength="10.13" lengthAdjust="spacingAndGlyphs">2</text>
<text font-size="27.6" x="1198.31" y="1682.5" textLength="68.2" lengthAdjust="spacingAndGlyphs">5% O</text>
<text font-size="16" x="1265.48" y="1690.5" textLength="10.13" lengthAdjust="spacingAndGlyphs">2</text>
<text font-size="27.6" x="1329.81" y="1682.5"><tspan textLength="10.13" lengthAdjust="spacingAndGlyphs" stroke="#000" stroke-width="0.58">1</tspan><tspan textLength="54.19" lengthAdjust="spacingAndGlyphs">% O</tspan></text>
<text font-size="16" x="1393.08" y="1690.5" textLength="10.13" lengthAdjust="spacingAndGlyphs">2</text>
<defs><radialGradient id="gm" gradientUnits="userSpaceOnUse" cx="0" cy="0" r="1" gradientTransform="translate(1635.3 1459.5) scale(150 70)"><stop offset="0.72" stop-color="#fff"/><stop offset="1" stop-color="#e3ebf8"/></radialGradient><linearGradient id="ga" x1="0" x2="1" y1="0" y2="0"><stop offset="0" stop-color="#b4714f"/><stop offset="0.5" stop-color="#f6e3d8"/><stop offset="1" stop-color="#b4714f"/></linearGradient><linearGradient id="ga2" x1="0" x2="0" y1="0" y2="1"><stop offset="0" stop-color="#b4714f" stop-opacity="0.75"/><stop offset="0.5" stop-color="#b4714f" stop-opacity="0"/><stop offset="1" stop-color="#b4714f" stop-opacity="0.75"/></linearGradient><radialGradient id="go" cx="50%" cy="50%" r="70%"><stop offset="0" stop-color="#e6f0fa"/><stop offset="1" stop-color="#b9d5ef"/></radialGradient></defs>
<text font-size="27.6" x="1522.41" y="1224.5" textLength="54.78" lengthAdjust="spacingAndGlyphs">CD8</text>
<text font-size="16" x="1577.65" y="1214.5" textLength="10.22" lengthAdjust="spacingAndGlyphs">+</text>
<text font-size="27.6" x="1595.35" y="1224.5" textLength="69.08" lengthAdjust="spacingAndGlyphs">T cell</text>
<path d="M1883.5 1579.2A231.4 225.4 0 1 0 1865.8 1604.9A17.2 17.2 0 1 1 1883.5 1579.2Z" fill="#feebdf" stroke="#f2ab7f" stroke-width="3.5" stroke-linejoin="round"/>
<circle cx="1853.3" cy="1553.4" r="15.2" fill="#fff" stroke="#f2ab7f" stroke-width="3.2"/>
<circle cx="1832.3" cy="1583.6" r="15.2" fill="#fff" stroke="#f2ab7f" stroke-width="3.2"/>
<circle cx="1868.4" cy="1588.8" r="8.8" fill="#8aa2d8" stroke="#2b4d9c" stroke-width="3"/>
<circle cx="1891.7" cy="1597" r="8.8" fill="#8aa2d8" stroke="#2b4d9c" stroke-width="3"/>
<circle cx="1916.9" cy="1613.5" r="8.8" fill="#8aa2d8" stroke="#2b4d9c" stroke-width="3"/>
<circle cx="1891.7" cy="1622.2" r="8.8" fill="#8aa2d8" stroke="#2b4d9c" stroke-width="3"/>
<ellipse cx="1593.4" cy="1608.2" rx="50" ry="34.5" fill="#f7c7aa" stroke="#f2ab7f" stroke-width="3.2"/>
<text font-size="24.7" x="1550.27" y="1615.7" font-style="italic" textLength="85.51" lengthAdjust="spacingAndGlyphs">Nucleus</text>
<path d="M1557.8 1385.8H1712.8A74 74 0 0 1 1712.8 1533.8H1557.8A74 74 0 0 1 1557.8 1385.8Z" fill="#d5dff2" stroke="#808080" stroke-width="3"/>
<path d="M1558.1 1395.8H1547.2V1411.5Q1547.2 1416 1551.8 1416Q1556.4 1416 1556.4 1411.5V1395.8H1614.7V1411.5Q1614.7 1416 1619.3 1416Q1623.9 1416 1623.9 1411.5V1395.8H1682.4V1411.5Q1682.4 1416 1687 1416Q1691.6 1416 1691.6 1411.5V1395.8H1713.4A63.1 63.1 0 0 1 1713.4 1522H1720.9V1506.5Q1720.9 1502.2 1716.3 1502.2Q1711.7 1502.2 1711.7 1506.5V1522H1652.9V1506.5Q1652.9 1502.2 1648.3 1502.2Q1643.7 1502.2 1643.7 1506.5V1522H1585.4V1506.5Q1585.4 1502.2 1580.8 1502.2Q1576.2 1502.2 1576.2 1506.5V1522H1558.1A63.1 63.1 0 0 1 1558.1 1395.8Z" fill="url(#gm)" stroke="#808080" stroke-width="3"/>
<rect x="1561.3" y="1458" width="86.7" height="39.5" fill="url(#go)" rx="4"/>
<circle cx="1566.3" cy="1443.8" r="25.5" fill="#f2f2f2" stroke="#2d52a2" stroke-width="4"/>
<text font-size="20" x="1545.34" y="1446.3" textLength="22.51" lengthAdjust="spacingAndGlyphs">Lp</text>
<text font-size="12.5" x="1567.68" y="1452.6" textLength="19.59" lengthAdjust="spacingAndGlyphs">glu</text>
<text font-size="23.2" x="1563.19" y="1488.8" textLength="81.93" lengthAdjust="spacingAndGlyphs">OGDHc</text>
<rect x="1628.3" y="1432.5" width="93.5" height="38" fill="url(#ga)" rx="5"/>
<rect x="1628.3" y="1432.5" width="93.5" height="38" fill="url(#ga2)" rx="5"/>
<text font-size="23.2" x="1636.26" y="1458.8"><tspan textLength="62.46" lengthAdjust="spacingAndGlyphs">ABHD</tspan><tspan textLength="17.03" lengthAdjust="spacingAndGlyphs" stroke="#000" stroke-width="0.49">11</tspan></text>
<circle cx="1739.5" cy="1450.8" r="13.9" fill="#fff" stroke="#ee1111" stroke-width="3.5"/>
<text font-size="25" x="1732.19" y="1459.1" fill="#ee1111" textLength="14.6" lengthAdjust="spacingAndGlyphs">−</text>
<line x1="1570" y1="1349.5" x2="1570" y2="1398.5" stroke="#808080" stroke-width="4"/>
<path d="M1570 1412.5L1563.75 1396.5L1570 1398.5L1576.25 1396.5Z" fill="#808080"/>
<line x1="1733" y1="1424.5" x2="1733" y2="1369" stroke="#808080" stroke-width="4"/>
<path d="M1733 1355L1739.25 1371L1733 1369L1726.75 1371Z" fill="#808080"/>
<line x1="1672.5" y1="1341.3" x2="1672.5" y2="1322" stroke="#ee1111" stroke-width="4.2"/>
<path d="M1672.5 1308L1679.75 1325L1672.5 1322L1665.25 1325Z" fill="#ee1111"/>
<line x1="1529.5" y1="1463.8" x2="1529.5" y2="1444" stroke="#ee1111" stroke-width="4.2"/>
<path d="M1529.5 1430L1536.75 1447L1529.5 1444L1522.25 1447Z" fill="#ee1111"/>
<line x1="1800" y1="1441.3" x2="1800" y2="1461.5" stroke="#ee1111" stroke-width="4.2"/>
<path d="M1800 1475.5L1792.75 1458.5L1800 1461.5L1807.25 1458.5Z" fill="#ee1111"/>
<line x1="1922" y1="1300.8" x2="1922" y2="1281" stroke="#ee1111" stroke-width="4.2"/>
<path d="M1922 1267L1929.25 1284L1922 1281L1914.75 1284Z" fill="#ee1111"/>
<line x1="1922" y1="1329.5" x2="1922" y2="1348.7" stroke="#ee1111" stroke-width="4.2"/>
<path d="M1922 1362.7L1914.75 1345.7L1922 1348.7L1929.25 1345.7Z" fill="#ee1111"/>
<line x1="1980.7" y1="1575.7" x2="1980.7" y2="1596.2" stroke="#ee1111" stroke-width="4.2"/>
<path d="M1980.7 1610.2L1973.45 1593.2L1980.7 1596.2L1987.95 1593.2Z" fill="#ee1111"/>
<text font-size="23.2" x="1519.57" y="1319.5" textLength="100.82" lengthAdjust="spacingAndGlyphs">Glutarate</text>
<text font-size="23.2" x="1506.66" y="1347" textLength="126.27" lengthAdjust="spacingAndGlyphs">metabolism</text>
<text font-size="23.2" x="1684.29" y="1319.5" textLength="106.08" lengthAdjust="spacingAndGlyphs">Fatty acid</text>
<text font-size="23.2" x="1688.14" y="1347" textLength="99.02" lengthAdjust="spacingAndGlyphs">synthesis</text>
<text font-size="23.2" x="1809.44" y="1465.5" textLength="95.89" lengthAdjust="spacingAndGlyphs">OXPHOS</text>
<text font-size="24.7" x="1486.24" y="1556.3" font-style="italic" textLength="155.38" lengthAdjust="spacingAndGlyphs">Mitochondrion</text>
<text font-size="23.2" x="1943.25" y="1279.3" textLength="175" lengthAdjust="spacingAndGlyphs">Central memory</text>
<text font-size="23.2" x="1943.37" y="1305.3" textLength="60.76" lengthAdjust="spacingAndGlyphs">CCR7</text>
<text font-size="16.8" x="2003.32" y="1295" textLength="32.29" lengthAdjust="spacingAndGlyphs">high</text>
<text font-size="23.2" x="2035" y="1305.3" textLength="101.62" lengthAdjust="spacingAndGlyphs">/CD45RO</text>
<text font-size="16.8" x="2135.84" y="1295" textLength="31.76" lengthAdjust="spacingAndGlyphs">high</text>
<text font-size="23.2" x="1942.48" y="1342.8" textLength="180.57" lengthAdjust="spacingAndGlyphs">Effector memory</text>
<text font-size="23.2" x="1943.37" y="1370.2" textLength="60.76" lengthAdjust="spacingAndGlyphs">CCR7</text>
<text font-size="16.8" x="2003.4" y="1360" textLength="24.56" lengthAdjust="spacingAndGlyphs">low</text>
<text font-size="23.2" x="2029" y="1370.2" textLength="102.13" lengthAdjust="spacingAndGlyphs">/CD45RO</text>
<text font-size="16.8" x="2130.34" y="1360" textLength="31.76" lengthAdjust="spacingAndGlyphs">high</text>
<text font-size="23.2" x="2001.43" y="1585.5" textLength="129.2" lengthAdjust="spacingAndGlyphs">Granzyme B</text>
<text font-size="23.2" x="2001.58" y="1612" textLength="46.3" lengthAdjust="spacingAndGlyphs">IFNγ</text>
<text font-size="23.2" x="1952.71" y="1645.8" textLength="202.67" lengthAdjust="spacingAndGlyphs">Reduced secretion</text>
<text font-size="23.2" x="1999.59" y="1672.3" textLength="108.41" lengthAdjust="spacingAndGlyphs">in hypoxia</text>
</svg>
</body></html>
